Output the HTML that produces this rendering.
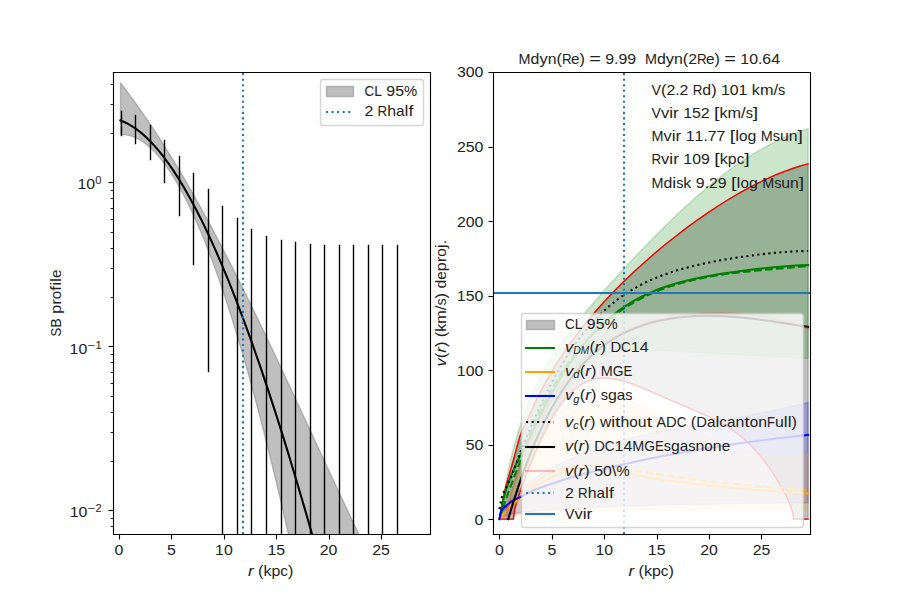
<!DOCTYPE html>
<html><head><meta charset="utf-8"><title>plot</title>
<style>html,body{margin:0;padding:0;background:#fff;width:900px;height:600px;overflow:hidden}svg{display:block}</style>
</head><body>
<svg width="900" height="600" viewBox="0 0 648 432" version="1.1">
<defs>
<style type="text/css">*{stroke-linejoin: round; stroke-linecap: butt}</style>
</defs>
<g id="figure_1">
<g id="patch_1">
<path d="M 0 432 L 648 432 L 648 0 L 0 0 z" style="fill: #ffffff"/>
</g>
<g id="axes_1">
<g id="patch_2">
<path d="M 81.36 384.48 L 309.6 384.48 L 309.6 51.84 L 81.36 51.84 z" style="fill: #ffffff"/>
</g>
<g id="FillBetweenPolyCollection_1">
<path d="M 86.76 59.54 
L 86.76 96.95 
L 87.03 96.94 
L 87.3 96.93 
L 87.58 96.93 
L 87.85 96.93 
L 88.12 96.93 
L 88.39 96.93 
L 88.67 96.94 
L 88.94 96.96 
L 89.21 96.97 
L 89.48 96.99 
L 89.76 97.01 
L 90.03 97.04 
L 90.3 97.07 
L 90.57 97.1 
L 90.85 97.14 
L 91.12 97.18 
L 91.39 97.22 
L 91.66 97.27 
L 91.94 97.32 
L 92.21 97.37 
L 92.48 97.43 
L 92.75 97.49 
L 93.03 97.56 
L 93.3 97.62 
L 93.57 97.69 
L 93.84 97.77 
L 94.12 97.85 
L 94.39 97.93 
L 94.66 98.01 
L 94.93 98.1 
L 95.21 98.19 
L 95.48 98.28 
L 95.75 98.38 
L 96.03 98.48 
L 96.3 98.59 
L 96.57 98.69 
L 96.84 98.81 
L 97.12 98.92 
L 97.39 99.04 
L 97.66 99.16 
L 97.93 99.28 
L 98.21 99.41 
L 98.48 99.54 
L 98.75 99.68 
L 99.02 99.81 
L 99.3 99.96 
L 99.57 100.1 
L 99.84 100.25 
L 100.11 100.4 
L 100.39 100.55 
L 100.66 100.71 
L 100.93 100.87 
L 101.2 101.04 
L 101.48 101.2 
L 101.75 101.37 
L 102.02 101.55 
L 102.29 101.72 
L 102.57 101.91 
L 102.84 102.09 
L 103.11 102.28 
L 103.38 102.47 
L 103.66 102.66 
L 103.93 102.86 
L 104.2 103.06 
L 104.47 103.26 
L 104.75 103.47 
L 105.02 103.68 
L 105.29 103.89 
L 105.56 104.11 
L 105.84 104.33 
L 106.11 104.55 
L 106.38 104.78 
L 106.65 105.01 
L 106.93 105.24 
L 107.2 105.48 
L 107.47 105.71 
L 107.74 105.96 
L 108.02 106.2 
L 108.29 106.45 
L 108.56 106.7 
L 108.83 106.96 
L 109.11 107.22 
L 109.38 107.48 
L 109.65 107.74 
L 109.92 108.01 
L 110.2 108.28 
L 110.47 108.56 
L 110.74 108.83 
L 111.01 109.11 
L 111.29 109.4 
L 111.56 109.69 
L 111.83 109.98 
L 112.11 110.27 
L 112.38 110.57 
L 112.65 110.87 
L 112.92 111.17 
L 113.2 111.47 
L 113.47 111.78 
L 113.74 112.1 
L 114.01 112.41 
L 114.29 112.73 
L 114.56 113.05 
L 114.83 113.38 
L 115.1 113.7 
L 115.38 114.04 
L 115.65 114.37 
L 115.92 114.71 
L 116.19 115.05 
L 116.47 115.39 
L 116.74 115.74 
L 117.01 116.09 
L 117.28 116.44 
L 117.56 116.8 
L 117.83 117.16 
L 118.1 117.52 
L 118.37 117.88 
L 118.65 118.25 
L 118.92 118.62 
L 119.19 119 
L 119.46 119.38 
L 119.74 119.76 
L 120.01 120.14 
L 120.28 120.53 
L 120.55 120.92 
L 120.83 121.31 
L 121.1 121.71 
L 121.37 122.11 
L 121.64 122.51 
L 121.92 122.91 
L 122.19 123.32 
L 122.46 123.73 
L 122.73 124.15 
L 123.01 124.56 
L 123.28 124.98 
L 123.55 125.41 
L 123.82 125.83 
L 124.1 126.26 
L 124.37 126.7 
L 124.64 127.13 
L 124.91 127.57 
L 125.19 128.01 
L 125.46 128.46 
L 125.73 128.9 
L 126 129.35 
L 126.28 129.81 
L 126.55 130.26 
L 126.82 130.72 
L 127.09 131.19 
L 127.37 131.65 
L 127.64 132.12 
L 127.91 132.59 
L 128.18 133.07 
L 128.46 133.54 
L 128.73 134.02 
L 129 134.51 
L 129.28 134.99 
L 129.55 135.48 
L 129.82 135.98 
L 130.09 136.47 
L 130.37 136.97 
L 130.64 137.47 
L 130.91 137.97 
L 131.18 138.48 
L 131.46 138.99 
L 131.73 139.5 
L 132 140.02 
L 132.27 140.54 
L 132.55 141.06 
L 132.82 141.58 
L 133.09 142.11 
L 133.36 142.64 
L 133.64 143.17 
L 133.91 143.71 
L 134.18 144.25 
L 134.45 144.79 
L 134.73 145.34 
L 135 145.88 
L 135.27 146.43 
L 135.54 146.99 
L 135.82 147.54 
L 136.09 148.1 
L 136.36 148.67 
L 136.63 149.23 
L 136.91 149.8 
L 137.18 150.37 
L 137.45 150.94 
L 137.72 151.52 
L 138 152.1 
L 138.27 152.68 
L 138.54 153.27 
L 138.81 153.85 
L 139.09 154.44 
L 139.36 155.04 
L 139.63 155.63 
L 139.9 156.23 
L 140.18 156.84 
L 140.45 157.44 
L 140.72 158.05 
L 140.99 158.66 
L 141.27 159.27 
L 141.54 159.89 
L 141.81 160.51 
L 142.08 161.13 
L 142.36 161.75 
L 142.63 162.38 
L 142.9 163.01 
L 143.17 163.64 
L 143.45 164.28 
L 143.72 164.92 
L 143.99 165.56 
L 144.26 166.2 
L 144.54 166.85 
L 144.81 167.5 
L 145.08 168.15 
L 145.35 168.81 
L 145.63 169.47 
L 145.9 170.13 
L 146.17 170.79 
L 146.45 171.46 
L 146.72 172.13 
L 146.99 172.8 
L 147.26 173.47 
L 147.54 174.15 
L 147.81 174.83 
L 148.08 175.51 
L 148.35 176.2 
L 148.63 176.89 
L 148.9 177.58 
L 149.17 178.27 
L 149.44 178.97 
L 149.72 179.67 
L 149.99 180.37 
L 150.26 181.07 
L 150.53 181.78 
L 150.81 182.49 
L 151.08 183.2 
L 151.35 183.92 
L 151.62 184.64 
L 151.9 185.36 
L 152.17 186.08 
L 152.44 186.81 
L 152.71 187.53 
L 152.99 188.27 
L 153.26 189 
L 153.53 189.74 
L 153.8 190.48 
L 154.08 191.22 
L 154.35 191.96 
L 154.62 192.71 
L 154.89 193.46 
L 155.17 194.21 
L 155.44 194.97 
L 155.71 195.73 
L 155.98 196.49 
L 156.26 197.25 
L 156.53 198.02 
L 156.8 198.78 
L 157.07 199.56 
L 157.35 200.33 
L 157.62 201.11 
L 157.89 201.89 
L 158.16 202.67 
L 158.44 203.45 
L 158.71 204.24 
L 158.98 205.03 
L 159.25 205.82 
L 159.53 206.61 
L 159.8 207.41 
L 160.07 208.21 
L 160.34 209.01 
L 160.62 209.82 
L 160.89 210.63 
L 161.16 211.44 
L 161.43 212.25 
L 161.71 213.07 
L 161.98 213.88 
L 162.25 214.7 
L 162.53 215.53 
L 162.8 216.35 
L 163.07 217.18 
L 163.34 218.01 
L 163.62 218.84 
L 163.89 219.68 
L 164.16 220.52 
L 164.43 221.36 
L 164.71 222.2 
L 164.98 223.05 
L 165.25 223.9 
L 165.52 224.75 
L 165.8 225.6 
L 166.07 226.46 
L 166.34 227.32 
L 166.61 228.18 
L 166.89 229.04 
L 167.16 229.91 
L 167.43 230.78 
L 167.7 231.65 
L 167.98 232.52 
L 168.25 233.4 
L 168.52 234.28 
L 168.79 235.16 
L 169.07 236.04 
L 169.34 236.93 
L 169.61 237.82 
L 169.88 238.71 
L 170.16 239.6 
L 170.43 240.5 
L 170.7 241.4 
L 170.97 242.3 
L 171.25 243.2 
L 171.52 244.11 
L 171.79 245.01 
L 172.06 245.92 
L 172.34 246.84 
L 172.61 247.75 
L 172.88 248.67 
L 173.15 249.59 
L 173.43 250.51 
L 173.7 251.44 
L 173.97 252.37 
L 174.24 253.3 
L 174.52 254.23 
L 174.79 255.17 
L 175.06 256.1 
L 175.33 257.04 
L 175.61 257.99 
L 175.88 258.93 
L 176.15 259.88 
L 176.42 260.83 
L 176.7 261.78 
L 176.97 262.73 
L 177.24 263.69 
L 177.51 264.65 
L 177.79 265.61 
L 178.06 266.57 
L 178.33 267.54 
L 178.6 268.51 
L 178.88 269.48 
L 179.15 270.45 
L 179.42 271.43 
L 179.7 272.41 
L 179.97 273.39 
L 180.24 274.37 
L 180.51 275.36 
L 180.79 276.34 
L 181.06 277.33 
L 181.33 278.32 
L 181.6 279.32 
L 181.88 280.32 
L 182.15 281.31 
L 182.42 282.32 
L 182.69 283.32 
L 182.97 284.33 
L 183.24 285.33 
L 183.51 286.35 
L 183.78 287.36 
L 184.06 288.37 
L 184.33 289.39 
L 184.6 290.41 
L 184.87 291.43 
L 185.15 292.46 
L 185.42 293.48 
L 185.69 294.51 
L 185.96 295.55 
L 186.24 296.58 
L 186.51 297.61 
L 186.78 298.65 
L 187.05 299.69 
L 187.33 300.74 
L 187.6 301.78 
L 187.87 302.83 
L 188.14 303.88 
L 188.42 304.93 
L 188.69 305.98 
L 188.96 307.04 
L 189.23 308.1 
L 189.51 309.16 
L 189.78 310.22 
L 190.05 311.29 
L 190.32 312.35 
L 190.6 313.42 
L 190.87 314.5 
L 191.14 315.57 
L 191.41 316.65 
L 191.69 317.73 
L 191.96 318.81 
L 192.23 319.89 
L 192.5 320.97 
L 192.78 322.06 
L 193.05 323.15 
L 193.32 324.24 
L 193.59 325.34 
L 193.87 326.43 
L 194.14 327.53 
L 194.41 328.63 
L 194.68 329.74 
L 194.96 330.84 
L 195.23 331.95 
L 195.5 333.06 
L 195.77 334.17 
L 196.05 335.28 
L 196.32 336.4 
L 196.59 337.52 
L 196.87 338.64 
L 197.14 339.76 
L 197.41 340.88 
L 197.68 342.01 
L 197.96 343.14 
L 198.23 344.27 
L 198.5 345.4 
L 198.77 346.54 
L 199.05 347.67 
L 199.32 348.81 
L 199.59 349.95 
L 199.86 351.1 
L 200.14 352.24 
L 200.41 353.39 
L 200.68 354.54 
L 200.95 355.69 
L 201.23 356.85 
L 201.5 358 
L 201.77 359.16 
L 202.04 360.32 
L 202.32 361.48 
L 202.59 362.65 
L 202.86 363.81 
L 203.13 364.98 
L 203.41 366.15 
L 203.68 367.33 
L 203.95 368.5 
L 204.22 369.68 
L 204.5 370.86 
L 204.77 372.04 
L 205.04 373.22 
L 205.31 374.41 
L 205.59 375.59 
L 205.86 376.78 
L 206.13 377.97 
L 206.4 379.17 
L 206.68 380.36 
L 206.95 381.56 
L 207.22 382.76 
L 207.49 383.96 
L 207.77 385.17 
L 208.04 386.37 
L 208.31 387.58 
L 208.58 388.79 
L 208.86 390 
L 209.13 391.21 
L 209.4 392.43 
L 209.67 393.65 
L 209.95 394.87 
L 210.22 396.09 
L 210.49 397.31 
L 210.76 398.54 
L 211.04 399.76 
L 211.31 400.99 
L 211.58 402.22 
L 211.85 403.46 
L 212.13 404.69 
L 212.4 405.93 
L 212.67 407.17 
L 212.94 408.41 
L 213.22 409.65 
L 213.49 410.9 
L 213.76 412.15 
L 214.04 413.4 
L 214.31 414.65 
L 214.58 415.9 
L 214.85 417.16 
L 215.13 418.41 
L 215.4 419.67 
L 215.67 420.93 
L 215.94 422.19 
L 216.22 423.46 
L 216.49 424.73 
L 216.76 425.99 
L 217.03 427.26 
L 217.31 428.54 
L 217.58 429.81 
L 217.85 431.09 
L 218.12 432.37 
L 218.4 433.64 
L 218.67 434.93 
L 218.94 436.21 
L 219.21 437.5 
L 219.49 438.78 
L 219.76 440.07 
L 220.03 441.36 
L 220.3 442.66 
L 220.58 443.95 
L 220.85 445.25 
L 221.12 446.55 
L 221.39 447.85 
L 221.67 449.15 
L 221.94 450.45 
L 222.21 451.76 
L 222.48 453.07 
L 222.76 454.38 
L 223.03 455.69 
L 223.3 457 
L 223.57 458.32 
L 223.85 459.64 
L 224.12 460.95 
L 224.39 462.27 
L 224.66 463.6 
L 224.94 464.92 
L 225.21 466.25 
L 225.48 467.58 
L 225.75 468.91 
L 226.03 470.24 
L 226.3 471.57 
L 226.57 472.91 
L 226.84 474.24 
L 227.12 475.58 
L 227.39 476.92 
L 227.66 478.27 
L 227.93 479.61 
L 228.21 480.96 
L 228.48 482.3 
L 228.75 483.65 
L 229.02 485 
L 229.3 486.36 
L 229.57 487.71 
L 229.84 489.07 
L 230.12 490.43 
L 230.39 491.79 
L 230.66 493.15 
L 230.93 494.51 
L 231.21 495.88 
L 231.48 497.24 
L 231.75 498.61 
L 232.02 499.98 
L 232.3 501.36 
L 232.57 502.73 
L 232.84 504.11 
L 233.11 505.48 
L 233.39 506.86 
L 233.66 508.24 
L 233.93 509.63 
L 234.2 511.01 
L 234.48 512.4 
L 234.75 513.78 
L 235.02 515.17 
L 235.29 516.56 
L 235.57 517.96 
L 235.84 519.35 
L 236.11 520.75 
L 236.38 522.14 
L 236.66 523.54 
L 236.93 524.95 
L 237.2 526.35 
L 237.47 527.75 
L 237.75 529.16 
L 238.02 530.57 
L 238.29 531.98 
L 238.56 533.39 
L 238.84 534.8 
L 239.11 536.21 
L 239.38 537.63 
L 239.65 539.05 
L 239.93 540.47 
L 240.2 541.89 
L 240.47 543.31 
L 240.74 544.74 
L 241.02 546.16 
L 241.29 547.59 
L 241.56 549.02 
L 241.83 550.45 
L 242.11 551.88 
L 242.38 553.31 
L 242.65 554.75 
L 242.92 556.19 
L 243.2 557.63 
L 243.47 559.07 
L 243.74 560.51 
L 244.01 561.95 
L 244.29 563.4 
L 244.56 564.84 
L 244.83 566.29 
L 245.1 567.74 
L 245.38 569.19 
L 245.65 570.65 
L 245.92 572.1 
L 246.19 573.56 
L 246.47 575.01 
L 246.74 576.47 
L 247.01 577.94 
L 247.29 579.4 
L 247.56 580.86 
L 247.83 582.33 
L 248.1 583.79 
L 248.38 585.26 
L 248.65 586.73 
L 248.92 588.2 
L 249.19 589.68 
L 249.47 591.15 
L 249.74 592.63 
L 250.01 594.11 
L 250.28 595.58 
L 250.56 597.07 
L 250.83 598.55 
L 251.1 600.03 
L 251.37 601.52 
L 251.65 603 
L 251.92 604.49 
L 252.19 605.98 
L 252.46 607.47 
L 252.74 608.97 
L 253.01 610.46 
L 253.28 611.96 
L 253.55 613.45 
L 253.83 614.95 
L 254.1 616.45 
L 254.37 617.95 
L 254.64 619.46 
L 254.92 620.96 
L 255.19 622.47 
L 255.46 623.97 
L 255.73 625.48 
L 256.01 626.99 
L 256.28 628.5 
L 256.55 630.02 
L 256.82 631.53 
L 257.1 633.05 
L 257.37 634.57 
L 257.64 636.08 
L 257.91 637.6 
L 258.19 639.13 
L 258.46 640.65 
L 258.73 642.17 
L 259 643.7 
L 259.28 645.23 
L 259.55 646.76 
L 259.82 648.29 
L 260.09 649.82 
L 260.37 651.35 
L 260.64 652.89 
L 260.91 654.42 
L 261.18 655.96 
L 261.46 657.5 
L 261.73 659.04 
L 262 660.58 
L 262.27 662.12 
L 262.55 663.66 
L 262.82 665.21 
L 263.09 666.76 
L 263.36 668.3 
L 263.64 669.85 
L 263.91 671.41 
L 264.18 672.96 
L 264.46 674.51 
L 264.73 676.07 
L 265 677.62 
L 265.27 679.18 
L 265.55 680.74 
L 265.82 682.3 
L 266.09 683.86 
L 266.36 685.42 
L 266.64 686.99 
L 266.91 688.55 
L 267.18 690.12 
L 267.45 691.69 
L 267.73 693.26 
L 268 694.83 
L 268.27 696.4 
L 268.54 697.97 
L 268.82 699.55 
L 269.09 701.12 
L 269.36 702.7 
L 269.63 704.28 
L 269.91 705.86 
L 270.18 707.44 
L 270.45 709.02 
L 270.72 710.61 
L 271 712.19 
L 271.27 713.78 
L 271.54 715.36 
L 271.81 716.95 
L 272.09 718.54 
L 272.36 720.13 
L 272.63 721.73 
L 272.9 723.32 
L 273.18 724.91 
L 273.45 726.51 
L 273.72 728.11 
L 273.99 729.71 
L 274.27 731.31 
L 274.54 732.91 
L 274.81 734.51 
L 275.08 736.11 
L 275.36 737.72 
L 275.63 739.32 
L 275.9 740.93 
L 276.17 742.54 
L 276.45 744.15 
L 276.72 745.76 
L 276.99 747.37 
L 277.26 748.98 
L 277.54 750.6 
L 277.81 752.21 
L 278.08 753.83 
L 278.35 755.45 
L 278.63 757.07 
L 278.9 758.69 
L 279.17 760.31 
L 279.44 761.93 
L 279.72 763.55 
L 279.99 765.18 
L 280.26 766.81 
L 280.54 768.43 
L 280.81 770.06 
L 281.08 771.69 
L 281.35 773.32 
L 281.63 774.95 
L 281.9 776.59 
L 282.17 778.22 
L 282.44 779.85 
L 282.72 781.49 
L 282.99 783.13 
L 283.26 784.77 
L 283.53 786.41 
L 283.81 788.05 
L 284.08 789.69 
L 284.35 791.33 
L 284.62 792.98 
L 284.9 794.62 
L 285.17 796.27 
L 285.44 797.91 
L 285.71 799.56 
L 285.99 801.21 
L 286.26 802.86 
L 286.53 804.51 
L 286.8 806.17 
L 287.08 807.82 
L 287.35 809.48 
L 287.62 811.13 
L 287.89 812.79 
L 288.17 814.45 
L 288.44 816.11 
L 288.71 817.77 
L 288.98 819.43 
L 289.26 821.09 
L 289.53 822.75 
L 289.8 824.42 
L 290.07 826.08 
L 290.35 827.75 
L 290.62 829.42 
L 290.89 831.09 
L 291.16 832.76 
L 291.44 834.43 
L 291.71 836.1 
L 291.98 837.77 
L 292.25 839.44 
L 292.53 841.12 
L 292.8 842.79 
L 293.07 844.47 
L 293.34 846.15 
L 293.62 847.83 
L 293.89 849.51 
L 294.16 851.19 
L 294.43 852.87 
L 294.71 854.55 
L 294.98 856.24 
L 295.25 857.92 
L 295.52 859.61 
L 295.8 861.29 
L 296.07 862.98 
L 296.34 864.67 
L 296.61 866.36 
L 296.89 868.05 
L 297.16 869.74 
L 297.43 871.43 
L 297.71 873.12 
L 297.98 874.82 
L 298.25 876.51 
L 298.52 878.21 
L 298.8 879.91 
L 299.07 881.61 
L 299.34 883.3 
L 299.61 885 
L 299.89 886.7 
L 300.16 888.41 
L 300.43 890.11 
L 300.7 891.81 
L 300.98 893.52 
L 301.25 895.22 
L 301.52 896.93 
L 301.79 898.63 
L 302.07 900.34 
L 302.34 902.05 
L 302.61 903.76 
L 302.88 905.47 
L 303.16 907.18 
L 303.43 908.9 
L 303.7 910.61 
L 303.97 912.32 
L 304.25 914.04 
L 304.52 915.75 
L 304.52 474.8 
L 304.52 474.8 
L 304.25 474.32 
L 303.97 473.83 
L 303.7 473.34 
L 303.43 472.86 
L 303.16 472.37 
L 302.88 471.88 
L 302.61 471.39 
L 302.34 470.9 
L 302.07 470.4 
L 301.79 469.91 
L 301.52 469.42 
L 301.25 468.93 
L 300.98 468.43 
L 300.7 467.94 
L 300.43 467.44 
L 300.16 466.94 
L 299.89 466.45 
L 299.61 465.95 
L 299.34 465.45 
L 299.07 464.95 
L 298.8 464.45 
L 298.52 463.95 
L 298.25 463.45 
L 297.98 462.95 
L 297.71 462.45 
L 297.43 461.95 
L 297.16 461.44 
L 296.89 460.94 
L 296.61 460.44 
L 296.34 459.93 
L 296.07 459.42 
L 295.8 458.92 
L 295.52 458.41 
L 295.25 457.9 
L 294.98 457.4 
L 294.71 456.89 
L 294.43 456.38 
L 294.16 455.87 
L 293.89 455.36 
L 293.62 454.85 
L 293.34 454.33 
L 293.07 453.82 
L 292.8 453.31 
L 292.53 452.8 
L 292.25 452.28 
L 291.98 451.77 
L 291.71 451.25 
L 291.44 450.74 
L 291.16 450.22 
L 290.89 449.7 
L 290.62 449.18 
L 290.35 448.67 
L 290.07 448.15 
L 289.8 447.63 
L 289.53 447.11 
L 289.26 446.59 
L 288.98 446.07 
L 288.71 445.55 
L 288.44 445.02 
L 288.17 444.5 
L 287.89 443.98 
L 287.62 443.45 
L 287.35 442.93 
L 287.08 442.41 
L 286.8 441.88 
L 286.53 441.35 
L 286.26 440.83 
L 285.99 440.3 
L 285.71 439.77 
L 285.44 439.25 
L 285.17 438.72 
L 284.9 438.19 
L 284.62 437.66 
L 284.35 437.13 
L 284.08 436.6 
L 283.81 436.07 
L 283.53 435.54 
L 283.26 435 
L 282.99 434.47 
L 282.72 433.94 
L 282.44 433.41 
L 282.17 432.87 
L 281.9 432.34 
L 281.63 431.8 
L 281.35 431.27 
L 281.08 430.73 
L 280.81 430.19 
L 280.54 429.66 
L 280.26 429.12 
L 279.99 428.58 
L 279.72 428.04 
L 279.44 427.5 
L 279.17 426.96 
L 278.9 426.42 
L 278.63 425.88 
L 278.35 425.34 
L 278.08 424.8 
L 277.81 424.26 
L 277.54 423.72 
L 277.26 423.18 
L 276.99 422.63 
L 276.72 422.09 
L 276.45 421.55 
L 276.17 421 
L 275.9 420.46 
L 275.63 419.91 
L 275.36 419.37 
L 275.08 418.82 
L 274.81 418.27 
L 274.54 417.73 
L 274.27 417.18 
L 273.99 416.63 
L 273.72 416.08 
L 273.45 415.53 
L 273.18 414.98 
L 272.9 414.43 
L 272.63 413.88 
L 272.36 413.33 
L 272.09 412.78 
L 271.81 412.23 
L 271.54 411.68 
L 271.27 411.13 
L 271 410.58 
L 270.72 410.02 
L 270.45 409.47 
L 270.18 408.92 
L 269.91 408.36 
L 269.63 407.81 
L 269.36 407.25 
L 269.09 406.7 
L 268.82 406.14 
L 268.54 405.59 
L 268.27 405.03 
L 268 404.47 
L 267.73 403.92 
L 267.45 403.36 
L 267.18 402.8 
L 266.91 402.24 
L 266.64 401.68 
L 266.36 401.12 
L 266.09 400.57 
L 265.82 400.01 
L 265.55 399.45 
L 265.27 398.89 
L 265 398.32 
L 264.73 397.76 
L 264.46 397.2 
L 264.18 396.64 
L 263.91 396.08 
L 263.64 395.52 
L 263.36 394.95 
L 263.09 394.39 
L 262.82 393.83 
L 262.55 393.26 
L 262.27 392.7 
L 262 392.13 
L 261.73 391.57 
L 261.46 391 
L 261.18 390.44 
L 260.91 389.87 
L 260.64 389.31 
L 260.37 388.74 
L 260.09 388.17 
L 259.82 387.61 
L 259.55 387.04 
L 259.28 386.47 
L 259 385.9 
L 258.73 385.34 
L 258.46 384.77 
L 258.19 384.2 
L 257.91 383.63 
L 257.64 383.06 
L 257.37 382.49 
L 257.1 381.92 
L 256.82 381.35 
L 256.55 380.78 
L 256.28 380.21 
L 256.01 379.64 
L 255.73 379.07 
L 255.46 378.5 
L 255.19 377.92 
L 254.92 377.35 
L 254.64 376.78 
L 254.37 376.21 
L 254.1 375.63 
L 253.83 375.06 
L 253.55 374.49 
L 253.28 373.91 
L 253.01 373.34 
L 252.74 372.77 
L 252.46 372.19 
L 252.19 371.62 
L 251.92 371.04 
L 251.65 370.47 
L 251.37 369.89 
L 251.1 369.32 
L 250.83 368.74 
L 250.56 368.16 
L 250.28 367.59 
L 250.01 367.01 
L 249.74 366.43 
L 249.47 365.86 
L 249.19 365.28 
L 248.92 364.7 
L 248.65 364.13 
L 248.38 363.55 
L 248.1 362.97 
L 247.83 362.39 
L 247.56 361.81 
L 247.29 361.23 
L 247.01 360.66 
L 246.74 360.08 
L 246.47 359.5 
L 246.19 358.92 
L 245.92 358.34 
L 245.65 357.76 
L 245.38 357.18 
L 245.1 356.6 
L 244.83 356.02 
L 244.56 355.44 
L 244.29 354.86 
L 244.01 354.28 
L 243.74 353.7 
L 243.47 353.11 
L 243.2 352.53 
L 242.92 351.95 
L 242.65 351.37 
L 242.38 350.79 
L 242.11 350.21 
L 241.83 349.62 
L 241.56 349.04 
L 241.29 348.46 
L 241.02 347.88 
L 240.74 347.29 
L 240.47 346.71 
L 240.2 346.13 
L 239.93 345.54 
L 239.65 344.96 
L 239.38 344.38 
L 239.11 343.79 
L 238.84 343.21 
L 238.56 342.63 
L 238.29 342.04 
L 238.02 341.46 
L 237.75 340.87 
L 237.47 340.29 
L 237.2 339.71 
L 236.93 339.12 
L 236.66 338.54 
L 236.38 337.95 
L 236.11 337.37 
L 235.84 336.78 
L 235.57 336.2 
L 235.29 335.61 
L 235.02 335.03 
L 234.75 334.44 
L 234.48 333.86 
L 234.2 333.27 
L 233.93 332.68 
L 233.66 332.1 
L 233.39 331.51 
L 233.11 330.93 
L 232.84 330.34 
L 232.57 329.75 
L 232.3 329.17 
L 232.02 328.58 
L 231.75 328 
L 231.48 327.41 
L 231.21 326.82 
L 230.93 326.24 
L 230.66 325.65 
L 230.39 325.06 
L 230.12 324.48 
L 229.84 323.89 
L 229.57 323.3 
L 229.3 322.72 
L 229.02 322.13 
L 228.75 321.54 
L 228.48 320.96 
L 228.21 320.37 
L 227.93 319.78 
L 227.66 319.2 
L 227.39 318.61 
L 227.12 318.02 
L 226.84 317.43 
L 226.57 316.85 
L 226.3 316.26 
L 226.03 315.67 
L 225.75 315.09 
L 225.48 314.5 
L 225.21 313.91 
L 224.94 313.32 
L 224.66 312.74 
L 224.39 312.15 
L 224.12 311.56 
L 223.85 310.97 
L 223.57 310.39 
L 223.3 309.8 
L 223.03 309.21 
L 222.76 308.63 
L 222.48 308.04 
L 222.21 307.45 
L 221.94 306.86 
L 221.67 306.28 
L 221.39 305.69 
L 221.12 305.1 
L 220.85 304.52 
L 220.58 303.93 
L 220.3 303.34 
L 220.03 302.75 
L 219.76 302.17 
L 219.49 301.58 
L 219.21 300.99 
L 218.94 300.41 
L 218.67 299.82 
L 218.4 299.23 
L 218.12 298.65 
L 217.85 298.06 
L 217.58 297.47 
L 217.31 296.89 
L 217.03 296.3 
L 216.76 295.71 
L 216.49 295.13 
L 216.22 294.54 
L 215.94 293.95 
L 215.67 293.37 
L 215.4 292.78 
L 215.13 292.2 
L 214.85 291.61 
L 214.58 291.02 
L 214.31 290.44 
L 214.04 289.85 
L 213.76 289.27 
L 213.49 288.68 
L 213.22 288.1 
L 212.94 287.51 
L 212.67 286.92 
L 212.4 286.34 
L 212.13 285.75 
L 211.85 285.17 
L 211.58 284.58 
L 211.31 284 
L 211.04 283.41 
L 210.76 282.83 
L 210.49 282.25 
L 210.22 281.66 
L 209.95 281.08 
L 209.67 280.49 
L 209.4 279.91 
L 209.13 279.32 
L 208.86 278.74 
L 208.58 278.16 
L 208.31 277.57 
L 208.04 276.99 
L 207.77 276.41 
L 207.49 275.82 
L 207.22 275.24 
L 206.95 274.66 
L 206.68 274.08 
L 206.4 273.49 
L 206.13 272.91 
L 205.86 272.33 
L 205.59 271.75 
L 205.31 271.16 
L 205.04 270.58 
L 204.77 270 
L 204.5 269.42 
L 204.22 268.84 
L 203.95 268.26 
L 203.68 267.68 
L 203.41 267.09 
L 203.13 266.51 
L 202.86 265.93 
L 202.59 265.35 
L 202.32 264.77 
L 202.04 264.19 
L 201.77 263.61 
L 201.5 263.03 
L 201.23 262.45 
L 200.95 261.88 
L 200.68 261.3 
L 200.41 260.72 
L 200.14 260.14 
L 199.86 259.56 
L 199.59 258.98 
L 199.32 258.41 
L 199.05 257.83 
L 198.77 257.25 
L 198.5 256.67 
L 198.23 256.1 
L 197.96 255.52 
L 197.68 254.94 
L 197.41 254.37 
L 197.14 253.79 
L 196.87 253.21 
L 196.59 252.64 
L 196.32 252.06 
L 196.05 251.49 
L 195.77 250.91 
L 195.5 250.34 
L 195.23 249.76 
L 194.96 249.19 
L 194.68 248.61 
L 194.41 248.04 
L 194.14 247.47 
L 193.87 246.89 
L 193.59 246.32 
L 193.32 245.75 
L 193.05 245.17 
L 192.78 244.6 
L 192.5 244.03 
L 192.23 243.46 
L 191.96 242.89 
L 191.69 242.32 
L 191.41 241.74 
L 191.14 241.17 
L 190.87 240.6 
L 190.6 240.03 
L 190.32 239.46 
L 190.05 238.89 
L 189.78 238.33 
L 189.51 237.76 
L 189.23 237.19 
L 188.96 236.62 
L 188.69 236.05 
L 188.42 235.48 
L 188.14 234.92 
L 187.87 234.35 
L 187.6 233.78 
L 187.33 233.22 
L 187.05 232.65 
L 186.78 232.08 
L 186.51 231.52 
L 186.24 230.95 
L 185.96 230.39 
L 185.69 229.82 
L 185.42 229.26 
L 185.15 228.69 
L 184.87 228.13 
L 184.6 227.57 
L 184.33 227 
L 184.06 226.44 
L 183.78 225.88 
L 183.51 225.32 
L 183.24 224.76 
L 182.97 224.19 
L 182.69 223.63 
L 182.42 223.07 
L 182.15 222.51 
L 181.88 221.95 
L 181.6 221.39 
L 181.33 220.83 
L 181.06 220.27 
L 180.79 219.72 
L 180.51 219.16 
L 180.24 218.6 
L 179.97 218.04 
L 179.7 217.49 
L 179.42 216.93 
L 179.15 216.37 
L 178.88 215.82 
L 178.6 215.26 
L 178.33 214.71 
L 178.06 214.15 
L 177.79 213.6 
L 177.51 213.04 
L 177.24 212.49 
L 176.97 211.94 
L 176.7 211.38 
L 176.42 210.83 
L 176.15 210.28 
L 175.88 209.73 
L 175.61 209.18 
L 175.33 208.63 
L 175.06 208.08 
L 174.79 207.53 
L 174.52 206.98 
L 174.24 206.43 
L 173.97 205.88 
L 173.7 205.33 
L 173.43 204.78 
L 173.15 204.24 
L 172.88 203.69 
L 172.61 203.14 
L 172.34 202.6 
L 172.06 202.05 
L 171.79 201.51 
L 171.52 200.96 
L 171.25 200.42 
L 170.97 199.87 
L 170.7 199.33 
L 170.43 198.79 
L 170.16 198.24 
L 169.88 197.7 
L 169.61 197.16 
L 169.34 196.62 
L 169.07 196.08 
L 168.79 195.54 
L 168.52 195 
L 168.25 194.46 
L 167.98 193.92 
L 167.7 193.38 
L 167.43 192.85 
L 167.16 192.31 
L 166.89 191.77 
L 166.61 191.23 
L 166.34 190.7 
L 166.07 190.16 
L 165.8 189.63 
L 165.52 189.09 
L 165.25 188.56 
L 164.98 188.03 
L 164.71 187.49 
L 164.43 186.96 
L 164.16 186.43 
L 163.89 185.9 
L 163.62 185.37 
L 163.34 184.84 
L 163.07 184.31 
L 162.8 183.78 
L 162.53 183.25 
L 162.25 182.72 
L 161.98 182.19 
L 161.71 181.66 
L 161.43 181.14 
L 161.16 180.61 
L 160.89 180.08 
L 160.62 179.56 
L 160.34 179.03 
L 160.07 178.51 
L 159.8 177.98 
L 159.53 177.46 
L 159.25 176.94 
L 158.98 176.42 
L 158.71 175.89 
L 158.44 175.37 
L 158.16 174.85 
L 157.89 174.33 
L 157.62 173.81 
L 157.35 173.29 
L 157.07 172.77 
L 156.8 172.25 
L 156.53 171.74 
L 156.26 171.22 
L 155.98 170.7 
L 155.71 170.19 
L 155.44 169.67 
L 155.17 169.16 
L 154.89 168.64 
L 154.62 168.13 
L 154.35 167.61 
L 154.08 167.1 
L 153.8 166.59 
L 153.53 166.08 
L 153.26 165.56 
L 152.99 165.05 
L 152.71 164.54 
L 152.44 164.03 
L 152.17 163.52 
L 151.9 163.02 
L 151.62 162.51 
L 151.35 162 
L 151.08 161.49 
L 150.81 160.99 
L 150.53 160.48 
L 150.26 159.98 
L 149.99 159.47 
L 149.72 158.97 
L 149.44 158.46 
L 149.17 157.96 
L 148.9 157.46 
L 148.63 156.96 
L 148.35 156.46 
L 148.08 155.95 
L 147.81 155.45 
L 147.54 154.95 
L 147.26 154.46 
L 146.99 153.96 
L 146.72 153.46 
L 146.45 152.96 
L 146.17 152.47 
L 145.9 151.97 
L 145.63 151.47 
L 145.35 150.98 
L 145.08 150.48 
L 144.81 149.99 
L 144.54 149.5 
L 144.26 149 
L 143.99 148.51 
L 143.72 148.02 
L 143.45 147.53 
L 143.17 147.04 
L 142.9 146.55 
L 142.63 146.06 
L 142.36 145.57 
L 142.08 145.09 
L 141.81 144.6 
L 141.54 144.11 
L 141.27 143.63 
L 140.99 143.14 
L 140.72 142.66 
L 140.45 142.17 
L 140.18 141.69 
L 139.9 141.2 
L 139.63 140.72 
L 139.36 140.24 
L 139.09 139.76 
L 138.81 139.28 
L 138.54 138.8 
L 138.27 138.32 
L 138 137.84 
L 137.72 137.36 
L 137.45 136.89 
L 137.18 136.41 
L 136.91 135.93 
L 136.63 135.46 
L 136.36 134.98 
L 136.09 134.51 
L 135.82 134.03 
L 135.54 133.56 
L 135.27 133.09 
L 135 132.62 
L 134.73 132.15 
L 134.45 131.68 
L 134.18 131.21 
L 133.91 130.74 
L 133.64 130.27 
L 133.36 129.8 
L 133.09 129.33 
L 132.82 128.87 
L 132.55 128.4 
L 132.27 127.94 
L 132 127.47 
L 131.73 127.01 
L 131.46 126.54 
L 131.18 126.08 
L 130.91 125.62 
L 130.64 125.16 
L 130.37 124.7 
L 130.09 124.24 
L 129.82 123.78 
L 129.55 123.32 
L 129.28 122.86 
L 129 122.4 
L 128.73 121.95 
L 128.46 121.49 
L 128.18 121.04 
L 127.91 120.58 
L 127.64 120.13 
L 127.37 119.67 
L 127.09 119.22 
L 126.82 118.77 
L 126.55 118.32 
L 126.28 117.87 
L 126 117.42 
L 125.73 116.97 
L 125.46 116.52 
L 125.19 116.07 
L 124.91 115.62 
L 124.64 115.18 
L 124.37 114.73 
L 124.1 114.29 
L 123.82 113.84 
L 123.55 113.4 
L 123.28 112.96 
L 123.01 112.51 
L 122.73 112.07 
L 122.46 111.63 
L 122.19 111.19 
L 121.92 110.75 
L 121.64 110.31 
L 121.37 109.87 
L 121.1 109.44 
L 120.83 109 
L 120.55 108.56 
L 120.28 108.13 
L 120.01 107.69 
L 119.74 107.26 
L 119.46 106.83 
L 119.19 106.39 
L 118.92 105.96 
L 118.65 105.53 
L 118.37 105.1 
L 118.1 104.67 
L 117.83 104.24 
L 117.56 103.81 
L 117.28 103.39 
L 117.01 102.96 
L 116.74 102.53 
L 116.47 102.11 
L 116.19 101.68 
L 115.92 101.26 
L 115.65 100.83 
L 115.38 100.41 
L 115.1 99.99 
L 114.83 99.57 
L 114.56 99.15 
L 114.29 98.73 
L 114.01 98.31 
L 113.74 97.89 
L 113.47 97.47 
L 113.2 97.05 
L 112.92 96.63 
L 112.65 96.22 
L 112.38 95.8 
L 112.11 95.39 
L 111.83 94.97 
L 111.56 94.56 
L 111.29 94.15 
L 111.01 93.73 
L 110.74 93.32 
L 110.47 92.91 
L 110.2 92.5 
L 109.92 92.09 
L 109.65 91.68 
L 109.38 91.27 
L 109.11 90.87 
L 108.83 90.46 
L 108.56 90.05 
L 108.29 89.65 
L 108.02 89.24 
L 107.74 88.84 
L 107.47 88.43 
L 107.2 88.03 
L 106.93 87.63 
L 106.65 87.23 
L 106.38 86.82 
L 106.11 86.42 
L 105.84 86.02 
L 105.56 85.62 
L 105.29 85.22 
L 105.02 84.83 
L 104.75 84.43 
L 104.47 84.03 
L 104.2 83.64 
L 103.93 83.24 
L 103.66 82.85 
L 103.38 82.45 
L 103.11 82.06 
L 102.84 81.66 
L 102.57 81.27 
L 102.29 80.88 
L 102.02 80.49 
L 101.75 80.1 
L 101.48 79.71 
L 101.2 79.32 
L 100.93 78.93 
L 100.66 78.54 
L 100.39 78.15 
L 100.11 77.77 
L 99.84 77.38 
L 99.57 77 
L 99.3 76.61 
L 99.02 76.23 
L 98.75 75.84 
L 98.48 75.46 
L 98.21 75.08 
L 97.93 74.69 
L 97.66 74.31 
L 97.39 73.93 
L 97.12 73.55 
L 96.84 73.17 
L 96.57 72.79 
L 96.3 72.42 
L 96.03 72.04 
L 95.75 71.66 
L 95.48 71.28 
L 95.21 70.91 
L 94.93 70.53 
L 94.66 70.16 
L 94.39 69.78 
L 94.12 69.41 
L 93.84 69.04 
L 93.57 68.66 
L 93.3 68.29 
L 93.03 67.92 
L 92.75 67.55 
L 92.48 67.18 
L 92.21 66.81 
L 91.94 66.44 
L 91.66 66.07 
L 91.39 65.71 
L 91.12 65.34 
L 90.85 64.97 
L 90.57 64.61 
L 90.3 64.24 
L 90.03 63.88 
L 89.76 63.51 
L 89.48 63.15 
L 89.21 62.78 
L 88.94 62.42 
L 88.67 62.06 
L 88.39 61.7 
L 88.12 61.34 
L 87.85 60.98 
L 87.58 60.62 
L 87.3 60.26 
L 87.03 59.9 
L 86.76 59.54 
z
" clip-path="url(#p0bbcbd8be4)" style="fill: #808080; fill-opacity: 0.5; stroke: #808080; stroke-opacity: 0.5"/>
</g>
<g id="matplotlib.axis_1">
<g id="xtick_1">
<g id="line2d_1">
<defs>
<path id="m7c25c535dc" d="M 0.36 0.36 L 0.36 3.96" style="stroke: #000000; stroke-width: 0.8"/>
</defs>
<g>
<use href="#m7c25c535dc" x="85.68" y="384.48" style="stroke: #000000; stroke-width: 0.8"/>
</g>
</g>
<g id="text_1">
<text style="font-size: 10.30px; font-family: 'Liberation Sans', sans-serif; text-anchor: start; fill: #222222" y="399.4" transform="rotate(-0 85.68 399.4)"><tspan x="82.53" textLength="6.36" lengthAdjust="spacingAndGlyphs">0</tspan></text>
</g>
</g>
<g id="xtick_2">
<g id="line2d_2">
<g>
<use href="#m7c25c535dc" x="123.12" y="384.48" style="stroke: #000000; stroke-width: 0.8"/>
</g>
</g>
<g id="text_2">
<text style="font-size: 10.30px; font-family: 'Liberation Sans', sans-serif; text-anchor: start; fill: #222222" y="399.4" transform="rotate(-0 123.41 399.4)"><tspan x="120.26" textLength="6.36" lengthAdjust="spacingAndGlyphs">5</tspan></text>
</g>
</g>
<g id="xtick_3">
<g id="line2d_3">
<g>
<use href="#m7c25c535dc" x="161.28" y="384.48" style="stroke: #000000; stroke-width: 0.8"/>
</g>
</g>
<g id="text_3">
<text style="font-size: 10.30px; font-family: 'Liberation Sans', sans-serif; text-anchor: start; fill: #222222" y="399.4" transform="rotate(-0 161.14 399.4)"><tspan x="154.8" textLength="6.36" lengthAdjust="spacingAndGlyphs">1</tspan><tspan x="161.19" textLength="6.36" lengthAdjust="spacingAndGlyphs">0</tspan></text>
</g>
</g>
<g id="xtick_4">
<g id="line2d_4">
<g>
<use href="#m7c25c535dc" x="198.72" y="384.48" style="stroke: #000000; stroke-width: 0.8"/>
</g>
</g>
<g id="text_4">
<text style="font-size: 10.30px; font-family: 'Liberation Sans', sans-serif; text-anchor: start; fill: #222222" y="399.4" transform="rotate(-0 198.87 399.4)"><tspan x="192.53" textLength="6.36" lengthAdjust="spacingAndGlyphs">1</tspan><tspan x="198.92" textLength="6.36" lengthAdjust="spacingAndGlyphs">5</tspan></text>
</g>
</g>
<g id="xtick_5">
<g id="line2d_5">
<g>
<use href="#m7c25c535dc" x="236.88" y="384.48" style="stroke: #000000; stroke-width: 0.8"/>
</g>
</g>
<g id="text_5">
<text style="font-size: 10.30px; font-family: 'Liberation Sans', sans-serif; text-anchor: start; fill: #222222" y="399.4" transform="rotate(-0 236.6 399.4)"><tspan x="230.3" textLength="6.36" lengthAdjust="spacingAndGlyphs">2</tspan><tspan x="236.6" textLength="6.36" lengthAdjust="spacingAndGlyphs">0</tspan></text>
</g>
</g>
<g id="xtick_6">
<g id="line2d_6">
<g>
<use href="#m7c25c535dc" x="274.32" y="384.48" style="stroke: #000000; stroke-width: 0.8"/>
</g>
</g>
<g id="text_6">
<text style="font-size: 10.30px; font-family: 'Liberation Sans', sans-serif; text-anchor: start; fill: #222222" y="399.4" transform="rotate(-0 274.33 399.4)"><tspan x="268.03" textLength="6.36" lengthAdjust="spacingAndGlyphs">2</tspan><tspan x="274.33" textLength="6.36" lengthAdjust="spacingAndGlyphs">5</tspan></text>
</g>
</g>
<g id="text_7">
<g transform="translate(178.51 414.92)">
<text>
<tspan x="0" y="-0.41" style="font-style: italic; font-size: 10.30px; font-family: 'Liberation Sans', sans-serif; fill: #222222" textLength="4.11" lengthAdjust="spacingAndGlyphs">r</tspan>
<tspan x="4.11" y="-0.41" style="font-size: 10.30px; font-family: 'Liberation Sans', sans-serif; fill: #222222"> </tspan>
<tspan x="7.29" y="-0.41" style="font-size: 10.30px; font-family: 'Liberation Sans', sans-serif; fill: #222222" textLength="3.90" lengthAdjust="spacingAndGlyphs">(</tspan>
<tspan x="11.19" y="-0.41" style="font-size: 10.30px; font-family: 'Liberation Sans', sans-serif; fill: #222222" textLength="5.79" lengthAdjust="spacingAndGlyphs">k</tspan>
<tspan x="16.98" y="-0.41" style="font-size: 10.30px; font-family: 'Liberation Sans', sans-serif; fill: #222222" textLength="6.35" lengthAdjust="spacingAndGlyphs">p</tspan>
<tspan x="23.33" y="-0.41" style="font-size: 10.30px; font-family: 'Liberation Sans', sans-serif; fill: #222222" textLength="5.50" lengthAdjust="spacingAndGlyphs">c</tspan>
<tspan x="28.83" y="-0.41" style="font-size: 10.30px; font-family: 'Liberation Sans', sans-serif; fill: #222222" textLength="3.90" lengthAdjust="spacingAndGlyphs">)</tspan>
</text>
</g>
</g>
</g>
<g id="matplotlib.axis_2">
<g id="ytick_1">
<g id="line2d_7">
<defs>
<path id="mb258c49b38" d="M 0.36 0.36 L -3.24 0.36" style="stroke: #000000; stroke-width: 0.8"/>
</defs>
<g>
<use href="#mb258c49b38" x="81.36" y="367.2" style="stroke: #000000; stroke-width: 0.8"/>
</g>
</g>
<g id="text_8">
<g transform="translate(50.13 373.1)">
<text>
<tspan x="0" y="-0.98" style="font-size: 10.30px; font-family: 'Liberation Sans', sans-serif; fill: #222222" textLength="6.36" lengthAdjust="spacingAndGlyphs">1</tspan>
<tspan x="6.36" y="-0.98" style="font-size: 10.30px; font-family: 'Liberation Sans', sans-serif; fill: #222222" textLength="6.36" lengthAdjust="spacingAndGlyphs">0</tspan>
<tspan x="12.82" y="-4.8" style="font-size: 7.21px; font-family: 'Liberation Sans', sans-serif; fill: #222222" textLength="5.87" lengthAdjust="spacingAndGlyphs">−</tspan>
<tspan x="18.69" y="-4.8" style="font-size: 7.21px; font-family: 'Liberation Sans', sans-serif; fill: #222222" textLength="4.45" lengthAdjust="spacingAndGlyphs">2</tspan>
</text>
</g>
</g>
</g>
<g id="ytick_2">
<g id="line2d_8">
<g>
<use href="#mb258c49b38" x="81.36" y="249.12" style="stroke: #000000; stroke-width: 0.8"/>
</g>
</g>
<g id="text_9">
<g transform="translate(50.11 255.02)">
<text>
<tspan x="0" y="-0.06" style="font-size: 10.30px; font-family: 'Liberation Sans', sans-serif; fill: #222222" textLength="6.36" lengthAdjust="spacingAndGlyphs">1</tspan>
<tspan x="6.36" y="-0.06" style="font-size: 10.30px; font-family: 'Liberation Sans', sans-serif; fill: #222222" textLength="6.36" lengthAdjust="spacingAndGlyphs">0</tspan>
<tspan x="12.82" y="-3.89" style="font-size: 7.21px; font-family: 'Liberation Sans', sans-serif; fill: #222222" textLength="5.87" lengthAdjust="spacingAndGlyphs">−</tspan>
<tspan x="18.69" y="-3.89" style="font-size: 7.21px; font-family: 'Liberation Sans', sans-serif; fill: #222222" textLength="4.45" lengthAdjust="spacingAndGlyphs">1</tspan>
</text>
</g>
</g>
</g>
<g id="ytick_3">
<g id="line2d_9">
<g>
<use href="#mb258c49b38" x="81.36" y="131.04" style="stroke: #000000; stroke-width: 0.8"/>
</g>
</g>
<g id="text_10">
<g transform="translate(55.79 136.94)">
<text>
<tspan x="0" y="-0.98" style="font-size: 10.30px; font-family: 'Liberation Sans', sans-serif; fill: #222222" textLength="6.36" lengthAdjust="spacingAndGlyphs">1</tspan>
<tspan x="6.36" y="-0.98" style="font-size: 10.30px; font-family: 'Liberation Sans', sans-serif; fill: #222222" textLength="6.36" lengthAdjust="spacingAndGlyphs">0</tspan>
<tspan x="12.82" y="-4.8" style="font-size: 7.21px; font-family: 'Liberation Sans', sans-serif; fill: #222222" textLength="4.45" lengthAdjust="spacingAndGlyphs">0</tspan>
</text>
</g>
</g>
</g>
<g id="ytick_4">
<g id="line2d_10">
<defs>
<path id="m353c5a86b0" d="M 0.36 0.36 L -1.8 0.36" style="stroke: #000000; stroke-width: 0.6"/>
</defs>
<g>
<use href="#m353c5a86b0" x="81.36" y="378.72" style="stroke: #000000; stroke-width: 0.6"/>
</g>
</g>
</g>
<g id="ytick_5">
<g id="line2d_11">
<g>
<use href="#m353c5a86b0" x="81.36" y="372.96" style="stroke: #000000; stroke-width: 0.6"/>
</g>
</g>
</g>
<g id="ytick_6">
<g id="line2d_12">
<g>
<use href="#m353c5a86b0" x="81.36" y="331.92" style="stroke: #000000; stroke-width: 0.6"/>
</g>
</g>
</g>
<g id="ytick_7">
<g id="line2d_13">
<g>
<use href="#m353c5a86b0" x="81.36" y="311.04" style="stroke: #000000; stroke-width: 0.6"/>
</g>
</g>
</g>
<g id="ytick_8">
<g id="line2d_14">
<g>
<use href="#m353c5a86b0" x="81.36" y="296.64" style="stroke: #000000; stroke-width: 0.6"/>
</g>
</g>
</g>
<g id="ytick_9">
<g id="line2d_15">
<g>
<use href="#m353c5a86b0" x="81.36" y="285.12" style="stroke: #000000; stroke-width: 0.6"/>
</g>
</g>
</g>
<g id="ytick_10">
<g id="line2d_16">
<g>
<use href="#m353c5a86b0" x="81.36" y="275.76" style="stroke: #000000; stroke-width: 0.6"/>
</g>
</g>
</g>
<g id="ytick_11">
<g id="line2d_17">
<g>
<use href="#m353c5a86b0" x="81.36" y="267.84" style="stroke: #000000; stroke-width: 0.6"/>
</g>
</g>
</g>
<g id="ytick_12">
<g id="line2d_18">
<g>
<use href="#m353c5a86b0" x="81.36" y="260.64" style="stroke: #000000; stroke-width: 0.6"/>
</g>
</g>
</g>
<g id="ytick_13">
<g id="line2d_19">
<g>
<use href="#m353c5a86b0" x="81.36" y="254.88" style="stroke: #000000; stroke-width: 0.6"/>
</g>
</g>
</g>
<g id="ytick_14">
<g id="line2d_20">
<g>
<use href="#m353c5a86b0" x="81.36" y="213.84" style="stroke: #000000; stroke-width: 0.6"/>
</g>
</g>
</g>
<g id="ytick_15">
<g id="line2d_21">
<g>
<use href="#m353c5a86b0" x="81.36" y="192.96" style="stroke: #000000; stroke-width: 0.6"/>
</g>
</g>
</g>
<g id="ytick_16">
<g id="line2d_22">
<g>
<use href="#m353c5a86b0" x="81.36" y="178.56" style="stroke: #000000; stroke-width: 0.6"/>
</g>
</g>
</g>
<g id="ytick_17">
<g id="line2d_23">
<g>
<use href="#m353c5a86b0" x="81.36" y="167.04" style="stroke: #000000; stroke-width: 0.6"/>
</g>
</g>
</g>
<g id="ytick_18">
<g id="line2d_24">
<g>
<use href="#m353c5a86b0" x="81.36" y="157.68" style="stroke: #000000; stroke-width: 0.6"/>
</g>
</g>
</g>
<g id="ytick_19">
<g id="line2d_25">
<g>
<use href="#m353c5a86b0" x="81.36" y="149.76" style="stroke: #000000; stroke-width: 0.6"/>
</g>
</g>
</g>
<g id="ytick_20">
<g id="line2d_26">
<g>
<use href="#m353c5a86b0" x="81.36" y="142.56" style="stroke: #000000; stroke-width: 0.6"/>
</g>
</g>
</g>
<g id="ytick_21">
<g id="line2d_27">
<g>
<use href="#m353c5a86b0" x="81.36" y="136.8" style="stroke: #000000; stroke-width: 0.6"/>
</g>
</g>
</g>
<g id="ytick_22">
<g id="line2d_28">
<g>
<use href="#m353c5a86b0" x="81.36" y="95.76" style="stroke: #000000; stroke-width: 0.6"/>
</g>
</g>
</g>
<g id="ytick_23">
<g id="line2d_29">
<g>
<use href="#m353c5a86b0" x="81.36" y="74.88" style="stroke: #000000; stroke-width: 0.6"/>
</g>
</g>
</g>
<g id="ytick_24">
<g id="line2d_30">
<g>
<use href="#m353c5a86b0" x="81.36" y="60.48" style="stroke: #000000; stroke-width: 0.6"/>
</g>
</g>
</g>
<g id="text_11">
<text style="font-size: 10.30px; font-family: 'Liberation Sans', sans-serif; text-anchor: start; fill: #222222" y="218.16" transform="rotate(-90 43.95 218.16)"><tspan x="19.87" textLength="6.35" lengthAdjust="spacingAndGlyphs">S</tspan><tspan x="26.17" textLength="6.86" lengthAdjust="spacingAndGlyphs">B</tspan><tspan x="36.25" textLength="6.35" lengthAdjust="spacingAndGlyphs">p</tspan><tspan x="42.64" textLength="4.11" lengthAdjust="spacingAndGlyphs">r</tspan><tspan x="46.6" textLength="6.12" lengthAdjust="spacingAndGlyphs">o</tspan><tspan x="52.72" textLength="3.52" lengthAdjust="spacingAndGlyphs">f</tspan><tspan x="56.32" textLength="2.78" lengthAdjust="spacingAndGlyphs">i</tspan><tspan x="59.11" textLength="2.78" lengthAdjust="spacingAndGlyphs">l</tspan><tspan x="61.9" textLength="6.15" lengthAdjust="spacingAndGlyphs">e</tspan></text>
</g>
</g>
<g id="line2d_31">
<path d="M 86.76 86.72 
L 89.48 87.83 
L 92.21 89.18 
L 94.93 90.77 
L 97.93 92.78 
L 100.93 95.07 
L 103.93 97.63 
L 107.2 100.74 
L 110.47 104.16 
L 113.74 107.89 
L 117.28 112.28 
L 120.83 117.02 
L 124.64 122.51 
L 128.46 128.41 
L 132.55 135.15 
L 136.63 142.33 
L 140.99 150.45 
L 145.35 159.05 
L 149.99 168.69 
L 154.62 178.84 
L 159.53 190.12 
L 164.71 202.62 
L 169.88 215.69 
L 175.33 230.05 
L 181.06 245.78 
L 187.05 262.93 
L 193.32 281.57 
L 199.86 301.76 
L 206.68 323.55 
L 213.76 346.99 
L 221.12 372.11 
L 228.75 398.95 
L 236.93 428.53 
L 238.15 433 
L 238.15 433 
" clip-path="url(#p0bbcbd8be4)" style="fill: none; stroke: #000000; stroke-width: 1.5; stroke-linecap: square"/>
</g>
<g id="line2d_32">
<path d="M 87.48 97.56 L 87.48 80.28" clip-path="url(#p0bbcbd8be4)" style="fill: none; stroke: #000000; stroke-linecap: square"/>
</g>
<g id="line2d_33">
<path d="M 97.56 103.32 L 97.56 83.16" clip-path="url(#p0bbcbd8be4)" style="fill: none; stroke: #000000; stroke-linecap: square"/>
</g>
<g id="line2d_34">
<path d="M 108.36 114.84 L 108.36 90.36" clip-path="url(#p0bbcbd8be4)" style="fill: none; stroke: #000000; stroke-linecap: square"/>
</g>
<g id="line2d_35">
<path d="M 118.44 131.4 L 118.44 101.16" clip-path="url(#p0bbcbd8be4)" style="fill: none; stroke: #000000; stroke-linecap: square"/>
</g>
<g id="line2d_36">
<path d="M 129.24 155.16 L 129.24 112.68" clip-path="url(#p0bbcbd8be4)" style="fill: none; stroke: #000000; stroke-linecap: square"/>
</g>
<g id="line2d_37">
<path d="M 139.32 190.44 L 139.32 124.92" clip-path="url(#p0bbcbd8be4)" style="fill: none; stroke: #000000; stroke-linecap: square"/>
</g>
<g id="line2d_38">
<path d="M 150.12 267.48 L 150.12 136.44" clip-path="url(#p0bbcbd8be4)" style="fill: none; stroke: #000000; stroke-linecap: square"/>
</g>
<g id="line2d_39">
<path d="M 160.2 432.36 L 160.2 148.68" clip-path="url(#p0bbcbd8be4)" style="fill: none; stroke: #000000; stroke-linecap: square"/>
</g>
<g id="line2d_40">
<path d="M 171 432.36 L 171 157.32" clip-path="url(#p0bbcbd8be4)" style="fill: none; stroke: #000000; stroke-linecap: square"/>
</g>
<g id="line2d_41">
<path d="M 181.08 432.36 L 181.08 165.24" clip-path="url(#p0bbcbd8be4)" style="fill: none; stroke: #000000; stroke-linecap: square"/>
</g>
<g id="line2d_42">
<path d="M 191.88 432.36 L 191.88 170.28" clip-path="url(#p0bbcbd8be4)" style="fill: none; stroke: #000000; stroke-linecap: square"/>
</g>
<g id="line2d_43">
<path d="M 202.68 432.36 L 202.68 173.16" clip-path="url(#p0bbcbd8be4)" style="fill: none; stroke: #000000; stroke-linecap: square"/>
</g>
<g id="line2d_44">
<path d="M 212.76 432.36 L 212.76 174.6" clip-path="url(#p0bbcbd8be4)" style="fill: none; stroke: #000000; stroke-linecap: square"/>
</g>
<g id="line2d_45">
<path d="M 223.56 432.36 L 223.56 176.04" clip-path="url(#p0bbcbd8be4)" style="fill: none; stroke: #000000; stroke-linecap: square"/>
</g>
<g id="line2d_46">
<path d="M 233.64 432.36 L 233.64 176.76" clip-path="url(#p0bbcbd8be4)" style="fill: none; stroke: #000000; stroke-linecap: square"/>
</g>
<g id="line2d_47">
<path d="M 244.44 432.36 L 244.44 176.76" clip-path="url(#p0bbcbd8be4)" style="fill: none; stroke: #000000; stroke-linecap: square"/>
</g>
<g id="line2d_48">
<path d="M 254.52 432.36 L 254.52 176.76" clip-path="url(#p0bbcbd8be4)" style="fill: none; stroke: #000000; stroke-linecap: square"/>
</g>
<g id="line2d_49">
<path d="M 265.32 432.36 L 265.32 176.76" clip-path="url(#p0bbcbd8be4)" style="fill: none; stroke: #000000; stroke-linecap: square"/>
</g>
<g id="line2d_50">
<path d="M 275.4 432.36 L 275.4 176.76" clip-path="url(#p0bbcbd8be4)" style="fill: none; stroke: #000000; stroke-linecap: square"/>
</g>
<g id="line2d_51">
<path d="M 286.2 432.36 L 286.2 176.76" clip-path="url(#p0bbcbd8be4)" style="fill: none; stroke: #000000; stroke-linecap: square"/>
</g>
<g id="line2d_52">
<path d="M 174.96 384.48 L 174.96 51.84" clip-path="url(#p0bbcbd8be4)" style="fill: none; stroke-dasharray: 1.5,2.48; stroke-dashoffset: 0; stroke: #1f77b4; stroke-width: 1.5"/>
</g>
<g id="patch_3">
<path d="M 81.72 384.84 L 81.72 52.2" style="fill: none; stroke: #000000; stroke-width: 0.8; stroke-linejoin: miter; stroke-linecap: square"/>
</g>
<g id="patch_4">
<path d="M 309.96 384.84 L 309.96 52.2" style="fill: none; stroke: #000000; stroke-width: 0.8; stroke-linejoin: miter; stroke-linecap: square"/>
</g>
<g id="patch_5">
<path d="M 81.72 384.84 L 309.96 384.84" style="fill: none; stroke: #000000; stroke-width: 0.8; stroke-linejoin: miter; stroke-linecap: square"/>
</g>
<g id="patch_6">
<path d="M 81.72 52.2 L 309.96 52.2" style="fill: none; stroke: #000000; stroke-width: 0.8; stroke-linejoin: miter; stroke-linecap: square"/>
</g>
<g id="legend_1">
<g id="patch_7">
<path d="M 232.92 90.36 L 302.76 90.36 Q 304.92 90.36 304.92 88.2 L 304.92 59.4 Q 304.92 57.24 302.76 57.24 L 232.92 57.24 Q 230.76 57.24 230.76 59.4 L 230.76 88.2 Q 230.76 90.36 232.92 90.36 z" style="fill: #ffffff; opacity: 0.8; stroke: #cccccc; stroke-linejoin: miter"/>
</g>
<g id="patch_8">
<path d="M 235.08 69.48 L 254.52 69.48 L 254.52 62.28 L 235.08 62.28 z" style="fill: #808080; fill-opacity: 0.5; stroke: #808080; stroke-opacity: 0.5; stroke-linejoin: miter"/>
</g>
<g id="text_12">
<text style="font-size: 10.30px; font-family: 'Liberation Sans', sans-serif; text-anchor: start; fill: #222222" y="68.76" transform="rotate(-0 262.38 68.76)"><tspan x="262.38" textLength="6.98" lengthAdjust="spacingAndGlyphs">C</tspan><tspan x="269.4" textLength="5.57" lengthAdjust="spacingAndGlyphs">L</tspan><tspan x="278.13" textLength="6.36" lengthAdjust="spacingAndGlyphs">9</tspan><tspan x="284.52" textLength="6.36" lengthAdjust="spacingAndGlyphs">5</tspan><tspan x="290.82" textLength="9.5" lengthAdjust="spacingAndGlyphs">%</tspan></text>
</g>
<g id="line2d_53">
<path d="M 234.72 80.64 L 244.08 80.64 L 254.16 80.64" style="fill: none; stroke-dasharray: 1.5,2.48; stroke-dashoffset: 0; stroke: #1f77b4; stroke-width: 1.5"/>
</g>
<g id="text_13">
<text style="font-size: 10.30px; font-family: 'Liberation Sans', sans-serif; text-anchor: start; fill: #222222" y="83.84" transform="rotate(-0 262.38 83.84)"><tspan x="262.38" textLength="6.36" lengthAdjust="spacingAndGlyphs">2</tspan><tspan x="271.83" textLength="6.95" lengthAdjust="spacingAndGlyphs">R</tspan><tspan x="278.76" textLength="6.34" lengthAdjust="spacingAndGlyphs">h</tspan><tspan x="285.06" textLength="6.13" lengthAdjust="spacingAndGlyphs">a</tspan><tspan x="291.27" textLength="2.78" lengthAdjust="spacingAndGlyphs">l</tspan><tspan x="294.06" textLength="3.52" lengthAdjust="spacingAndGlyphs">f</tspan></text>
</g>
</g>
</g>
<g id="axes_2">
<g id="patch_9">
<path d="M 354.96 384.48 L 583.2 384.48 L 583.2 51.84 L 354.96 51.84 z" style="fill: #ffffff"/>
</g>
<g id="FillBetweenPolyCollection_2">
<defs>
<path id="m7407e3d3c0" d="M 359.61 -58.25 
L 359.61 -58.25 
L 359.88 -58.25 
L 360.16 -58.25 
L 360.44 -58.25 
L 360.72 -58.25 
L 361 -58.25 
L 361.27 -58.25 
L 361.55 -58.25 
L 361.83 -58.25 
L 362.11 -58.25 
L 362.39 -58.25 
L 362.67 -58.25 
L 362.94 -58.25 
L 363.22 -58.25 
L 363.5 -58.25 
L 363.78 -58.25 
L 364.06 -58.25 
L 364.33 -58.25 
L 364.61 -58.25 
L 364.89 -58.25 
L 365.17 -58.25 
L 365.45 -58.25 
L 365.73 -58.25 
L 366 -58.25 
L 366.28 -58.25 
L 366.56 -58.25 
L 366.84 -58.25 
L 367.12 -58.25 
L 367.39 -58.25 
L 367.67 -58.25 
L 367.95 -58.25 
L 368.23 -58.25 
L 368.51 -58.25 
L 368.78 -58.25 
L 369.06 -58.25 
L 369.34 -58.25 
L 369.62 -58.25 
L 369.9 -60.58 
L 370.18 -62.8 
L 370.45 -64.33 
L 370.73 -65.61 
L 371.01 -66.77 
L 371.29 -67.84 
L 371.57 -68.84 
L 371.84 -69.81 
L 372.12 -70.74 
L 372.4 -71.65 
L 372.68 -72.54 
L 372.96 -73.4 
L 373.23 -74.26 
L 373.51 -75.1 
L 373.79 -75.93 
L 374.07 -76.75 
L 374.35 -77.56 
L 374.63 -78.37 
L 374.9 -79.17 
L 375.18 -79.96 
L 375.46 -80.75 
L 375.74 -81.53 
L 376.02 -82.3 
L 376.29 -83.08 
L 376.57 -83.84 
L 376.85 -84.61 
L 377.13 -85.37 
L 377.41 -86.12 
L 377.69 -86.88 
L 377.96 -87.62 
L 378.24 -88.37 
L 378.52 -89.11 
L 378.8 -89.85 
L 379.08 -90.58 
L 379.35 -91.32 
L 379.63 -92.04 
L 379.91 -92.77 
L 380.19 -93.49 
L 380.47 -94.21 
L 380.74 -94.93 
L 381.02 -95.64 
L 381.3 -96.35 
L 381.58 -97.05 
L 381.86 -97.75 
L 382.14 -98.45 
L 382.41 -99.15 
L 382.69 -99.84 
L 382.97 -100.53 
L 383.25 -101.21 
L 383.53 -101.89 
L 383.8 -102.57 
L 384.08 -103.25 
L 384.36 -103.92 
L 384.64 -104.58 
L 384.92 -105.25 
L 385.2 -105.91 
L 385.47 -106.56 
L 385.75 -107.22 
L 386.03 -107.87 
L 386.31 -108.51 
L 386.59 -109.15 
L 386.86 -109.79 
L 387.14 -110.42 
L 387.42 -111.05 
L 387.7 -111.68 
L 387.98 -112.3 
L 388.25 -112.92 
L 388.53 -113.54 
L 388.81 -114.15 
L 389.09 -114.75 
L 389.37 -115.36 
L 389.65 -115.95 
L 389.92 -116.55 
L 390.2 -117.14 
L 390.48 -117.73 
L 390.76 -118.31 
L 391.04 -118.89 
L 391.31 -119.46 
L 391.59 -120.03 
L 391.87 -120.6 
L 392.15 -121.16 
L 392.43 -121.72 
L 392.7 -122.27 
L 392.98 -122.82 
L 393.26 -123.36 
L 393.54 -123.9 
L 393.82 -124.44 
L 394.1 -124.97 
L 394.37 -125.5 
L 394.65 -126.03 
L 394.93 -126.54 
L 395.21 -127.06 
L 395.49 -127.57 
L 395.76 -128.08 
L 396.04 -128.58 
L 396.32 -129.08 
L 396.6 -129.57 
L 396.88 -130.06 
L 397.16 -130.55 
L 397.43 -131.03 
L 397.71 -131.5 
L 397.99 -131.97 
L 398.27 -132.44 
L 398.55 -132.91 
L 398.82 -133.36 
L 399.1 -133.82 
L 399.38 -134.27 
L 399.66 -134.71 
L 399.94 -135.16 
L 400.21 -135.59 
L 400.49 -136.03 
L 400.77 -136.45 
L 401.05 -136.88 
L 401.33 -137.3 
L 401.61 -137.71 
L 401.88 -138.13 
L 402.16 -138.53 
L 402.44 -138.93 
L 402.72 -139.33 
L 403 -139.73 
L 403.27 -140.12 
L 403.55 -140.5 
L 403.83 -140.88 
L 404.11 -141.26 
L 404.39 -141.63 
L 404.66 -142 
L 404.94 -142.36 
L 405.22 -142.72 
L 405.5 -143.08 
L 405.78 -143.43 
L 406.06 -143.78 
L 406.33 -144.12 
L 406.61 -144.46 
L 406.89 -144.79 
L 407.17 -145.12 
L 407.45 -145.45 
L 407.72 -145.77 
L 408 -146.09 
L 408.28 -146.4 
L 408.56 -146.71 
L 408.84 -147.02 
L 409.12 -147.32 
L 409.39 -147.61 
L 409.67 -147.91 
L 409.95 -148.2 
L 410.23 -148.48 
L 410.51 -148.76 
L 410.78 -149.04 
L 411.06 -149.31 
L 411.34 -149.58 
L 411.62 -149.85 
L 411.9 -150.11 
L 412.17 -150.36 
L 412.45 -150.62 
L 412.73 -150.87 
L 413.01 -151.11 
L 413.29 -151.35 
L 413.57 -151.59 
L 413.84 -151.82 
L 414.12 -152.05 
L 414.4 -152.28 
L 414.68 -152.5 
L 414.96 -152.72 
L 415.23 -152.94 
L 415.51 -153.15 
L 415.79 -153.36 
L 416.07 -153.56 
L 416.35 -153.76 
L 416.63 -153.96 
L 416.9 -154.15 
L 417.18 -154.34 
L 417.46 -154.52 
L 417.74 -154.71 
L 418.02 -154.88 
L 418.29 -155.06 
L 418.57 -155.23 
L 418.85 -155.4 
L 419.13 -155.56 
L 419.41 -155.72 
L 419.68 -155.88 
L 419.96 -156.04 
L 420.24 -156.19 
L 420.52 -156.33 
L 420.8 -156.48 
L 421.08 -156.62 
L 421.35 -156.76 
L 421.63 -156.89 
L 421.91 -157.02 
L 422.19 -157.15 
L 422.47 -157.27 
L 422.74 -157.39 
L 423.02 -157.51 
L 423.3 -157.63 
L 423.58 -157.74 
L 423.86 -157.85 
L 424.13 -157.95 
L 424.41 -158.05 
L 424.69 -158.15 
L 424.97 -158.25 
L 425.25 -158.34 
L 425.53 -158.43 
L 425.8 -158.52 
L 426.08 -158.61 
L 426.36 -158.69 
L 426.64 -158.77 
L 426.92 -158.84 
L 427.19 -158.91 
L 427.47 -158.98 
L 427.75 -159.05 
L 428.03 -159.12 
L 428.31 -159.18 
L 428.59 -159.24 
L 428.86 -159.29 
L 429.14 -159.35 
L 429.42 -159.4 
L 429.7 -159.44 
L 429.98 -159.49 
L 430.25 -159.53 
L 430.53 -159.57 
L 430.81 -159.61 
L 431.09 -159.65 
L 431.37 -159.68 
L 431.64 -159.71 
L 431.92 -159.74 
L 432.2 -159.76 
L 432.48 -159.79 
L 432.76 -159.81 
L 433.04 -159.82 
L 433.31 -159.84 
L 433.59 -159.85 
L 433.87 -159.87 
L 434.15 -159.87 
L 434.43 -159.88 
L 434.7 -159.89 
L 434.98 -159.89 
L 435.26 -159.89 
L 435.54 -159.89 
L 435.82 -159.88 
L 436.1 -159.88 
L 436.37 -159.87 
L 436.65 -159.86 
L 436.93 -159.84 
L 437.21 -159.83 
L 437.49 -159.81 
L 437.76 -159.79 
L 438.04 -159.77 
L 438.32 -159.75 
L 438.6 -159.73 
L 438.88 -159.7 
L 439.15 -159.67 
L 439.43 -159.64 
L 439.71 -159.61 
L 439.99 -159.57 
L 440.27 -159.54 
L 440.55 -159.5 
L 440.82 -159.46 
L 441.1 -159.42 
L 441.38 -159.38 
L 441.66 -159.33 
L 441.94 -159.29 
L 442.21 -159.24 
L 442.49 -159.19 
L 442.77 -159.14 
L 443.05 -159.09 
L 443.33 -159.04 
L 443.6 -158.98 
L 443.88 -158.92 
L 444.16 -158.86 
L 444.44 -158.8 
L 444.72 -158.74 
L 445 -158.68 
L 445.27 -158.62 
L 445.55 -158.55 
L 445.83 -158.48 
L 446.11 -158.41 
L 446.39 -158.34 
L 446.66 -158.27 
L 446.94 -158.2 
L 447.22 -158.13 
L 447.5 -158.05 
L 447.78 -157.98 
L 448.06 -157.9 
L 448.33 -157.82 
L 448.61 -157.74 
L 448.89 -157.66 
L 449.17 -157.58 
L 449.45 -157.5 
L 449.72 -157.41 
L 450 -157.33 
L 450.28 -157.24 
L 450.56 -157.15 
L 450.84 -157.06 
L 451.11 -156.97 
L 451.39 -156.88 
L 451.67 -156.79 
L 451.95 -156.7 
L 452.23 -156.61 
L 452.51 -156.51 
L 452.78 -156.42 
L 453.06 -156.32 
L 453.34 -156.22 
L 453.62 -156.13 
L 453.9 -156.03 
L 454.17 -155.93 
L 454.45 -155.83 
L 454.73 -155.73 
L 455.01 -155.63 
L 455.29 -155.52 
L 455.57 -155.42 
L 455.84 -155.32 
L 456.12 -155.21 
L 456.4 -155.11 
L 456.68 -155 
L 456.96 -154.89 
L 457.23 -154.79 
L 457.51 -154.68 
L 457.79 -154.57 
L 458.07 -154.46 
L 458.35 -154.35 
L 458.62 -154.24 
L 458.9 -154.13 
L 459.18 -154.02 
L 459.46 -153.91 
L 459.74 -153.79 
L 460.02 -153.68 
L 460.29 -153.57 
L 460.57 -153.45 
L 460.85 -153.34 
L 461.13 -153.22 
L 461.41 -153.11 
L 461.68 -152.99 
L 461.96 -152.88 
L 462.24 -152.76 
L 462.52 -152.64 
L 462.8 -152.53 
L 463.07 -152.41 
L 463.35 -152.29 
L 463.63 -152.17 
L 463.91 -152.06 
L 464.19 -151.94 
L 464.47 -151.82 
L 464.74 -151.7 
L 465.02 -151.58 
L 465.3 -151.46 
L 465.58 -151.34 
L 465.86 -151.22 
L 466.13 -151.1 
L 466.41 -150.98 
L 466.69 -150.86 
L 466.97 -150.74 
L 467.25 -150.61 
L 467.53 -150.49 
L 467.8 -150.37 
L 468.08 -150.25 
L 468.36 -150.13 
L 468.64 -150.01 
L 468.92 -149.88 
L 469.19 -149.76 
L 469.47 -149.64 
L 469.75 -149.52 
L 470.03 -149.39 
L 470.31 -149.27 
L 470.58 -149.15 
L 470.86 -149.03 
L 471.14 -148.9 
L 471.42 -148.78 
L 471.7 -148.66 
L 471.98 -148.53 
L 472.25 -148.41 
L 472.53 -148.29 
L 472.81 -148.16 
L 473.09 -148.04 
L 473.37 -147.92 
L 473.64 -147.8 
L 473.92 -147.67 
L 474.2 -147.55 
L 474.48 -147.43 
L 474.76 -147.3 
L 475.04 -147.18 
L 475.31 -147.06 
L 475.59 -146.93 
L 475.87 -146.81 
L 476.15 -146.69 
L 476.43 -146.57 
L 476.7 -146.44 
L 476.98 -146.32 
L 477.26 -146.2 
L 477.54 -146.08 
L 477.82 -145.95 
L 478.09 -145.83 
L 478.37 -145.71 
L 478.65 -145.59 
L 478.93 -145.47 
L 479.21 -145.34 
L 479.49 -145.22 
L 479.76 -145.1 
L 480.04 -144.98 
L 480.32 -144.86 
L 480.6 -144.74 
L 480.88 -144.61 
L 481.15 -144.49 
L 481.43 -144.37 
L 481.71 -144.25 
L 481.99 -144.13 
L 482.27 -144.01 
L 482.54 -143.89 
L 482.82 -143.77 
L 483.1 -143.65 
L 483.38 -143.53 
L 483.66 -143.41 
L 483.94 -143.29 
L 484.21 -143.17 
L 484.49 -143.05 
L 484.77 -142.93 
L 485.05 -142.81 
L 485.33 -142.69 
L 485.6 -142.57 
L 485.88 -142.45 
L 486.16 -142.33 
L 486.44 -142.22 
L 486.72 -142.1 
L 487 -141.98 
L 487.27 -141.86 
L 487.55 -141.74 
L 487.83 -141.62 
L 488.11 -141.51 
L 488.39 -141.39 
L 488.66 -141.27 
L 488.94 -141.15 
L 489.22 -141.03 
L 489.5 -140.92 
L 489.78 -140.8 
L 490.05 -140.68 
L 490.33 -140.56 
L 490.61 -140.45 
L 490.89 -140.33 
L 491.17 -140.21 
L 491.45 -140.1 
L 491.72 -139.98 
L 492 -139.86 
L 492.28 -139.75 
L 492.56 -139.63 
L 492.84 -139.51 
L 493.11 -139.4 
L 493.39 -139.28 
L 493.67 -139.16 
L 493.95 -139.05 
L 494.23 -138.93 
L 494.5 -138.81 
L 494.78 -138.7 
L 495.06 -138.58 
L 495.34 -138.46 
L 495.62 -138.35 
L 495.9 -138.23 
L 496.17 -138.11 
L 496.45 -138 
L 496.73 -137.88 
L 497.01 -137.76 
L 497.29 -137.65 
L 497.56 -137.53 
L 497.84 -137.41 
L 498.12 -137.3 
L 498.4 -137.18 
L 498.68 -137.06 
L 498.96 -136.94 
L 499.23 -136.83 
L 499.51 -136.71 
L 499.79 -136.59 
L 500.07 -136.47 
L 500.35 -136.36 
L 500.62 -136.24 
L 500.9 -136.12 
L 501.18 -136 
L 501.46 -135.88 
L 501.74 -135.76 
L 502.01 -135.65 
L 502.29 -135.53 
L 502.57 -135.41 
L 502.85 -135.29 
L 503.13 -135.17 
L 503.41 -135.05 
L 503.68 -134.93 
L 503.96 -134.81 
L 504.24 -134.69 
L 504.52 -134.57 
L 504.8 -134.44 
L 505.07 -134.32 
L 505.35 -134.2 
L 505.63 -134.08 
L 505.91 -133.95 
L 506.19 -133.83 
L 506.47 -133.71 
L 506.74 -133.58 
L 507.02 -133.46 
L 507.3 -133.34 
L 507.58 -133.21 
L 507.86 -133.08 
L 508.13 -132.96 
L 508.41 -132.83 
L 508.69 -132.71 
L 508.97 -132.58 
L 509.25 -132.45 
L 509.52 -132.32 
L 509.8 -132.19 
L 510.08 -132.06 
L 510.36 -131.93 
L 510.64 -131.8 
L 510.92 -131.67 
L 511.19 -131.54 
L 511.47 -131.41 
L 511.75 -131.28 
L 512.03 -131.14 
L 512.31 -131.01 
L 512.58 -130.87 
L 512.86 -130.74 
L 513.14 -130.6 
L 513.42 -130.47 
L 513.7 -130.33 
L 513.97 -130.19 
L 514.25 -130.05 
L 514.53 -129.91 
L 514.81 -129.77 
L 515.09 -129.63 
L 515.37 -129.49 
L 515.64 -129.34 
L 515.92 -129.2 
L 516.2 -129.06 
L 516.48 -128.91 
L 516.76 -128.76 
L 517.03 -128.62 
L 517.31 -128.47 
L 517.59 -128.32 
L 517.87 -128.17 
L 518.15 -128.02 
L 518.43 -127.87 
L 518.7 -127.71 
L 518.98 -127.56 
L 519.26 -127.41 
L 519.54 -127.25 
L 519.82 -127.09 
L 520.09 -126.94 
L 520.37 -126.78 
L 520.65 -126.62 
L 520.93 -126.46 
L 521.21 -126.29 
L 521.48 -126.13 
L 521.76 -125.96 
L 522.04 -125.8 
L 522.32 -125.63 
L 522.6 -125.46 
L 522.88 -125.29 
L 523.15 -125.12 
L 523.43 -124.95 
L 523.71 -124.78 
L 523.99 -124.61 
L 524.27 -124.43 
L 524.54 -124.25 
L 524.82 -124.07 
L 525.1 -123.89 
L 525.38 -123.71 
L 525.66 -123.53 
L 525.94 -123.35 
L 526.21 -123.16 
L 526.49 -122.98 
L 526.77 -122.79 
L 527.05 -122.6 
L 527.33 -122.41 
L 527.6 -122.21 
L 527.88 -122.02 
L 528.16 -121.83 
L 528.44 -121.63 
L 528.72 -121.43 
L 528.99 -121.23 
L 529.27 -121.03 
L 529.55 -120.82 
L 529.83 -120.62 
L 530.11 -120.41 
L 530.39 -120.2 
L 530.66 -119.99 
L 530.94 -119.78 
L 531.22 -119.57 
L 531.5 -119.35 
L 531.78 -119.14 
L 532.05 -118.92 
L 532.33 -118.7 
L 532.61 -118.48 
L 532.89 -118.25 
L 533.17 -118.03 
L 533.44 -117.8 
L 533.72 -117.57 
L 534 -117.34 
L 534.28 -117.11 
L 534.56 -116.87 
L 534.84 -116.64 
L 535.11 -116.4 
L 535.39 -116.16 
L 535.67 -115.91 
L 535.95 -115.67 
L 536.23 -115.42 
L 536.5 -115.17 
L 536.78 -114.92 
L 537.06 -114.67 
L 537.34 -114.42 
L 537.62 -114.16 
L 537.9 -113.9 
L 538.17 -113.64 
L 538.45 -113.38 
L 538.73 -113.11 
L 539.01 -112.85 
L 539.29 -112.58 
L 539.56 -112.31 
L 539.84 -112.03 
L 540.12 -111.76 
L 540.4 -111.48 
L 540.68 -111.2 
L 540.95 -110.92 
L 541.23 -110.63 
L 541.51 -110.34 
L 541.79 -110.06 
L 542.07 -109.76 
L 542.35 -109.47 
L 542.62 -109.18 
L 542.9 -108.88 
L 543.18 -108.58 
L 543.46 -108.27 
L 543.74 -107.97 
L 544.01 -107.66 
L 544.29 -107.35 
L 544.57 -107.04 
L 544.85 -106.73 
L 545.13 -106.41 
L 545.41 -106.09 
L 545.68 -105.77 
L 545.96 -105.44 
L 546.24 -105.12 
L 546.52 -104.79 
L 546.8 -104.46 
L 547.07 -104.12 
L 547.35 -103.79 
L 547.63 -103.45 
L 547.91 -103.11 
L 548.19 -102.76 
L 548.46 -102.42 
L 548.74 -102.07 
L 549.02 -101.72 
L 549.3 -101.36 
L 549.58 -101.01 
L 549.86 -100.65 
L 550.13 -100.29 
L 550.41 -99.92 
L 550.69 -99.56 
L 550.97 -99.19 
L 551.25 -98.82 
L 551.52 -98.44 
L 551.8 -98.06 
L 552.08 -97.68 
L 552.36 -97.3 
L 552.64 -96.92 
L 552.91 -96.53 
L 553.19 -96.14 
L 553.47 -95.75 
L 553.75 -95.35 
L 554.03 -94.95 
L 554.31 -94.55 
L 554.58 -94.15 
L 554.86 -93.74 
L 555.14 -93.33 
L 555.42 -92.92 
L 555.7 -92.51 
L 555.97 -92.09 
L 556.25 -91.67 
L 556.53 -91.25 
L 556.81 -90.82 
L 557.09 -90.39 
L 557.37 -89.96 
L 557.64 -89.53 
L 557.92 -89.09 
L 558.2 -88.65 
L 558.48 -88.21 
L 558.76 -87.76 
L 559.03 -87.31 
L 559.31 -86.86 
L 559.59 -86.41 
L 559.87 -85.95 
L 560.15 -85.49 
L 560.42 -85.02 
L 560.7 -84.55 
L 560.98 -84.08 
L 561.26 -83.61 
L 561.54 -83.13 
L 561.82 -82.65 
L 562.09 -82.17 
L 562.37 -81.68 
L 562.65 -81.19 
L 562.93 -80.69 
L 563.21 -80.19 
L 563.48 -79.69 
L 563.76 -79.18 
L 564.04 -78.67 
L 564.32 -78.15 
L 564.6 -77.63 
L 564.87 -77.1 
L 565.15 -76.57 
L 565.43 -76.03 
L 565.71 -75.48 
L 565.99 -74.93 
L 566.27 -74.37 
L 566.54 -73.81 
L 566.82 -73.23 
L 567.1 -72.65 
L 567.38 -72.06 
L 567.66 -71.45 
L 567.93 -70.83 
L 568.21 -70.2 
L 568.49 -69.55 
L 568.77 -68.88 
L 569.05 -68.19 
L 569.33 -67.46 
L 569.6 -66.71 
L 569.88 -65.9 
L 570.16 -65.03 
L 570.44 -64.07 
L 570.72 -62.96 
L 570.99 -61.56 
L 571.27 -58.67 
L 571.55 -58.25 
L 571.83 -58.25 
L 572.11 -58.25 
L 572.38 -58.25 
L 572.66 -58.25 
L 572.94 -58.25 
L 573.22 -58.25 
L 573.5 -58.25 
L 573.78 -58.25 
L 574.05 -58.25 
L 574.33 -58.25 
L 574.61 -58.25 
L 574.89 -58.25 
L 575.17 -58.25 
L 575.44 -58.25 
L 575.72 -58.25 
L 576 -58.25 
L 576.28 -58.25 
L 576.56 -58.25 
L 576.84 -58.25 
L 577.11 -58.25 
L 577.39 -58.25 
L 577.67 -58.25 
L 577.95 -58.25 
L 578.23 -58.25 
L 578.5 -58.25 
L 578.78 -58.25 
L 579.06 -58.25 
L 579.34 -58.25 
L 579.62 -58.25 
L 579.89 -58.25 
L 580.17 -58.25 
L 580.45 -58.25 
L 580.73 -58.25 
L 581.01 -58.25 
L 581.29 -58.25 
L 581.56 -58.25 
L 581.84 -58.25 
L 581.84 -314.04 
L 581.84 -314.04 
L 581.56 -313.97 
L 581.29 -313.89 
L 581.01 -313.82 
L 580.73 -313.75 
L 580.45 -313.67 
L 580.17 -313.6 
L 579.89 -313.52 
L 579.62 -313.44 
L 579.34 -313.37 
L 579.06 -313.29 
L 578.78 -313.21 
L 578.5 -313.13 
L 578.23 -313.05 
L 577.95 -312.97 
L 577.67 -312.89 
L 577.39 -312.81 
L 577.11 -312.73 
L 576.84 -312.64 
L 576.56 -312.56 
L 576.28 -312.48 
L 576 -312.39 
L 575.72 -312.31 
L 575.44 -312.22 
L 575.17 -312.14 
L 574.89 -312.05 
L 574.61 -311.97 
L 574.33 -311.88 
L 574.05 -311.79 
L 573.78 -311.7 
L 573.5 -311.61 
L 573.22 -311.52 
L 572.94 -311.43 
L 572.66 -311.34 
L 572.38 -311.25 
L 572.11 -311.16 
L 571.83 -311.07 
L 571.55 -310.97 
L 571.27 -310.88 
L 570.99 -310.79 
L 570.72 -310.69 
L 570.44 -310.6 
L 570.16 -310.5 
L 569.88 -310.41 
L 569.6 -310.31 
L 569.33 -310.21 
L 569.05 -310.12 
L 568.77 -310.02 
L 568.49 -309.92 
L 568.21 -309.82 
L 567.93 -309.72 
L 567.66 -309.62 
L 567.38 -309.52 
L 567.1 -309.42 
L 566.82 -309.32 
L 566.54 -309.21 
L 566.27 -309.11 
L 565.99 -309.01 
L 565.71 -308.9 
L 565.43 -308.8 
L 565.15 -308.69 
L 564.87 -308.59 
L 564.6 -308.48 
L 564.32 -308.38 
L 564.04 -308.27 
L 563.76 -308.16 
L 563.48 -308.05 
L 563.21 -307.94 
L 562.93 -307.84 
L 562.65 -307.73 
L 562.37 -307.62 
L 562.09 -307.51 
L 561.82 -307.4 
L 561.54 -307.28 
L 561.26 -307.17 
L 560.98 -307.06 
L 560.7 -306.95 
L 560.42 -306.83 
L 560.15 -306.72 
L 559.87 -306.6 
L 559.59 -306.49 
L 559.31 -306.37 
L 559.03 -306.26 
L 558.76 -306.14 
L 558.48 -306.02 
L 558.2 -305.91 
L 557.92 -305.79 
L 557.64 -305.67 
L 557.37 -305.55 
L 557.09 -305.43 
L 556.81 -305.31 
L 556.53 -305.19 
L 556.25 -305.07 
L 555.97 -304.95 
L 555.7 -304.83 
L 555.42 -304.71 
L 555.14 -304.58 
L 554.86 -304.46 
L 554.58 -304.34 
L 554.31 -304.21 
L 554.03 -304.09 
L 553.75 -303.96 
L 553.47 -303.84 
L 553.19 -303.71 
L 552.91 -303.59 
L 552.64 -303.46 
L 552.36 -303.33 
L 552.08 -303.2 
L 551.8 -303.08 
L 551.52 -302.95 
L 551.25 -302.82 
L 550.97 -302.69 
L 550.69 -302.56 
L 550.41 -302.43 
L 550.13 -302.3 
L 549.86 -302.17 
L 549.58 -302.03 
L 549.3 -301.9 
L 549.02 -301.77 
L 548.74 -301.64 
L 548.46 -301.5 
L 548.19 -301.37 
L 547.91 -301.23 
L 547.63 -301.1 
L 547.35 -300.96 
L 547.07 -300.83 
L 546.8 -300.69 
L 546.52 -300.55 
L 546.24 -300.42 
L 545.96 -300.28 
L 545.68 -300.14 
L 545.41 -300 
L 545.13 -299.86 
L 544.85 -299.72 
L 544.57 -299.58 
L 544.29 -299.44 
L 544.01 -299.3 
L 543.74 -299.16 
L 543.46 -299.02 
L 543.18 -298.88 
L 542.9 -298.73 
L 542.62 -298.59 
L 542.35 -298.45 
L 542.07 -298.3 
L 541.79 -298.16 
L 541.51 -298.01 
L 541.23 -297.87 
L 540.95 -297.72 
L 540.68 -297.58 
L 540.4 -297.43 
L 540.12 -297.28 
L 539.84 -297.14 
L 539.56 -296.99 
L 539.29 -296.84 
L 539.01 -296.69 
L 538.73 -296.54 
L 538.45 -296.4 
L 538.17 -296.25 
L 537.9 -296.1 
L 537.62 -295.94 
L 537.34 -295.79 
L 537.06 -295.64 
L 536.78 -295.49 
L 536.5 -295.34 
L 536.23 -295.19 
L 535.95 -295.03 
L 535.67 -294.88 
L 535.39 -294.73 
L 535.11 -294.57 
L 534.84 -294.42 
L 534.56 -294.26 
L 534.28 -294.11 
L 534 -293.95 
L 533.72 -293.79 
L 533.44 -293.64 
L 533.17 -293.48 
L 532.89 -293.32 
L 532.61 -293.17 
L 532.33 -293.01 
L 532.05 -292.85 
L 531.78 -292.69 
L 531.5 -292.53 
L 531.22 -292.37 
L 530.94 -292.21 
L 530.66 -292.05 
L 530.39 -291.89 
L 530.11 -291.73 
L 529.83 -291.56 
L 529.55 -291.4 
L 529.27 -291.24 
L 528.99 -291.08 
L 528.72 -290.91 
L 528.44 -290.75 
L 528.16 -290.59 
L 527.88 -290.42 
L 527.6 -290.26 
L 527.33 -290.09 
L 527.05 -289.92 
L 526.77 -289.76 
L 526.49 -289.59 
L 526.21 -289.43 
L 525.94 -289.26 
L 525.66 -289.09 
L 525.38 -288.92 
L 525.1 -288.75 
L 524.82 -288.58 
L 524.54 -288.42 
L 524.27 -288.25 
L 523.99 -288.08 
L 523.71 -287.91 
L 523.43 -287.74 
L 523.15 -287.56 
L 522.88 -287.39 
L 522.6 -287.22 
L 522.32 -287.05 
L 522.04 -286.88 
L 521.76 -286.7 
L 521.48 -286.53 
L 521.21 -286.36 
L 520.93 -286.18 
L 520.65 -286.01 
L 520.37 -285.83 
L 520.09 -285.66 
L 519.82 -285.48 
L 519.54 -285.31 
L 519.26 -285.13 
L 518.98 -284.95 
L 518.7 -284.78 
L 518.43 -284.6 
L 518.15 -284.42 
L 517.87 -284.24 
L 517.59 -284.07 
L 517.31 -283.89 
L 517.03 -283.71 
L 516.76 -283.53 
L 516.48 -283.35 
L 516.2 -283.17 
L 515.92 -282.99 
L 515.64 -282.81 
L 515.37 -282.62 
L 515.09 -282.44 
L 514.81 -282.26 
L 514.53 -282.08 
L 514.25 -281.9 
L 513.97 -281.71 
L 513.7 -281.53 
L 513.42 -281.34 
L 513.14 -281.16 
L 512.86 -280.98 
L 512.58 -280.79 
L 512.31 -280.61 
L 512.03 -280.42 
L 511.75 -280.23 
L 511.47 -280.05 
L 511.19 -279.86 
L 510.92 -279.67 
L 510.64 -279.49 
L 510.36 -279.3 
L 510.08 -279.11 
L 509.8 -278.92 
L 509.52 -278.73 
L 509.25 -278.54 
L 508.97 -278.35 
L 508.69 -278.16 
L 508.41 -277.97 
L 508.13 -277.78 
L 507.86 -277.59 
L 507.58 -277.4 
L 507.3 -277.21 
L 507.02 -277.02 
L 506.74 -276.83 
L 506.47 -276.63 
L 506.19 -276.44 
L 505.91 -276.25 
L 505.63 -276.05 
L 505.35 -275.86 
L 505.07 -275.66 
L 504.8 -275.47 
L 504.52 -275.28 
L 504.24 -275.08 
L 503.96 -274.88 
L 503.68 -274.69 
L 503.41 -274.49 
L 503.13 -274.29 
L 502.85 -274.1 
L 502.57 -273.9 
L 502.29 -273.7 
L 502.01 -273.5 
L 501.74 -273.31 
L 501.46 -273.11 
L 501.18 -272.91 
L 500.9 -272.71 
L 500.62 -272.51 
L 500.35 -272.31 
L 500.07 -272.11 
L 499.79 -271.91 
L 499.51 -271.7 
L 499.23 -271.5 
L 498.96 -271.3 
L 498.68 -271.1 
L 498.4 -270.9 
L 498.12 -270.69 
L 497.84 -270.49 
L 497.56 -270.29 
L 497.29 -270.08 
L 497.01 -269.88 
L 496.73 -269.67 
L 496.45 -269.47 
L 496.17 -269.26 
L 495.9 -269.06 
L 495.62 -268.85 
L 495.34 -268.64 
L 495.06 -268.44 
L 494.78 -268.23 
L 494.5 -268.02 
L 494.23 -267.82 
L 493.95 -267.61 
L 493.67 -267.4 
L 493.39 -267.19 
L 493.11 -266.98 
L 492.84 -266.77 
L 492.56 -266.56 
L 492.28 -266.35 
L 492 -266.14 
L 491.72 -265.93 
L 491.45 -265.72 
L 491.17 -265.51 
L 490.89 -265.3 
L 490.61 -265.08 
L 490.33 -264.87 
L 490.05 -264.66 
L 489.78 -264.44 
L 489.5 -264.23 
L 489.22 -264.02 
L 488.94 -263.8 
L 488.66 -263.59 
L 488.39 -263.37 
L 488.11 -263.16 
L 487.83 -262.94 
L 487.55 -262.73 
L 487.27 -262.51 
L 487 -262.29 
L 486.72 -262.08 
L 486.44 -261.86 
L 486.16 -261.64 
L 485.88 -261.42 
L 485.6 -261.2 
L 485.33 -260.99 
L 485.05 -260.77 
L 484.77 -260.55 
L 484.49 -260.33 
L 484.21 -260.11 
L 483.94 -259.89 
L 483.66 -259.67 
L 483.38 -259.44 
L 483.1 -259.22 
L 482.82 -259 
L 482.54 -258.78 
L 482.27 -258.56 
L 481.99 -258.33 
L 481.71 -258.11 
L 481.43 -257.89 
L 481.15 -257.66 
L 480.88 -257.44 
L 480.6 -257.21 
L 480.32 -256.99 
L 480.04 -256.76 
L 479.76 -256.54 
L 479.49 -256.31 
L 479.21 -256.08 
L 478.93 -255.86 
L 478.65 -255.63 
L 478.37 -255.4 
L 478.09 -255.17 
L 477.82 -254.94 
L 477.54 -254.72 
L 477.26 -254.49 
L 476.98 -254.26 
L 476.7 -254.03 
L 476.43 -253.8 
L 476.15 -253.57 
L 475.87 -253.34 
L 475.59 -253.1 
L 475.31 -252.87 
L 475.04 -252.64 
L 474.76 -252.41 
L 474.48 -252.18 
L 474.2 -251.94 
L 473.92 -251.71 
L 473.64 -251.48 
L 473.37 -251.24 
L 473.09 -251.01 
L 472.81 -250.77 
L 472.53 -250.54 
L 472.25 -250.3 
L 471.98 -250.06 
L 471.7 -249.83 
L 471.42 -249.59 
L 471.14 -249.35 
L 470.86 -249.12 
L 470.58 -248.88 
L 470.31 -248.64 
L 470.03 -248.4 
L 469.75 -248.16 
L 469.47 -247.92 
L 469.19 -247.68 
L 468.92 -247.44 
L 468.64 -247.2 
L 468.36 -246.96 
L 468.08 -246.72 
L 467.8 -246.48 
L 467.53 -246.24 
L 467.25 -245.99 
L 466.97 -245.75 
L 466.69 -245.51 
L 466.41 -245.26 
L 466.13 -245.02 
L 465.86 -244.77 
L 465.58 -244.53 
L 465.3 -244.28 
L 465.02 -244.04 
L 464.74 -243.79 
L 464.47 -243.54 
L 464.19 -243.3 
L 463.91 -243.05 
L 463.63 -242.8 
L 463.35 -242.55 
L 463.07 -242.3 
L 462.8 -242.05 
L 462.52 -241.81 
L 462.24 -241.56 
L 461.96 -241.3 
L 461.68 -241.05 
L 461.41 -240.8 
L 461.13 -240.55 
L 460.85 -240.3 
L 460.57 -240.05 
L 460.29 -239.79 
L 460.02 -239.54 
L 459.74 -239.29 
L 459.46 -239.03 
L 459.18 -238.78 
L 458.9 -238.52 
L 458.62 -238.27 
L 458.35 -238.01 
L 458.07 -237.75 
L 457.79 -237.5 
L 457.51 -237.24 
L 457.23 -236.98 
L 456.96 -236.72 
L 456.68 -236.46 
L 456.4 -236.2 
L 456.12 -235.94 
L 455.84 -235.68 
L 455.57 -235.42 
L 455.29 -235.16 
L 455.01 -234.9 
L 454.73 -234.64 
L 454.45 -234.38 
L 454.17 -234.11 
L 453.9 -233.85 
L 453.62 -233.59 
L 453.34 -233.32 
L 453.06 -233.06 
L 452.78 -232.79 
L 452.51 -232.53 
L 452.23 -232.26 
L 451.95 -231.99 
L 451.67 -231.73 
L 451.39 -231.46 
L 451.11 -231.19 
L 450.84 -230.92 
L 450.56 -230.65 
L 450.28 -230.38 
L 450 -230.11 
L 449.72 -229.84 
L 449.45 -229.57 
L 449.17 -229.3 
L 448.89 -229.02 
L 448.61 -228.75 
L 448.33 -228.48 
L 448.06 -228.2 
L 447.78 -227.93 
L 447.5 -227.65 
L 447.22 -227.38 
L 446.94 -227.1 
L 446.66 -226.83 
L 446.39 -226.55 
L 446.11 -226.27 
L 445.83 -225.99 
L 445.55 -225.71 
L 445.27 -225.44 
L 445 -225.16 
L 444.72 -224.87 
L 444.44 -224.59 
L 444.16 -224.31 
L 443.88 -224.03 
L 443.6 -223.75 
L 443.33 -223.46 
L 443.05 -223.18 
L 442.77 -222.89 
L 442.49 -222.61 
L 442.21 -222.32 
L 441.94 -222.04 
L 441.66 -221.75 
L 441.38 -221.46 
L 441.1 -221.18 
L 440.82 -220.89 
L 440.55 -220.6 
L 440.27 -220.31 
L 439.99 -220.02 
L 439.71 -219.73 
L 439.43 -219.43 
L 439.15 -219.14 
L 438.88 -218.85 
L 438.6 -218.55 
L 438.32 -218.26 
L 438.04 -217.97 
L 437.76 -217.67 
L 437.49 -217.37 
L 437.21 -217.08 
L 436.93 -216.78 
L 436.65 -216.48 
L 436.37 -216.18 
L 436.1 -215.88 
L 435.82 -215.58 
L 435.54 -215.28 
L 435.26 -214.98 
L 434.98 -214.68 
L 434.7 -214.37 
L 434.43 -214.07 
L 434.15 -213.76 
L 433.87 -213.46 
L 433.59 -213.15 
L 433.31 -212.85 
L 433.04 -212.54 
L 432.76 -212.23 
L 432.48 -211.92 
L 432.2 -211.61 
L 431.92 -211.3 
L 431.64 -210.99 
L 431.37 -210.68 
L 431.09 -210.37 
L 430.81 -210.05 
L 430.53 -209.74 
L 430.25 -209.42 
L 429.98 -209.11 
L 429.7 -208.79 
L 429.42 -208.48 
L 429.14 -208.16 
L 428.86 -207.84 
L 428.59 -207.52 
L 428.31 -207.2 
L 428.03 -206.88 
L 427.75 -206.56 
L 427.47 -206.23 
L 427.19 -205.91 
L 426.92 -205.58 
L 426.64 -205.26 
L 426.36 -204.93 
L 426.08 -204.6 
L 425.8 -204.28 
L 425.53 -203.95 
L 425.25 -203.62 
L 424.97 -203.29 
L 424.69 -202.96 
L 424.41 -202.62 
L 424.13 -202.29 
L 423.86 -201.96 
L 423.58 -201.62 
L 423.3 -201.28 
L 423.02 -200.95 
L 422.74 -200.61 
L 422.47 -200.27 
L 422.19 -199.93 
L 421.91 -199.59 
L 421.63 -199.25 
L 421.35 -198.9 
L 421.08 -198.56 
L 420.8 -198.22 
L 420.52 -197.87 
L 420.24 -197.52 
L 419.96 -197.18 
L 419.68 -196.83 
L 419.41 -196.48 
L 419.13 -196.13 
L 418.85 -195.77 
L 418.57 -195.42 
L 418.29 -195.07 
L 418.02 -194.71 
L 417.74 -194.36 
L 417.46 -194 
L 417.18 -193.64 
L 416.9 -193.28 
L 416.63 -192.92 
L 416.35 -192.56 
L 416.07 -192.19 
L 415.79 -191.83 
L 415.51 -191.47 
L 415.23 -191.1 
L 414.96 -190.73 
L 414.68 -190.36 
L 414.4 -189.99 
L 414.12 -189.62 
L 413.84 -189.25 
L 413.57 -188.88 
L 413.29 -188.5 
L 413.01 -188.13 
L 412.73 -187.75 
L 412.45 -187.37 
L 412.17 -186.99 
L 411.9 -186.61 
L 411.62 -186.23 
L 411.34 -185.84 
L 411.06 -185.46 
L 410.78 -185.07 
L 410.51 -184.68 
L 410.23 -184.29 
L 409.95 -183.9 
L 409.67 -183.51 
L 409.39 -183.12 
L 409.12 -182.72 
L 408.84 -182.33 
L 408.56 -181.93 
L 408.28 -181.53 
L 408 -181.13 
L 407.72 -180.73 
L 407.45 -180.33 
L 407.17 -179.92 
L 406.89 -179.52 
L 406.61 -179.11 
L 406.33 -178.7 
L 406.06 -178.29 
L 405.78 -177.88 
L 405.5 -177.46 
L 405.22 -177.05 
L 404.94 -176.63 
L 404.66 -176.21 
L 404.39 -175.79 
L 404.11 -175.37 
L 403.83 -174.95 
L 403.55 -174.52 
L 403.27 -174.1 
L 403 -173.67 
L 402.72 -173.24 
L 402.44 -172.8 
L 402.16 -172.37 
L 401.88 -171.94 
L 401.61 -171.5 
L 401.33 -171.06 
L 401.05 -170.62 
L 400.77 -170.18 
L 400.49 -169.73 
L 400.21 -169.28 
L 399.94 -168.84 
L 399.66 -168.39 
L 399.38 -167.93 
L 399.1 -167.48 
L 398.82 -167.02 
L 398.55 -166.56 
L 398.27 -166.1 
L 397.99 -165.64 
L 397.71 -165.18 
L 397.43 -164.71 
L 397.16 -164.24 
L 396.88 -163.77 
L 396.6 -163.3 
L 396.32 -162.83 
L 396.04 -162.35 
L 395.76 -161.87 
L 395.49 -161.39 
L 395.21 -160.9 
L 394.93 -160.42 
L 394.65 -159.93 
L 394.37 -159.44 
L 394.1 -158.95 
L 393.82 -158.45 
L 393.54 -157.95 
L 393.26 -157.45 
L 392.98 -156.95 
L 392.7 -156.45 
L 392.43 -155.94 
L 392.15 -155.43 
L 391.87 -154.92 
L 391.59 -154.4 
L 391.31 -153.88 
L 391.04 -153.36 
L 390.76 -152.84 
L 390.48 -152.32 
L 390.2 -151.79 
L 389.92 -151.26 
L 389.65 -150.72 
L 389.37 -150.19 
L 389.09 -149.65 
L 388.81 -149.1 
L 388.53 -148.56 
L 388.25 -148.01 
L 387.98 -147.46 
L 387.7 -146.9 
L 387.42 -146.35 
L 387.14 -145.79 
L 386.86 -145.22 
L 386.59 -144.65 
L 386.31 -144.08 
L 386.03 -143.51 
L 385.75 -142.93 
L 385.47 -142.35 
L 385.2 -141.77 
L 384.92 -141.18 
L 384.64 -140.59 
L 384.36 -140 
L 384.08 -139.4 
L 383.8 -138.8 
L 383.53 -138.2 
L 383.25 -137.59 
L 382.97 -136.97 
L 382.69 -136.36 
L 382.41 -135.74 
L 382.14 -135.12 
L 381.86 -134.49 
L 381.58 -133.87 
L 381.3 -133.25 
L 381.02 -132.63 
L 380.74 -132.01 
L 380.47 -131.4 
L 380.19 -130.79 
L 379.91 -130.19 
L 379.63 -129.59 
L 379.35 -129 
L 379.08 -128.42 
L 378.8 -127.84 
L 378.52 -127.27 
L 378.24 -126.7 
L 377.96 -126.13 
L 377.69 -125.57 
L 377.41 -125 
L 377.13 -124.43 
L 376.85 -123.86 
L 376.57 -123.28 
L 376.29 -122.68 
L 376.02 -122.07 
L 375.74 -121.45 
L 375.46 -120.8 
L 375.18 -120.13 
L 374.9 -119.43 
L 374.63 -118.68 
L 374.35 -117.89 
L 374.07 -117.05 
L 373.79 -116.17 
L 373.51 -115.25 
L 373.23 -114.3 
L 372.96 -113.31 
L 372.68 -112.3 
L 372.4 -111.28 
L 372.12 -110.24 
L 371.84 -109.18 
L 371.57 -108.12 
L 371.29 -107.05 
L 371.01 -105.97 
L 370.73 -104.89 
L 370.45 -103.81 
L 370.18 -102.74 
L 369.9 -101.67 
L 369.62 -100.62 
L 369.34 -99.57 
L 369.06 -98.55 
L 368.78 -97.54 
L 368.51 -96.55 
L 368.23 -95.58 
L 367.95 -94.63 
L 367.67 -93.69 
L 367.39 -92.76 
L 367.12 -91.84 
L 366.84 -90.92 
L 366.56 -90 
L 366.28 -89.07 
L 366 -88.14 
L 365.73 -87.19 
L 365.45 -86.22 
L 365.17 -85.24 
L 364.89 -84.24 
L 364.61 -83.2 
L 364.33 -82.14 
L 364.06 -81.04 
L 363.78 -79.9 
L 363.5 -78.72 
L 363.22 -77.5 
L 362.94 -76.23 
L 362.67 -74.92 
L 362.39 -73.57 
L 362.11 -72.18 
L 361.83 -70.75 
L 361.55 -69.29 
L 361.27 -67.8 
L 361 -66.27 
L 360.72 -64.72 
L 360.44 -63.14 
L 360.16 -61.53 
L 359.88 -59.9 
L 359.61 -58.25 
z
" style="stroke: #808080; stroke-opacity: 0.5"/>
</defs>
<g clip-path="url(#pd65109ea71)">
<use href="#m7407e3d3c0" x="0" y="432" style="fill: #808080; fill-opacity: 0.5; stroke: #808080; stroke-opacity: 0.5"/>
</g>
</g>
<g id="FillBetweenPolyCollection_3">
<defs>
<path id="m3f87d01f17" d="M 359.61 -58.25 
L 359.61 -58.25 
L 359.88 -58.6 
L 360.16 -58.99 
L 360.44 -59.41 
L 360.72 -59.83 
L 361 -60.26 
L 361.27 -60.7 
L 361.55 -61.15 
L 361.83 -61.6 
L 362.11 -62.06 
L 362.39 -62.52 
L 362.67 -62.99 
L 362.94 -63.46 
L 363.22 -63.93 
L 363.5 -64.4 
L 363.78 -64.88 
L 364.06 -65.36 
L 364.33 -65.85 
L 364.61 -66.33 
L 364.89 -66.82 
L 365.17 -67.31 
L 365.45 -67.8 
L 365.73 -68.3 
L 366 -68.79 
L 366.28 -69.29 
L 366.56 -69.79 
L 366.84 -70.29 
L 367.12 -70.79 
L 367.39 -71.29 
L 367.67 -71.8 
L 367.95 -72.31 
L 368.23 -72.81 
L 368.51 -73.32 
L 368.78 -73.83 
L 369.06 -74.35 
L 369.34 -74.86 
L 369.62 -75.37 
L 369.9 -75.89 
L 370.18 -76.4 
L 370.45 -76.92 
L 370.73 -77.44 
L 371.01 -77.96 
L 371.29 -78.48 
L 371.57 -79 
L 371.84 -79.52 
L 372.12 -80.05 
L 372.4 -80.57 
L 372.68 -81.1 
L 372.96 -81.62 
L 373.23 -82.15 
L 373.51 -82.68 
L 373.79 -83.2 
L 374.07 -83.73 
L 374.35 -84.26 
L 374.63 -84.79 
L 374.9 -85.32 
L 375.18 -85.85 
L 375.46 -86.39 
L 375.74 -86.92 
L 376.02 -87.45 
L 376.29 -87.99 
L 376.57 -88.52 
L 376.85 -89.06 
L 377.13 -89.6 
L 377.41 -90.13 
L 377.69 -90.67 
L 377.96 -91.21 
L 378.24 -91.75 
L 378.52 -92.29 
L 378.8 -92.83 
L 379.08 -93.37 
L 379.35 -93.91 
L 379.63 -94.45 
L 379.91 -94.99 
L 380.19 -95.53 
L 380.47 -96.08 
L 380.74 -96.62 
L 381.02 -97.16 
L 381.3 -97.71 
L 381.58 -98.25 
L 381.86 -98.8 
L 382.14 -99.34 
L 382.41 -99.89 
L 382.69 -100.43 
L 382.97 -100.98 
L 383.25 -101.53 
L 383.53 -102.07 
L 383.8 -102.62 
L 384.08 -103.17 
L 384.36 -103.72 
L 384.64 -104.27 
L 384.92 -104.81 
L 385.2 -105.36 
L 385.47 -105.91 
L 385.75 -106.46 
L 386.03 -107.01 
L 386.31 -107.56 
L 386.59 -108.11 
L 386.86 -108.66 
L 387.14 -109.22 
L 387.42 -109.77 
L 387.7 -110.32 
L 387.98 -110.87 
L 388.25 -111.42 
L 388.53 -111.97 
L 388.81 -112.52 
L 389.09 -113.08 
L 389.37 -113.63 
L 389.65 -114.18 
L 389.92 -114.73 
L 390.2 -115.28 
L 390.48 -115.84 
L 390.76 -116.39 
L 391.04 -116.94 
L 391.31 -117.49 
L 391.59 -118.04 
L 391.87 -118.6 
L 392.15 -119.15 
L 392.43 -119.7 
L 392.7 -120.25 
L 392.98 -120.8 
L 393.26 -121.35 
L 393.54 -121.9 
L 393.82 -122.46 
L 394.1 -123.01 
L 394.37 -123.56 
L 394.65 -124.1 
L 394.93 -124.65 
L 395.21 -125.2 
L 395.49 -125.75 
L 395.76 -126.3 
L 396.04 -126.85 
L 396.32 -127.39 
L 396.6 -127.94 
L 396.88 -128.49 
L 397.16 -129.03 
L 397.43 -129.57 
L 397.71 -130.12 
L 397.99 -130.66 
L 398.27 -131.2 
L 398.55 -131.74 
L 398.82 -132.28 
L 399.1 -132.82 
L 399.38 -133.36 
L 399.66 -133.9 
L 399.94 -134.43 
L 400.21 -134.97 
L 400.49 -135.5 
L 400.77 -136.04 
L 401.05 -136.57 
L 401.33 -137.1 
L 401.61 -137.63 
L 401.88 -138.15 
L 402.16 -138.68 
L 402.44 -139.2 
L 402.72 -139.72 
L 403 -140.25 
L 403.27 -140.76 
L 403.55 -141.28 
L 403.83 -141.8 
L 404.11 -142.31 
L 404.39 -142.82 
L 404.66 -143.33 
L 404.94 -143.84 
L 405.22 -144.34 
L 405.5 -144.85 
L 405.78 -145.35 
L 406.06 -145.85 
L 406.33 -146.34 
L 406.61 -146.83 
L 406.89 -147.32 
L 407.17 -147.81 
L 407.45 -148.3 
L 407.72 -148.78 
L 408 -149.26 
L 408.28 -149.74 
L 408.56 -150.21 
L 408.84 -150.68 
L 409.12 -151.15 
L 409.39 -151.61 
L 409.67 -152.07 
L 409.95 -152.53 
L 410.23 -152.99 
L 410.51 -153.44 
L 410.78 -153.89 
L 411.06 -154.33 
L 411.34 -154.77 
L 411.62 -155.21 
L 411.9 -155.64 
L 412.17 -156.07 
L 412.45 -156.49 
L 412.73 -156.91 
L 413.01 -157.33 
L 413.29 -157.75 
L 413.57 -158.15 
L 413.84 -158.56 
L 414.12 -158.96 
L 414.4 -159.36 
L 414.68 -159.75 
L 414.96 -160.14 
L 415.23 -160.52 
L 415.51 -160.9 
L 415.79 -161.28 
L 416.07 -161.65 
L 416.35 -162.01 
L 416.63 -162.37 
L 416.9 -162.73 
L 417.18 -163.08 
L 417.46 -163.43 
L 417.74 -163.77 
L 418.02 -164.11 
L 418.29 -164.45 
L 418.57 -164.78 
L 418.85 -165.1 
L 419.13 -165.42 
L 419.41 -165.74 
L 419.68 -166.05 
L 419.96 -166.35 
L 420.24 -166.65 
L 420.52 -166.95 
L 420.8 -167.24 
L 421.08 -167.53 
L 421.35 -167.81 
L 421.63 -168.09 
L 421.91 -168.37 
L 422.19 -168.63 
L 422.47 -168.9 
L 422.74 -169.16 
L 423.02 -169.41 
L 423.3 -169.67 
L 423.58 -169.91 
L 423.86 -170.15 
L 424.13 -170.39 
L 424.41 -170.62 
L 424.69 -170.85 
L 424.97 -171.08 
L 425.25 -171.3 
L 425.53 -171.52 
L 425.8 -171.73 
L 426.08 -171.93 
L 426.36 -172.14 
L 426.64 -172.34 
L 426.92 -172.53 
L 427.19 -172.73 
L 427.47 -172.91 
L 427.75 -173.1 
L 428.03 -173.28 
L 428.31 -173.45 
L 428.59 -173.63 
L 428.86 -173.8 
L 429.14 -173.96 
L 429.42 -174.12 
L 429.7 -174.28 
L 429.98 -174.44 
L 430.25 -174.59 
L 430.53 -174.74 
L 430.81 -174.88 
L 431.09 -175.02 
L 431.37 -175.16 
L 431.64 -175.3 
L 431.92 -175.43 
L 432.2 -175.56 
L 432.48 -175.68 
L 432.76 -175.81 
L 433.04 -175.93 
L 433.31 -176.04 
L 433.59 -176.16 
L 433.87 -176.27 
L 434.15 -176.38 
L 434.43 -176.49 
L 434.7 -176.59 
L 434.98 -176.69 
L 435.26 -176.79 
L 435.54 -176.89 
L 435.82 -176.98 
L 436.1 -177.07 
L 436.37 -177.16 
L 436.65 -177.25 
L 436.93 -177.33 
L 437.21 -177.42 
L 437.49 -177.5 
L 437.76 -177.58 
L 438.04 -177.65 
L 438.32 -177.73 
L 438.6 -177.8 
L 438.88 -177.87 
L 439.15 -177.94 
L 439.43 -178.01 
L 439.71 -178.07 
L 439.99 -178.13 
L 440.27 -178.2 
L 440.55 -178.26 
L 440.82 -178.31 
L 441.1 -178.37 
L 441.38 -178.43 
L 441.66 -178.48 
L 441.94 -178.53 
L 442.21 -178.58 
L 442.49 -178.63 
L 442.77 -178.68 
L 443.05 -178.73 
L 443.33 -178.77 
L 443.6 -178.81 
L 443.88 -178.86 
L 444.16 -178.9 
L 444.44 -178.94 
L 444.72 -178.98 
L 445 -179.01 
L 445.27 -179.05 
L 445.55 -179.08 
L 445.83 -179.12 
L 446.11 -179.15 
L 446.39 -179.18 
L 446.66 -179.21 
L 446.94 -179.24 
L 447.22 -179.27 
L 447.5 -179.3 
L 447.78 -179.33 
L 448.06 -179.35 
L 448.33 -179.38 
L 448.61 -179.4 
L 448.89 -179.43 
L 449.17 -179.45 
L 449.45 -179.47 
L 449.72 -179.49 
L 450 -179.51 
L 450.28 -179.53 
L 450.56 -179.55 
L 450.84 -179.57 
L 451.11 -179.59 
L 451.39 -179.6 
L 451.67 -179.62 
L 451.95 -179.63 
L 452.23 -179.65 
L 452.51 -179.66 
L 452.78 -179.67 
L 453.06 -179.69 
L 453.34 -179.7 
L 453.62 -179.71 
L 453.9 -179.72 
L 454.17 -179.73 
L 454.45 -179.74 
L 454.73 -179.75 
L 455.01 -179.76 
L 455.29 -179.77 
L 455.57 -179.77 
L 455.84 -179.78 
L 456.12 -179.79 
L 456.4 -179.8 
L 456.68 -179.8 
L 456.96 -179.81 
L 457.23 -179.81 
L 457.51 -179.82 
L 457.79 -179.82 
L 458.07 -179.82 
L 458.35 -179.83 
L 458.62 -179.83 
L 458.9 -179.83 
L 459.18 -179.83 
L 459.46 -179.84 
L 459.74 -179.84 
L 460.02 -179.84 
L 460.29 -179.84 
L 460.57 -179.84 
L 460.85 -179.84 
L 461.13 -179.84 
L 461.41 -179.84 
L 461.68 -179.84 
L 461.96 -179.84 
L 462.24 -179.84 
L 462.52 -179.84 
L 462.8 -179.83 
L 463.07 -179.83 
L 463.35 -179.83 
L 463.63 -179.83 
L 463.91 -179.82 
L 464.19 -179.82 
L 464.47 -179.82 
L 464.74 -179.81 
L 465.02 -179.81 
L 465.3 -179.8 
L 465.58 -179.8 
L 465.86 -179.8 
L 466.13 -179.79 
L 466.41 -179.79 
L 466.69 -179.78 
L 466.97 -179.78 
L 467.25 -179.77 
L 467.53 -179.76 
L 467.8 -179.76 
L 468.08 -179.75 
L 468.36 -179.75 
L 468.64 -179.74 
L 468.92 -179.73 
L 469.19 -179.73 
L 469.47 -179.72 
L 469.75 -179.71 
L 470.03 -179.7 
L 470.31 -179.7 
L 470.58 -179.69 
L 470.86 -179.68 
L 471.14 -179.67 
L 471.42 -179.66 
L 471.7 -179.66 
L 471.98 -179.65 
L 472.25 -179.64 
L 472.53 -179.63 
L 472.81 -179.62 
L 473.09 -179.61 
L 473.37 -179.6 
L 473.64 -179.6 
L 473.92 -179.59 
L 474.2 -179.58 
L 474.48 -179.57 
L 474.76 -179.56 
L 475.04 -179.55 
L 475.31 -179.54 
L 475.59 -179.53 
L 475.87 -179.52 
L 476.15 -179.51 
L 476.43 -179.5 
L 476.7 -179.49 
L 476.98 -179.48 
L 477.26 -179.47 
L 477.54 -179.46 
L 477.82 -179.45 
L 478.09 -179.44 
L 478.37 -179.42 
L 478.65 -179.41 
L 478.93 -179.4 
L 479.21 -179.39 
L 479.49 -179.38 
L 479.76 -179.37 
L 480.04 -179.36 
L 480.32 -179.35 
L 480.6 -179.34 
L 480.88 -179.32 
L 481.15 -179.31 
L 481.43 -179.3 
L 481.71 -179.29 
L 481.99 -179.28 
L 482.27 -179.27 
L 482.54 -179.25 
L 482.82 -179.24 
L 483.1 -179.23 
L 483.38 -179.22 
L 483.66 -179.21 
L 483.94 -179.19 
L 484.21 -179.18 
L 484.49 -179.17 
L 484.77 -179.16 
L 485.05 -179.14 
L 485.33 -179.13 
L 485.6 -179.12 
L 485.88 -179.11 
L 486.16 -179.09 
L 486.44 -179.08 
L 486.72 -179.07 
L 487 -179.06 
L 487.27 -179.04 
L 487.55 -179.03 
L 487.83 -179.02 
L 488.11 -179 
L 488.39 -178.99 
L 488.66 -178.98 
L 488.94 -178.97 
L 489.22 -178.95 
L 489.5 -178.94 
L 489.78 -178.93 
L 490.05 -178.91 
L 490.33 -178.9 
L 490.61 -178.89 
L 490.89 -178.87 
L 491.17 -178.86 
L 491.45 -178.85 
L 491.72 -178.83 
L 492 -178.82 
L 492.28 -178.81 
L 492.56 -178.79 
L 492.84 -178.78 
L 493.11 -178.76 
L 493.39 -178.75 
L 493.67 -178.74 
L 493.95 -178.72 
L 494.23 -178.71 
L 494.5 -178.7 
L 494.78 -178.68 
L 495.06 -178.67 
L 495.34 -178.65 
L 495.62 -178.64 
L 495.9 -178.63 
L 496.17 -178.61 
L 496.45 -178.6 
L 496.73 -178.59 
L 497.01 -178.57 
L 497.29 -178.56 
L 497.56 -178.54 
L 497.84 -178.53 
L 498.12 -178.52 
L 498.4 -178.5 
L 498.68 -178.49 
L 498.96 -178.47 
L 499.23 -178.46 
L 499.51 -178.44 
L 499.79 -178.43 
L 500.07 -178.42 
L 500.35 -178.4 
L 500.62 -178.39 
L 500.9 -178.37 
L 501.18 -178.36 
L 501.46 -178.35 
L 501.74 -178.33 
L 502.01 -178.32 
L 502.29 -178.3 
L 502.57 -178.29 
L 502.85 -178.27 
L 503.13 -178.26 
L 503.41 -178.24 
L 503.68 -178.23 
L 503.96 -178.22 
L 504.24 -178.2 
L 504.52 -178.19 
L 504.8 -178.17 
L 505.07 -178.16 
L 505.35 -178.14 
L 505.63 -178.13 
L 505.91 -178.11 
L 506.19 -178.1 
L 506.47 -178.08 
L 506.74 -178.07 
L 507.02 -178.06 
L 507.3 -178.04 
L 507.58 -178.03 
L 507.86 -178.01 
L 508.13 -178 
L 508.41 -177.98 
L 508.69 -177.97 
L 508.97 -177.95 
L 509.25 -177.94 
L 509.52 -177.92 
L 509.8 -177.91 
L 510.08 -177.89 
L 510.36 -177.88 
L 510.64 -177.86 
L 510.92 -177.85 
L 511.19 -177.83 
L 511.47 -177.82 
L 511.75 -177.81 
L 512.03 -177.79 
L 512.31 -177.78 
L 512.58 -177.76 
L 512.86 -177.75 
L 513.14 -177.73 
L 513.42 -177.72 
L 513.7 -177.7 
L 513.97 -177.69 
L 514.25 -177.67 
L 514.53 -177.66 
L 514.81 -177.64 
L 515.09 -177.63 
L 515.37 -177.61 
L 515.64 -177.6 
L 515.92 -177.58 
L 516.2 -177.57 
L 516.48 -177.55 
L 516.76 -177.54 
L 517.03 -177.52 
L 517.31 -177.51 
L 517.59 -177.49 
L 517.87 -177.48 
L 518.15 -177.46 
L 518.43 -177.45 
L 518.7 -177.43 
L 518.98 -177.42 
L 519.26 -177.4 
L 519.54 -177.39 
L 519.82 -177.37 
L 520.09 -177.36 
L 520.37 -177.34 
L 520.65 -177.33 
L 520.93 -177.31 
L 521.21 -177.3 
L 521.48 -177.28 
L 521.76 -177.27 
L 522.04 -177.25 
L 522.32 -177.24 
L 522.6 -177.22 
L 522.88 -177.21 
L 523.15 -177.19 
L 523.43 -177.18 
L 523.71 -177.16 
L 523.99 -177.15 
L 524.27 -177.13 
L 524.54 -177.12 
L 524.82 -177.1 
L 525.1 -177.09 
L 525.38 -177.07 
L 525.66 -177.06 
L 525.94 -177.04 
L 526.21 -177.03 
L 526.49 -177.01 
L 526.77 -176.99 
L 527.05 -176.98 
L 527.33 -176.96 
L 527.6 -176.95 
L 527.88 -176.93 
L 528.16 -176.92 
L 528.44 -176.9 
L 528.72 -176.89 
L 528.99 -176.87 
L 529.27 -176.86 
L 529.55 -176.84 
L 529.83 -176.83 
L 530.11 -176.81 
L 530.39 -176.8 
L 530.66 -176.78 
L 530.94 -176.77 
L 531.22 -176.75 
L 531.5 -176.74 
L 531.78 -176.72 
L 532.05 -176.71 
L 532.33 -176.69 
L 532.61 -176.68 
L 532.89 -176.66 
L 533.17 -176.64 
L 533.44 -176.63 
L 533.72 -176.61 
L 534 -176.6 
L 534.28 -176.58 
L 534.56 -176.57 
L 534.84 -176.55 
L 535.11 -176.54 
L 535.39 -176.52 
L 535.67 -176.51 
L 535.95 -176.49 
L 536.23 -176.48 
L 536.5 -176.46 
L 536.78 -176.45 
L 537.06 -176.43 
L 537.34 -176.42 
L 537.62 -176.4 
L 537.9 -176.39 
L 538.17 -176.37 
L 538.45 -176.35 
L 538.73 -176.34 
L 539.01 -176.32 
L 539.29 -176.31 
L 539.56 -176.29 
L 539.84 -176.28 
L 540.12 -176.26 
L 540.4 -176.25 
L 540.68 -176.23 
L 540.95 -176.22 
L 541.23 -176.2 
L 541.51 -176.19 
L 541.79 -176.17 
L 542.07 -176.16 
L 542.35 -176.14 
L 542.62 -176.12 
L 542.9 -176.11 
L 543.18 -176.09 
L 543.46 -176.08 
L 543.74 -176.06 
L 544.01 -176.05 
L 544.29 -176.03 
L 544.57 -176.02 
L 544.85 -176 
L 545.13 -175.99 
L 545.41 -175.97 
L 545.68 -175.96 
L 545.96 -175.94 
L 546.24 -175.93 
L 546.52 -175.91 
L 546.8 -175.89 
L 547.07 -175.88 
L 547.35 -175.86 
L 547.63 -175.85 
L 547.91 -175.83 
L 548.19 -175.82 
L 548.46 -175.8 
L 548.74 -175.79 
L 549.02 -175.77 
L 549.3 -175.76 
L 549.58 -175.74 
L 549.86 -175.73 
L 550.13 -175.71 
L 550.41 -175.69 
L 550.69 -175.68 
L 550.97 -175.66 
L 551.25 -175.65 
L 551.52 -175.63 
L 551.8 -175.62 
L 552.08 -175.6 
L 552.36 -175.59 
L 552.64 -175.57 
L 552.91 -175.56 
L 553.19 -175.54 
L 553.47 -175.53 
L 553.75 -175.51 
L 554.03 -175.49 
L 554.31 -175.48 
L 554.58 -175.46 
L 554.86 -175.45 
L 555.14 -175.43 
L 555.42 -175.42 
L 555.7 -175.4 
L 555.97 -175.39 
L 556.25 -175.37 
L 556.53 -175.36 
L 556.81 -175.34 
L 557.09 -175.33 
L 557.37 -175.31 
L 557.64 -175.29 
L 557.92 -175.28 
L 558.2 -175.26 
L 558.48 -175.25 
L 558.76 -175.23 
L 559.03 -175.22 
L 559.31 -175.2 
L 559.59 -175.19 
L 559.87 -175.17 
L 560.15 -175.16 
L 560.42 -175.14 
L 560.7 -175.12 
L 560.98 -175.11 
L 561.26 -175.09 
L 561.54 -175.08 
L 561.82 -175.06 
L 562.09 -175.05 
L 562.37 -175.03 
L 562.65 -175.02 
L 562.93 -175 
L 563.21 -174.99 
L 563.48 -174.97 
L 563.76 -174.96 
L 564.04 -174.94 
L 564.32 -174.92 
L 564.6 -174.91 
L 564.87 -174.89 
L 565.15 -174.88 
L 565.43 -174.86 
L 565.71 -174.85 
L 565.99 -174.83 
L 566.27 -174.82 
L 566.54 -174.8 
L 566.82 -174.79 
L 567.1 -174.77 
L 567.38 -174.75 
L 567.66 -174.74 
L 567.93 -174.72 
L 568.21 -174.71 
L 568.49 -174.69 
L 568.77 -174.68 
L 569.05 -174.66 
L 569.33 -174.65 
L 569.6 -174.63 
L 569.88 -174.62 
L 570.16 -174.6 
L 570.44 -174.58 
L 570.72 -174.57 
L 570.99 -174.55 
L 571.27 -174.54 
L 571.55 -174.52 
L 571.83 -174.51 
L 572.11 -174.49 
L 572.38 -174.48 
L 572.66 -174.46 
L 572.94 -174.45 
L 573.22 -174.43 
L 573.5 -174.41 
L 573.78 -174.4 
L 574.05 -174.38 
L 574.33 -174.37 
L 574.61 -174.35 
L 574.89 -174.34 
L 575.17 -174.32 
L 575.44 -174.31 
L 575.72 -174.29 
L 576 -174.28 
L 576.28 -174.26 
L 576.56 -174.24 
L 576.84 -174.23 
L 577.11 -174.21 
L 577.39 -174.2 
L 577.67 -174.18 
L 577.95 -174.17 
L 578.23 -174.15 
L 578.5 -174.14 
L 578.78 -174.12 
L 579.06 -174.11 
L 579.34 -174.09 
L 579.62 -174.07 
L 579.89 -174.06 
L 580.17 -174.04 
L 580.45 -174.03 
L 580.73 -174.01 
L 581.01 -174 
L 581.29 -173.98 
L 581.56 -173.97 
L 581.84 -173.95 
L 581.84 -339.44 
L 581.84 -339.44 
L 581.56 -339.36 
L 581.29 -339.27 
L 581.01 -339.18 
L 580.73 -339.09 
L 580.45 -339 
L 580.17 -338.91 
L 579.89 -338.82 
L 579.62 -338.73 
L 579.34 -338.64 
L 579.06 -338.55 
L 578.78 -338.46 
L 578.5 -338.36 
L 578.23 -338.27 
L 577.95 -338.18 
L 577.67 -338.08 
L 577.39 -337.99 
L 577.11 -337.89 
L 576.84 -337.79 
L 576.56 -337.7 
L 576.28 -337.6 
L 576 -337.5 
L 575.72 -337.4 
L 575.44 -337.3 
L 575.17 -337.2 
L 574.89 -337.1 
L 574.61 -337 
L 574.33 -336.9 
L 574.05 -336.8 
L 573.78 -336.69 
L 573.5 -336.59 
L 573.22 -336.48 
L 572.94 -336.38 
L 572.66 -336.27 
L 572.38 -336.17 
L 572.11 -336.06 
L 571.83 -335.95 
L 571.55 -335.85 
L 571.27 -335.74 
L 570.99 -335.63 
L 570.72 -335.52 
L 570.44 -335.41 
L 570.16 -335.3 
L 569.88 -335.19 
L 569.6 -335.07 
L 569.33 -334.96 
L 569.05 -334.85 
L 568.77 -334.73 
L 568.49 -334.62 
L 568.21 -334.5 
L 567.93 -334.39 
L 567.66 -334.27 
L 567.38 -334.16 
L 567.1 -334.04 
L 566.82 -333.92 
L 566.54 -333.8 
L 566.27 -333.68 
L 565.99 -333.56 
L 565.71 -333.44 
L 565.43 -333.32 
L 565.15 -333.2 
L 564.87 -333.08 
L 564.6 -332.95 
L 564.32 -332.83 
L 564.04 -332.71 
L 563.76 -332.58 
L 563.48 -332.46 
L 563.21 -332.33 
L 562.93 -332.21 
L 562.65 -332.08 
L 562.37 -331.95 
L 562.09 -331.82 
L 561.82 -331.69 
L 561.54 -331.56 
L 561.26 -331.43 
L 560.98 -331.3 
L 560.7 -331.17 
L 560.42 -331.04 
L 560.15 -330.91 
L 559.87 -330.77 
L 559.59 -330.64 
L 559.31 -330.51 
L 559.03 -330.37 
L 558.76 -330.24 
L 558.48 -330.1 
L 558.2 -329.96 
L 557.92 -329.83 
L 557.64 -329.69 
L 557.37 -329.55 
L 557.09 -329.41 
L 556.81 -329.27 
L 556.53 -329.13 
L 556.25 -328.99 
L 555.97 -328.85 
L 555.7 -328.71 
L 555.42 -328.57 
L 555.14 -328.42 
L 554.86 -328.28 
L 554.58 -328.13 
L 554.31 -327.99 
L 554.03 -327.84 
L 553.75 -327.7 
L 553.47 -327.55 
L 553.19 -327.4 
L 552.91 -327.26 
L 552.64 -327.11 
L 552.36 -326.96 
L 552.08 -326.81 
L 551.8 -326.66 
L 551.52 -326.51 
L 551.25 -326.35 
L 550.97 -326.2 
L 550.69 -326.05 
L 550.41 -325.9 
L 550.13 -325.74 
L 549.86 -325.59 
L 549.58 -325.43 
L 549.3 -325.28 
L 549.02 -325.12 
L 548.74 -324.96 
L 548.46 -324.81 
L 548.19 -324.65 
L 547.91 -324.49 
L 547.63 -324.33 
L 547.35 -324.17 
L 547.07 -324.01 
L 546.8 -323.85 
L 546.52 -323.69 
L 546.24 -323.53 
L 545.96 -323.36 
L 545.68 -323.2 
L 545.41 -323.04 
L 545.13 -322.87 
L 544.85 -322.71 
L 544.57 -322.54 
L 544.29 -322.38 
L 544.01 -322.21 
L 543.74 -322.04 
L 543.46 -321.87 
L 543.18 -321.71 
L 542.9 -321.54 
L 542.62 -321.37 
L 542.35 -321.2 
L 542.07 -321.03 
L 541.79 -320.85 
L 541.51 -320.68 
L 541.23 -320.51 
L 540.95 -320.34 
L 540.68 -320.16 
L 540.4 -319.99 
L 540.12 -319.81 
L 539.84 -319.64 
L 539.56 -319.46 
L 539.29 -319.29 
L 539.01 -319.11 
L 538.73 -318.93 
L 538.45 -318.75 
L 538.17 -318.57 
L 537.9 -318.39 
L 537.62 -318.21 
L 537.34 -318.03 
L 537.06 -317.85 
L 536.78 -317.67 
L 536.5 -317.49 
L 536.23 -317.31 
L 535.95 -317.12 
L 535.67 -316.94 
L 535.39 -316.75 
L 535.11 -316.57 
L 534.84 -316.38 
L 534.56 -316.2 
L 534.28 -316.01 
L 534 -315.82 
L 533.72 -315.63 
L 533.44 -315.45 
L 533.17 -315.26 
L 532.89 -315.07 
L 532.61 -314.88 
L 532.33 -314.69 
L 532.05 -314.5 
L 531.78 -314.3 
L 531.5 -314.11 
L 531.22 -313.92 
L 530.94 -313.73 
L 530.66 -313.53 
L 530.39 -313.34 
L 530.11 -313.14 
L 529.83 -312.95 
L 529.55 -312.75 
L 529.27 -312.55 
L 528.99 -312.36 
L 528.72 -312.16 
L 528.44 -311.96 
L 528.16 -311.76 
L 527.88 -311.56 
L 527.6 -311.36 
L 527.33 -311.16 
L 527.05 -310.96 
L 526.77 -310.76 
L 526.49 -310.56 
L 526.21 -310.36 
L 525.94 -310.15 
L 525.66 -309.95 
L 525.38 -309.75 
L 525.1 -309.54 
L 524.82 -309.34 
L 524.54 -309.13 
L 524.27 -308.92 
L 523.99 -308.72 
L 523.71 -308.51 
L 523.43 -308.3 
L 523.15 -308.09 
L 522.88 -307.88 
L 522.6 -307.68 
L 522.32 -307.47 
L 522.04 -307.25 
L 521.76 -307.04 
L 521.48 -306.83 
L 521.21 -306.62 
L 520.93 -306.41 
L 520.65 -306.2 
L 520.37 -305.98 
L 520.09 -305.77 
L 519.82 -305.55 
L 519.54 -305.34 
L 519.26 -305.12 
L 518.98 -304.91 
L 518.7 -304.69 
L 518.43 -304.47 
L 518.15 -304.26 
L 517.87 -304.04 
L 517.59 -303.82 
L 517.31 -303.6 
L 517.03 -303.38 
L 516.76 -303.16 
L 516.48 -302.94 
L 516.2 -302.72 
L 515.92 -302.5 
L 515.64 -302.28 
L 515.37 -302.05 
L 515.09 -301.83 
L 514.81 -301.61 
L 514.53 -301.38 
L 514.25 -301.16 
L 513.97 -300.93 
L 513.7 -300.71 
L 513.42 -300.48 
L 513.14 -300.26 
L 512.86 -300.03 
L 512.58 -299.8 
L 512.31 -299.58 
L 512.03 -299.35 
L 511.75 -299.12 
L 511.47 -298.89 
L 511.19 -298.66 
L 510.92 -298.43 
L 510.64 -298.2 
L 510.36 -297.97 
L 510.08 -297.74 
L 509.8 -297.51 
L 509.52 -297.27 
L 509.25 -297.04 
L 508.97 -296.81 
L 508.69 -296.57 
L 508.41 -296.34 
L 508.13 -296.1 
L 507.86 -295.87 
L 507.58 -295.63 
L 507.3 -295.4 
L 507.02 -295.16 
L 506.74 -294.92 
L 506.47 -294.69 
L 506.19 -294.45 
L 505.91 -294.21 
L 505.63 -293.97 
L 505.35 -293.73 
L 505.07 -293.49 
L 504.8 -293.25 
L 504.52 -293.01 
L 504.24 -292.77 
L 503.96 -292.53 
L 503.68 -292.29 
L 503.41 -292.05 
L 503.13 -291.8 
L 502.85 -291.56 
L 502.57 -291.32 
L 502.29 -291.07 
L 502.01 -290.83 
L 501.74 -290.59 
L 501.46 -290.34 
L 501.18 -290.09 
L 500.9 -289.85 
L 500.62 -289.6 
L 500.35 -289.36 
L 500.07 -289.11 
L 499.79 -288.86 
L 499.51 -288.61 
L 499.23 -288.36 
L 498.96 -288.12 
L 498.68 -287.87 
L 498.4 -287.62 
L 498.12 -287.37 
L 497.84 -287.12 
L 497.56 -286.87 
L 497.29 -286.61 
L 497.01 -286.36 
L 496.73 -286.11 
L 496.45 -285.86 
L 496.17 -285.61 
L 495.9 -285.35 
L 495.62 -285.1 
L 495.34 -284.84 
L 495.06 -284.59 
L 494.78 -284.34 
L 494.5 -284.08 
L 494.23 -283.82 
L 493.95 -283.57 
L 493.67 -283.31 
L 493.39 -283.06 
L 493.11 -282.8 
L 492.84 -282.54 
L 492.56 -282.28 
L 492.28 -282.03 
L 492 -281.77 
L 491.72 -281.51 
L 491.45 -281.25 
L 491.17 -280.99 
L 490.89 -280.73 
L 490.61 -280.47 
L 490.33 -280.21 
L 490.05 -279.95 
L 489.78 -279.69 
L 489.5 -279.42 
L 489.22 -279.16 
L 488.94 -278.9 
L 488.66 -278.64 
L 488.39 -278.37 
L 488.11 -278.11 
L 487.83 -277.85 
L 487.55 -277.58 
L 487.27 -277.32 
L 487 -277.05 
L 486.72 -276.79 
L 486.44 -276.52 
L 486.16 -276.26 
L 485.88 -275.99 
L 485.6 -275.72 
L 485.33 -275.46 
L 485.05 -275.19 
L 484.77 -274.92 
L 484.49 -274.65 
L 484.21 -274.38 
L 483.94 -274.12 
L 483.66 -273.85 
L 483.38 -273.58 
L 483.1 -273.31 
L 482.82 -273.04 
L 482.54 -272.77 
L 482.27 -272.5 
L 481.99 -272.23 
L 481.71 -271.96 
L 481.43 -271.68 
L 481.15 -271.41 
L 480.88 -271.14 
L 480.6 -270.87 
L 480.32 -270.6 
L 480.04 -270.32 
L 479.76 -270.05 
L 479.49 -269.78 
L 479.21 -269.5 
L 478.93 -269.23 
L 478.65 -268.95 
L 478.37 -268.68 
L 478.09 -268.4 
L 477.82 -268.13 
L 477.54 -267.85 
L 477.26 -267.58 
L 476.98 -267.3 
L 476.7 -267.02 
L 476.43 -266.75 
L 476.15 -266.47 
L 475.87 -266.19 
L 475.59 -265.92 
L 475.31 -265.64 
L 475.04 -265.36 
L 474.76 -265.08 
L 474.48 -264.8 
L 474.2 -264.52 
L 473.92 -264.24 
L 473.64 -263.96 
L 473.37 -263.68 
L 473.09 -263.4 
L 472.81 -263.12 
L 472.53 -262.84 
L 472.25 -262.56 
L 471.98 -262.28 
L 471.7 -262 
L 471.42 -261.72 
L 471.14 -261.44 
L 470.86 -261.15 
L 470.58 -260.87 
L 470.31 -260.59 
L 470.03 -260.3 
L 469.75 -260.02 
L 469.47 -259.74 
L 469.19 -259.45 
L 468.92 -259.17 
L 468.64 -258.89 
L 468.36 -258.6 
L 468.08 -258.32 
L 467.8 -258.03 
L 467.53 -257.75 
L 467.25 -257.46 
L 466.97 -257.17 
L 466.69 -256.89 
L 466.41 -256.6 
L 466.13 -256.32 
L 465.86 -256.03 
L 465.58 -255.74 
L 465.3 -255.45 
L 465.02 -255.17 
L 464.74 -254.88 
L 464.47 -254.59 
L 464.19 -254.3 
L 463.91 -254.01 
L 463.63 -253.73 
L 463.35 -253.44 
L 463.07 -253.15 
L 462.8 -252.86 
L 462.52 -252.57 
L 462.24 -252.28 
L 461.96 -251.99 
L 461.68 -251.7 
L 461.41 -251.41 
L 461.13 -251.12 
L 460.85 -250.83 
L 460.57 -250.53 
L 460.29 -250.24 
L 460.02 -249.95 
L 459.74 -249.66 
L 459.46 -249.37 
L 459.18 -249.07 
L 458.9 -248.78 
L 458.62 -248.49 
L 458.35 -248.2 
L 458.07 -247.9 
L 457.79 -247.61 
L 457.51 -247.32 
L 457.23 -247.02 
L 456.96 -246.73 
L 456.68 -246.43 
L 456.4 -246.14 
L 456.12 -245.84 
L 455.84 -245.55 
L 455.57 -245.25 
L 455.29 -244.96 
L 455.01 -244.66 
L 454.73 -244.37 
L 454.45 -244.07 
L 454.17 -243.77 
L 453.9 -243.48 
L 453.62 -243.18 
L 453.34 -242.88 
L 453.06 -242.59 
L 452.78 -242.29 
L 452.51 -241.99 
L 452.23 -241.69 
L 451.95 -241.4 
L 451.67 -241.1 
L 451.39 -240.8 
L 451.11 -240.5 
L 450.84 -240.2 
L 450.56 -239.9 
L 450.28 -239.6 
L 450 -239.3 
L 449.72 -239 
L 449.45 -238.7 
L 449.17 -238.4 
L 448.89 -238.1 
L 448.61 -237.8 
L 448.33 -237.5 
L 448.06 -237.2 
L 447.78 -236.9 
L 447.5 -236.6 
L 447.22 -236.3 
L 446.94 -235.99 
L 446.66 -235.69 
L 446.39 -235.39 
L 446.11 -235.09 
L 445.83 -234.78 
L 445.55 -234.48 
L 445.27 -234.18 
L 445 -233.87 
L 444.72 -233.57 
L 444.44 -233.26 
L 444.16 -232.96 
L 443.88 -232.66 
L 443.6 -232.35 
L 443.33 -232.05 
L 443.05 -231.74 
L 442.77 -231.44 
L 442.49 -231.13 
L 442.21 -230.82 
L 441.94 -230.52 
L 441.66 -230.21 
L 441.38 -229.9 
L 441.1 -229.6 
L 440.82 -229.29 
L 440.55 -228.98 
L 440.27 -228.67 
L 439.99 -228.37 
L 439.71 -228.06 
L 439.43 -227.75 
L 439.15 -227.44 
L 438.88 -227.13 
L 438.6 -226.82 
L 438.32 -226.51 
L 438.04 -226.2 
L 437.76 -225.89 
L 437.49 -225.58 
L 437.21 -225.27 
L 436.93 -224.96 
L 436.65 -224.65 
L 436.37 -224.34 
L 436.1 -224.02 
L 435.82 -223.71 
L 435.54 -223.4 
L 435.26 -223.09 
L 434.98 -222.77 
L 434.7 -222.46 
L 434.43 -222.15 
L 434.15 -221.83 
L 433.87 -221.52 
L 433.59 -221.2 
L 433.31 -220.89 
L 433.04 -220.57 
L 432.76 -220.26 
L 432.48 -219.94 
L 432.2 -219.63 
L 431.92 -219.31 
L 431.64 -218.99 
L 431.37 -218.67 
L 431.09 -218.36 
L 430.81 -218.04 
L 430.53 -217.72 
L 430.25 -217.4 
L 429.98 -217.08 
L 429.7 -216.76 
L 429.42 -216.44 
L 429.14 -216.12 
L 428.86 -215.8 
L 428.59 -215.48 
L 428.31 -215.16 
L 428.03 -214.84 
L 427.75 -214.51 
L 427.47 -214.19 
L 427.19 -213.87 
L 426.92 -213.54 
L 426.64 -213.22 
L 426.36 -212.9 
L 426.08 -212.57 
L 425.8 -212.25 
L 425.53 -211.92 
L 425.25 -211.59 
L 424.97 -211.27 
L 424.69 -210.94 
L 424.41 -210.61 
L 424.13 -210.28 
L 423.86 -209.95 
L 423.58 -209.62 
L 423.3 -209.29 
L 423.02 -208.96 
L 422.74 -208.63 
L 422.47 -208.3 
L 422.19 -207.97 
L 421.91 -207.64 
L 421.63 -207.3 
L 421.35 -206.97 
L 421.08 -206.64 
L 420.8 -206.3 
L 420.52 -205.97 
L 420.24 -205.63 
L 419.96 -205.29 
L 419.68 -204.96 
L 419.41 -204.62 
L 419.13 -204.28 
L 418.85 -203.94 
L 418.57 -203.6 
L 418.29 -203.26 
L 418.02 -202.92 
L 417.74 -202.58 
L 417.46 -202.23 
L 417.18 -201.89 
L 416.9 -201.55 
L 416.63 -201.2 
L 416.35 -200.86 
L 416.07 -200.51 
L 415.79 -200.16 
L 415.51 -199.82 
L 415.23 -199.47 
L 414.96 -199.12 
L 414.68 -198.77 
L 414.4 -198.42 
L 414.12 -198.06 
L 413.84 -197.71 
L 413.57 -197.36 
L 413.29 -197 
L 413.01 -196.65 
L 412.73 -196.29 
L 412.45 -195.93 
L 412.17 -195.57 
L 411.9 -195.22 
L 411.62 -194.86 
L 411.34 -194.49 
L 411.06 -194.13 
L 410.78 -193.77 
L 410.51 -193.4 
L 410.23 -193.04 
L 409.95 -192.67 
L 409.67 -192.3 
L 409.39 -191.94 
L 409.12 -191.57 
L 408.84 -191.2 
L 408.56 -190.82 
L 408.28 -190.45 
L 408 -190.08 
L 407.72 -189.7 
L 407.45 -189.32 
L 407.17 -188.95 
L 406.89 -188.57 
L 406.61 -188.19 
L 406.33 -187.8 
L 406.06 -187.42 
L 405.78 -187.04 
L 405.5 -186.65 
L 405.22 -186.26 
L 404.94 -185.87 
L 404.66 -185.48 
L 404.39 -185.09 
L 404.11 -184.7 
L 403.83 -184.3 
L 403.55 -183.91 
L 403.27 -183.51 
L 403 -183.11 
L 402.72 -182.71 
L 402.44 -182.31 
L 402.16 -181.9 
L 401.88 -181.49 
L 401.61 -181.09 
L 401.33 -180.68 
L 401.05 -180.27 
L 400.77 -179.85 
L 400.49 -179.44 
L 400.21 -179.02 
L 399.94 -178.6 
L 399.66 -178.18 
L 399.38 -177.76 
L 399.1 -177.33 
L 398.82 -176.91 
L 398.55 -176.48 
L 398.27 -176.05 
L 397.99 -175.61 
L 397.71 -175.18 
L 397.43 -174.74 
L 397.16 -174.3 
L 396.88 -173.86 
L 396.6 -173.42 
L 396.32 -172.97 
L 396.04 -172.52 
L 395.76 -172.07 
L 395.49 -171.61 
L 395.21 -171.16 
L 394.93 -170.7 
L 394.65 -170.24 
L 394.37 -169.77 
L 394.1 -169.31 
L 393.82 -168.84 
L 393.54 -168.36 
L 393.26 -167.89 
L 392.98 -167.41 
L 392.7 -166.93 
L 392.43 -166.45 
L 392.15 -165.96 
L 391.87 -165.47 
L 391.59 -164.97 
L 391.31 -164.48 
L 391.04 -163.98 
L 390.76 -163.48 
L 390.48 -162.97 
L 390.2 -162.46 
L 389.92 -161.95 
L 389.65 -161.43 
L 389.37 -160.91 
L 389.09 -160.38 
L 388.81 -159.86 
L 388.53 -159.33 
L 388.25 -158.79 
L 387.98 -158.25 
L 387.7 -157.71 
L 387.42 -157.16 
L 387.14 -156.61 
L 386.86 -156.05 
L 386.59 -155.49 
L 386.31 -154.93 
L 386.03 -154.36 
L 385.75 -153.79 
L 385.47 -153.21 
L 385.2 -152.63 
L 384.92 -152.04 
L 384.64 -151.45 
L 384.36 -150.85 
L 384.08 -150.25 
L 383.8 -149.64 
L 383.53 -149.03 
L 383.25 -148.41 
L 382.97 -147.79 
L 382.69 -147.16 
L 382.41 -146.52 
L 382.14 -145.88 
L 381.86 -145.24 
L 381.58 -144.58 
L 381.3 -143.93 
L 381.02 -143.26 
L 380.74 -142.59 
L 380.47 -141.91 
L 380.19 -141.23 
L 379.91 -140.54 
L 379.63 -139.84 
L 379.35 -139.14 
L 379.08 -138.43 
L 378.8 -137.71 
L 378.52 -136.99 
L 378.24 -136.25 
L 377.96 -135.51 
L 377.69 -134.76 
L 377.41 -134.01 
L 377.13 -133.24 
L 376.85 -132.47 
L 376.57 -131.69 
L 376.29 -130.9 
L 376.02 -130.1 
L 375.74 -129.29 
L 375.46 -128.47 
L 375.18 -127.64 
L 374.9 -126.81 
L 374.63 -125.96 
L 374.35 -125.1 
L 374.07 -124.24 
L 373.79 -123.36 
L 373.51 -122.47 
L 373.23 -121.57 
L 372.96 -120.66 
L 372.68 -119.74 
L 372.4 -118.81 
L 372.12 -117.86 
L 371.84 -116.9 
L 371.57 -115.93 
L 371.29 -114.94 
L 371.01 -113.95 
L 370.73 -112.94 
L 370.45 -111.91 
L 370.18 -110.87 
L 369.9 -109.82 
L 369.62 -108.75 
L 369.34 -107.66 
L 369.06 -106.56 
L 368.78 -105.44 
L 368.51 -104.31 
L 368.23 -103.16 
L 367.95 -101.99 
L 367.67 -100.8 
L 367.39 -99.59 
L 367.12 -98.37 
L 366.84 -97.12 
L 366.56 -95.86 
L 366.28 -94.57 
L 366 -93.26 
L 365.73 -91.93 
L 365.45 -90.57 
L 365.17 -89.19 
L 364.89 -87.79 
L 364.61 -86.36 
L 364.33 -84.91 
L 364.06 -83.43 
L 363.78 -81.91 
L 363.5 -80.38 
L 363.22 -78.81 
L 362.94 -77.21 
L 362.67 -75.58 
L 362.39 -73.92 
L 362.11 -72.22 
L 361.83 -70.49 
L 361.55 -68.73 
L 361.27 -66.95 
L 361 -65.13 
L 360.72 -63.3 
L 360.44 -61.46 
L 360.16 -59.67 
L 359.88 -58.05 
L 359.61 -58.25 
z
" style="stroke: #008000; stroke-opacity: 0.2"/>
</defs>
<g clip-path="url(#pd65109ea71)">
<use href="#m3f87d01f17" x="0" y="432" style="fill: #008000; fill-opacity: 0.2; stroke: #008000; stroke-opacity: 0.2"/>
</g>
</g>
<g id="FillBetweenPolyCollection_4">
<defs>
<path id="m536d373db9" d="M 359.61 -58.25 
L 359.61 -58.25 
L 359.88 -58.95 
L 360.16 -59.23 
L 360.44 -59.45 
L 360.72 -59.63 
L 361 -59.78 
L 361.27 -59.92 
L 361.55 -60.05 
L 361.83 -60.17 
L 362.11 -60.28 
L 362.39 -60.39 
L 362.67 -60.49 
L 362.94 -60.58 
L 363.22 -60.67 
L 363.5 -60.76 
L 363.78 -60.84 
L 364.06 -60.92 
L 364.33 -61 
L 364.61 -61.07 
L 364.89 -61.14 
L 365.17 -61.21 
L 365.45 -61.28 
L 365.73 -61.35 
L 366 -61.41 
L 366.28 -61.47 
L 366.56 -61.53 
L 366.84 -61.59 
L 367.12 -61.65 
L 367.39 -61.71 
L 367.67 -61.77 
L 367.95 -61.82 
L 368.23 -61.87 
L 368.51 -61.93 
L 368.78 -61.98 
L 369.06 -62.03 
L 369.34 -62.08 
L 369.62 -62.13 
L 369.9 -62.18 
L 370.18 -62.22 
L 370.45 -62.27 
L 370.73 -62.32 
L 371.01 -62.36 
L 371.29 -62.41 
L 371.57 -62.45 
L 371.84 -62.49 
L 372.12 -62.54 
L 372.4 -62.58 
L 372.68 -62.62 
L 372.96 -62.66 
L 373.23 -62.7 
L 373.51 -62.74 
L 373.79 -62.78 
L 374.07 -62.82 
L 374.35 -62.86 
L 374.63 -62.9 
L 374.9 -62.93 
L 375.18 -62.97 
L 375.46 -63.01 
L 375.74 -63.04 
L 376.02 -63.08 
L 376.29 -63.11 
L 376.57 -63.15 
L 376.85 -63.18 
L 377.13 -63.22 
L 377.41 -63.25 
L 377.69 -63.29 
L 377.96 -63.32 
L 378.24 -63.35 
L 378.52 -63.39 
L 378.8 -63.42 
L 379.08 -63.45 
L 379.35 -63.48 
L 379.63 -63.51 
L 379.91 -63.54 
L 380.19 -63.57 
L 380.47 -63.61 
L 380.74 -63.64 
L 381.02 -63.67 
L 381.3 -63.7 
L 381.58 -63.73 
L 381.86 -63.75 
L 382.14 -63.78 
L 382.41 -63.81 
L 382.69 -63.84 
L 382.97 -63.87 
L 383.25 -63.9 
L 383.53 -63.92 
L 383.8 -63.95 
L 384.08 -63.98 
L 384.36 -64.01 
L 384.64 -64.03 
L 384.92 -64.06 
L 385.2 -64.09 
L 385.47 -64.11 
L 385.75 -64.14 
L 386.03 -64.17 
L 386.31 -64.19 
L 386.59 -64.22 
L 386.86 -64.24 
L 387.14 -64.27 
L 387.42 -64.29 
L 387.7 -64.32 
L 387.98 -64.34 
L 388.25 -64.37 
L 388.53 -64.39 
L 388.81 -64.42 
L 389.09 -64.44 
L 389.37 -64.46 
L 389.65 -64.49 
L 389.92 -64.51 
L 390.2 -64.53 
L 390.48 -64.56 
L 390.76 -64.58 
L 391.04 -64.6 
L 391.31 -64.63 
L 391.59 -64.65 
L 391.87 -64.67 
L 392.15 -64.69 
L 392.43 -64.72 
L 392.7 -64.74 
L 392.98 -64.76 
L 393.26 -64.78 
L 393.54 -64.8 
L 393.82 -64.83 
L 394.1 -64.85 
L 394.37 -64.87 
L 394.65 -64.89 
L 394.93 -64.91 
L 395.21 -64.93 
L 395.49 -64.95 
L 395.76 -64.97 
L 396.04 -64.99 
L 396.32 -65.01 
L 396.6 -65.03 
L 396.88 -65.05 
L 397.16 -65.07 
L 397.43 -65.09 
L 397.71 -65.11 
L 397.99 -65.13 
L 398.27 -65.15 
L 398.55 -65.17 
L 398.82 -65.19 
L 399.1 -65.21 
L 399.38 -65.23 
L 399.66 -65.25 
L 399.94 -65.27 
L 400.21 -65.29 
L 400.49 -65.31 
L 400.77 -65.32 
L 401.05 -65.34 
L 401.33 -65.36 
L 401.61 -65.38 
L 401.88 -65.4 
L 402.16 -65.42 
L 402.44 -65.44 
L 402.72 -65.45 
L 403 -65.47 
L 403.27 -65.49 
L 403.55 -65.51 
L 403.83 -65.52 
L 404.11 -65.54 
L 404.39 -65.56 
L 404.66 -65.58 
L 404.94 -65.59 
L 405.22 -65.61 
L 405.5 -65.63 
L 405.78 -65.65 
L 406.06 -65.66 
L 406.33 -65.68 
L 406.61 -65.7 
L 406.89 -65.71 
L 407.17 -65.73 
L 407.45 -65.75 
L 407.72 -65.76 
L 408 -65.78 
L 408.28 -65.8 
L 408.56 -65.81 
L 408.84 -65.83 
L 409.12 -65.84 
L 409.39 -65.86 
L 409.67 -65.88 
L 409.95 -65.89 
L 410.23 -65.91 
L 410.51 -65.92 
L 410.78 -65.94 
L 411.06 -65.95 
L 411.34 -65.97 
L 411.62 -65.99 
L 411.9 -66 
L 412.17 -66.02 
L 412.45 -66.03 
L 412.73 -66.05 
L 413.01 -66.06 
L 413.29 -66.08 
L 413.57 -66.09 
L 413.84 -66.11 
L 414.12 -66.12 
L 414.4 -66.14 
L 414.68 -66.15 
L 414.96 -66.17 
L 415.23 -66.18 
L 415.51 -66.2 
L 415.79 -66.21 
L 416.07 -66.22 
L 416.35 -66.24 
L 416.63 -66.25 
L 416.9 -66.27 
L 417.18 -66.28 
L 417.46 -66.3 
L 417.74 -66.31 
L 418.02 -66.32 
L 418.29 -66.34 
L 418.57 -66.35 
L 418.85 -66.37 
L 419.13 -66.38 
L 419.41 -66.39 
L 419.68 -66.41 
L 419.96 -66.42 
L 420.24 -66.43 
L 420.52 -66.45 
L 420.8 -66.46 
L 421.08 -66.47 
L 421.35 -66.49 
L 421.63 -66.5 
L 421.91 -66.51 
L 422.19 -66.53 
L 422.47 -66.54 
L 422.74 -66.55 
L 423.02 -66.57 
L 423.3 -66.58 
L 423.58 -66.59 
L 423.86 -66.6 
L 424.13 -66.62 
L 424.41 -66.63 
L 424.69 -66.64 
L 424.97 -66.66 
L 425.25 -66.67 
L 425.53 -66.68 
L 425.8 -66.69 
L 426.08 -66.71 
L 426.36 -66.72 
L 426.64 -66.73 
L 426.92 -66.74 
L 427.19 -66.75 
L 427.47 -66.77 
L 427.75 -66.78 
L 428.03 -66.79 
L 428.31 -66.8 
L 428.59 -66.82 
L 428.86 -66.83 
L 429.14 -66.84 
L 429.42 -66.85 
L 429.7 -66.86 
L 429.98 -66.88 
L 430.25 -66.89 
L 430.53 -66.9 
L 430.81 -66.91 
L 431.09 -66.92 
L 431.37 -66.93 
L 431.64 -66.95 
L 431.92 -66.96 
L 432.2 -66.97 
L 432.48 -66.98 
L 432.76 -66.99 
L 433.04 -67 
L 433.31 -67.01 
L 433.59 -67.02 
L 433.87 -67.04 
L 434.15 -67.05 
L 434.43 -67.06 
L 434.7 -67.07 
L 434.98 -67.08 
L 435.26 -67.09 
L 435.54 -67.1 
L 435.82 -67.11 
L 436.1 -67.12 
L 436.37 -67.14 
L 436.65 -67.15 
L 436.93 -67.16 
L 437.21 -67.17 
L 437.49 -67.18 
L 437.76 -67.19 
L 438.04 -67.2 
L 438.32 -67.21 
L 438.6 -67.22 
L 438.88 -67.23 
L 439.15 -67.24 
L 439.43 -67.25 
L 439.71 -67.26 
L 439.99 -67.27 
L 440.27 -67.28 
L 440.55 -67.29 
L 440.82 -67.3 
L 441.1 -67.31 
L 441.38 -67.32 
L 441.66 -67.33 
L 441.94 -67.34 
L 442.21 -67.35 
L 442.49 -67.36 
L 442.77 -67.37 
L 443.05 -67.38 
L 443.33 -67.39 
L 443.6 -67.4 
L 443.88 -67.41 
L 444.16 -67.42 
L 444.44 -67.43 
L 444.72 -67.44 
L 445 -67.45 
L 445.27 -67.46 
L 445.55 -67.47 
L 445.83 -67.48 
L 446.11 -67.49 
L 446.39 -67.5 
L 446.66 -67.51 
L 446.94 -67.52 
L 447.22 -67.53 
L 447.5 -67.54 
L 447.78 -67.55 
L 448.06 -67.56 
L 448.33 -67.57 
L 448.61 -67.58 
L 448.89 -67.59 
L 449.17 -67.6 
L 449.45 -67.61 
L 449.72 -67.61 
L 450 -67.62 
L 450.28 -67.63 
L 450.56 -67.64 
L 450.84 -67.65 
L 451.11 -67.66 
L 451.39 -67.67 
L 451.67 -67.68 
L 451.95 -67.69 
L 452.23 -67.7 
L 452.51 -67.71 
L 452.78 -67.71 
L 453.06 -67.72 
L 453.34 -67.73 
L 453.62 -67.74 
L 453.9 -67.75 
L 454.17 -67.76 
L 454.45 -67.77 
L 454.73 -67.78 
L 455.01 -67.78 
L 455.29 -67.79 
L 455.57 -67.8 
L 455.84 -67.81 
L 456.12 -67.82 
L 456.4 -67.83 
L 456.68 -67.84 
L 456.96 -67.84 
L 457.23 -67.85 
L 457.51 -67.86 
L 457.79 -67.87 
L 458.07 -67.88 
L 458.35 -67.89 
L 458.62 -67.89 
L 458.9 -67.9 
L 459.18 -67.91 
L 459.46 -67.92 
L 459.74 -67.93 
L 460.02 -67.94 
L 460.29 -67.94 
L 460.57 -67.95 
L 460.85 -67.96 
L 461.13 -67.97 
L 461.41 -67.98 
L 461.68 -67.98 
L 461.96 -67.99 
L 462.24 -68 
L 462.52 -68.01 
L 462.8 -68.02 
L 463.07 -68.02 
L 463.35 -68.03 
L 463.63 -68.04 
L 463.91 -68.05 
L 464.19 -68.05 
L 464.47 -68.06 
L 464.74 -68.07 
L 465.02 -68.08 
L 465.3 -68.09 
L 465.58 -68.09 
L 465.86 -68.1 
L 466.13 -68.11 
L 466.41 -68.12 
L 466.69 -68.12 
L 466.97 -68.13 
L 467.25 -68.14 
L 467.53 -68.15 
L 467.8 -68.15 
L 468.08 -68.16 
L 468.36 -68.17 
L 468.64 -68.18 
L 468.92 -68.18 
L 469.19 -68.19 
L 469.47 -68.2 
L 469.75 -68.21 
L 470.03 -68.21 
L 470.31 -68.22 
L 470.58 -68.23 
L 470.86 -68.23 
L 471.14 -68.24 
L 471.42 -68.25 
L 471.7 -68.26 
L 471.98 -68.26 
L 472.25 -68.27 
L 472.53 -68.28 
L 472.81 -68.29 
L 473.09 -68.29 
L 473.37 -68.3 
L 473.64 -68.31 
L 473.92 -68.31 
L 474.2 -68.32 
L 474.48 -68.33 
L 474.76 -68.33 
L 475.04 -68.34 
L 475.31 -68.35 
L 475.59 -68.35 
L 475.87 -68.36 
L 476.15 -68.37 
L 476.43 -68.38 
L 476.7 -68.38 
L 476.98 -68.39 
L 477.26 -68.4 
L 477.54 -68.4 
L 477.82 -68.41 
L 478.09 -68.42 
L 478.37 -68.42 
L 478.65 -68.43 
L 478.93 -68.44 
L 479.21 -68.44 
L 479.49 -68.45 
L 479.76 -68.46 
L 480.04 -68.46 
L 480.32 -68.47 
L 480.6 -68.47 
L 480.88 -68.48 
L 481.15 -68.49 
L 481.43 -68.49 
L 481.71 -68.5 
L 481.99 -68.51 
L 482.27 -68.51 
L 482.54 -68.52 
L 482.82 -68.53 
L 483.1 -68.53 
L 483.38 -68.54 
L 483.66 -68.55 
L 483.94 -68.55 
L 484.21 -68.56 
L 484.49 -68.56 
L 484.77 -68.57 
L 485.05 -68.58 
L 485.33 -68.58 
L 485.6 -68.59 
L 485.88 -68.59 
L 486.16 -68.6 
L 486.44 -68.61 
L 486.72 -68.61 
L 487 -68.62 
L 487.27 -68.63 
L 487.55 -68.63 
L 487.83 -68.64 
L 488.11 -68.64 
L 488.39 -68.65 
L 488.66 -68.66 
L 488.94 -68.66 
L 489.22 -68.67 
L 489.5 -68.67 
L 489.78 -68.68 
L 490.05 -68.69 
L 490.33 -68.69 
L 490.61 -68.7 
L 490.89 -68.7 
L 491.17 -68.71 
L 491.45 -68.71 
L 491.72 -68.72 
L 492 -68.73 
L 492.28 -68.73 
L 492.56 -68.74 
L 492.84 -68.74 
L 493.11 -68.75 
L 493.39 -68.75 
L 493.67 -68.76 
L 493.95 -68.77 
L 494.23 -68.77 
L 494.5 -68.78 
L 494.78 -68.78 
L 495.06 -68.79 
L 495.34 -68.79 
L 495.62 -68.8 
L 495.9 -68.8 
L 496.17 -68.81 
L 496.45 -68.82 
L 496.73 -68.82 
L 497.01 -68.83 
L 497.29 -68.83 
L 497.56 -68.84 
L 497.84 -68.84 
L 498.12 -68.85 
L 498.4 -68.85 
L 498.68 -68.86 
L 498.96 -68.86 
L 499.23 -68.87 
L 499.51 -68.87 
L 499.79 -68.88 
L 500.07 -68.89 
L 500.35 -68.89 
L 500.62 -68.9 
L 500.9 -68.9 
L 501.18 -68.91 
L 501.46 -68.91 
L 501.74 -68.92 
L 502.01 -68.92 
L 502.29 -68.93 
L 502.57 -68.93 
L 502.85 -68.94 
L 503.13 -68.94 
L 503.41 -68.95 
L 503.68 -68.95 
L 503.96 -68.96 
L 504.24 -68.96 
L 504.52 -68.97 
L 504.8 -68.97 
L 505.07 -68.98 
L 505.35 -68.98 
L 505.63 -68.99 
L 505.91 -68.99 
L 506.19 -69 
L 506.47 -69 
L 506.74 -69.01 
L 507.02 -69.01 
L 507.3 -69.02 
L 507.58 -69.02 
L 507.86 -69.03 
L 508.13 -69.03 
L 508.41 -69.04 
L 508.69 -69.04 
L 508.97 -69.05 
L 509.25 -69.05 
L 509.52 -69.06 
L 509.8 -69.06 
L 510.08 -69.07 
L 510.36 -69.07 
L 510.64 -69.08 
L 510.92 -69.08 
L 511.19 -69.08 
L 511.47 -69.09 
L 511.75 -69.09 
L 512.03 -69.1 
L 512.31 -69.1 
L 512.58 -69.11 
L 512.86 -69.11 
L 513.14 -69.12 
L 513.42 -69.12 
L 513.7 -69.13 
L 513.97 -69.13 
L 514.25 -69.14 
L 514.53 -69.14 
L 514.81 -69.14 
L 515.09 -69.15 
L 515.37 -69.15 
L 515.64 -69.16 
L 515.92 -69.16 
L 516.2 -69.17 
L 516.48 -69.17 
L 516.76 -69.18 
L 517.03 -69.18 
L 517.31 -69.18 
L 517.59 -69.19 
L 517.87 -69.19 
L 518.15 -69.2 
L 518.43 -69.2 
L 518.7 -69.21 
L 518.98 -69.21 
L 519.26 -69.21 
L 519.54 -69.22 
L 519.82 -69.22 
L 520.09 -69.23 
L 520.37 -69.23 
L 520.65 -69.24 
L 520.93 -69.24 
L 521.21 -69.24 
L 521.48 -69.25 
L 521.76 -69.25 
L 522.04 -69.26 
L 522.32 -69.26 
L 522.6 -69.27 
L 522.88 -69.27 
L 523.15 -69.27 
L 523.43 -69.28 
L 523.71 -69.28 
L 523.99 -69.29 
L 524.27 -69.29 
L 524.54 -69.29 
L 524.82 -69.3 
L 525.1 -69.3 
L 525.38 -69.31 
L 525.66 -69.31 
L 525.94 -69.31 
L 526.21 -69.32 
L 526.49 -69.32 
L 526.77 -69.33 
L 527.05 -69.33 
L 527.33 -69.33 
L 527.6 -69.34 
L 527.88 -69.34 
L 528.16 -69.35 
L 528.44 -69.35 
L 528.72 -69.35 
L 528.99 -69.36 
L 529.27 -69.36 
L 529.55 -69.37 
L 529.83 -69.37 
L 530.11 -69.37 
L 530.39 -69.38 
L 530.66 -69.38 
L 530.94 -69.38 
L 531.22 -69.39 
L 531.5 -69.39 
L 531.78 -69.4 
L 532.05 -69.4 
L 532.33 -69.4 
L 532.61 -69.41 
L 532.89 -69.41 
L 533.17 -69.41 
L 533.44 -69.42 
L 533.72 -69.42 
L 534 -69.43 
L 534.28 -69.43 
L 534.56 -69.43 
L 534.84 -69.44 
L 535.11 -69.44 
L 535.39 -69.44 
L 535.67 -69.45 
L 535.95 -69.45 
L 536.23 -69.45 
L 536.5 -69.46 
L 536.78 -69.46 
L 537.06 -69.46 
L 537.34 -69.47 
L 537.62 -69.47 
L 537.9 -69.48 
L 538.17 -69.48 
L 538.45 -69.48 
L 538.73 -69.49 
L 539.01 -69.49 
L 539.29 -69.49 
L 539.56 -69.5 
L 539.84 -69.5 
L 540.12 -69.5 
L 540.4 -69.51 
L 540.68 -69.51 
L 540.95 -69.51 
L 541.23 -69.52 
L 541.51 -69.52 
L 541.79 -69.52 
L 542.07 -69.53 
L 542.35 -69.53 
L 542.62 -69.53 
L 542.9 -69.54 
L 543.18 -69.54 
L 543.46 -69.54 
L 543.74 -69.55 
L 544.01 -69.55 
L 544.29 -69.55 
L 544.57 -69.56 
L 544.85 -69.56 
L 545.13 -69.56 
L 545.41 -69.57 
L 545.68 -69.57 
L 545.96 -69.57 
L 546.24 -69.58 
L 546.52 -69.58 
L 546.8 -69.58 
L 547.07 -69.59 
L 547.35 -69.59 
L 547.63 -69.59 
L 547.91 -69.59 
L 548.19 -69.6 
L 548.46 -69.6 
L 548.74 -69.6 
L 549.02 -69.61 
L 549.3 -69.61 
L 549.58 -69.61 
L 549.86 -69.62 
L 550.13 -69.62 
L 550.41 -69.62 
L 550.69 -69.63 
L 550.97 -69.63 
L 551.25 -69.63 
L 551.52 -69.63 
L 551.8 -69.64 
L 552.08 -69.64 
L 552.36 -69.64 
L 552.64 -69.65 
L 552.91 -69.65 
L 553.19 -69.65 
L 553.47 -69.66 
L 553.75 -69.66 
L 554.03 -69.66 
L 554.31 -69.66 
L 554.58 -69.67 
L 554.86 -69.67 
L 555.14 -69.67 
L 555.42 -69.68 
L 555.7 -69.68 
L 555.97 -69.68 
L 556.25 -69.68 
L 556.53 -69.69 
L 556.81 -69.69 
L 557.09 -69.69 
L 557.37 -69.7 
L 557.64 -69.7 
L 557.92 -69.7 
L 558.2 -69.7 
L 558.48 -69.71 
L 558.76 -69.71 
L 559.03 -69.71 
L 559.31 -69.71 
L 559.59 -69.72 
L 559.87 -69.72 
L 560.15 -69.72 
L 560.42 -69.73 
L 560.7 -69.73 
L 560.98 -69.73 
L 561.26 -69.73 
L 561.54 -69.74 
L 561.82 -69.74 
L 562.09 -69.74 
L 562.37 -69.74 
L 562.65 -69.75 
L 562.93 -69.75 
L 563.21 -69.75 
L 563.48 -69.75 
L 563.76 -69.76 
L 564.04 -69.76 
L 564.32 -69.76 
L 564.6 -69.76 
L 564.87 -69.77 
L 565.15 -69.77 
L 565.43 -69.77 
L 565.71 -69.78 
L 565.99 -69.78 
L 566.27 -69.78 
L 566.54 -69.78 
L 566.82 -69.79 
L 567.1 -69.79 
L 567.38 -69.79 
L 567.66 -69.79 
L 567.93 -69.8 
L 568.21 -69.8 
L 568.49 -69.8 
L 568.77 -69.8 
L 569.05 -69.8 
L 569.33 -69.81 
L 569.6 -69.81 
L 569.88 -69.81 
L 570.16 -69.81 
L 570.44 -69.82 
L 570.72 -69.82 
L 570.99 -69.82 
L 571.27 -69.82 
L 571.55 -69.83 
L 571.83 -69.83 
L 572.11 -69.83 
L 572.38 -69.83 
L 572.66 -69.84 
L 572.94 -69.84 
L 573.22 -69.84 
L 573.5 -69.84 
L 573.78 -69.84 
L 574.05 -69.85 
L 574.33 -69.85 
L 574.61 -69.85 
L 574.89 -69.85 
L 575.17 -69.86 
L 575.44 -69.86 
L 575.72 -69.86 
L 576 -69.86 
L 576.28 -69.86 
L 576.56 -69.87 
L 576.84 -69.87 
L 577.11 -69.87 
L 577.39 -69.87 
L 577.67 -69.88 
L 577.95 -69.88 
L 578.23 -69.88 
L 578.5 -69.88 
L 578.78 -69.88 
L 579.06 -69.89 
L 579.34 -69.89 
L 579.62 -69.89 
L 579.89 -69.89 
L 580.17 -69.89 
L 580.45 -69.9 
L 580.73 -69.9 
L 581.01 -69.9 
L 581.29 -69.9 
L 581.56 -69.91 
L 581.84 -69.91 
L 581.84 -142.24 
L 581.84 -142.24 
L 581.56 -142.18 
L 581.29 -142.11 
L 581.01 -142.05 
L 580.73 -141.98 
L 580.45 -141.92 
L 580.17 -141.85 
L 579.89 -141.79 
L 579.62 -141.72 
L 579.34 -141.66 
L 579.06 -141.59 
L 578.78 -141.53 
L 578.5 -141.46 
L 578.23 -141.4 
L 577.95 -141.33 
L 577.67 -141.27 
L 577.39 -141.2 
L 577.11 -141.14 
L 576.84 -141.07 
L 576.56 -141.01 
L 576.28 -140.94 
L 576 -140.88 
L 575.72 -140.82 
L 575.44 -140.75 
L 575.17 -140.69 
L 574.89 -140.62 
L 574.61 -140.56 
L 574.33 -140.49 
L 574.05 -140.43 
L 573.78 -140.37 
L 573.5 -140.3 
L 573.22 -140.24 
L 572.94 -140.17 
L 572.66 -140.11 
L 572.38 -140.05 
L 572.11 -139.98 
L 571.83 -139.92 
L 571.55 -139.86 
L 571.27 -139.79 
L 570.99 -139.73 
L 570.72 -139.67 
L 570.44 -139.6 
L 570.16 -139.54 
L 569.88 -139.48 
L 569.6 -139.41 
L 569.33 -139.35 
L 569.05 -139.29 
L 568.77 -139.23 
L 568.49 -139.16 
L 568.21 -139.1 
L 567.93 -139.04 
L 567.66 -138.97 
L 567.38 -138.91 
L 567.1 -138.85 
L 566.82 -138.79 
L 566.54 -138.73 
L 566.27 -138.66 
L 565.99 -138.6 
L 565.71 -138.54 
L 565.43 -138.48 
L 565.15 -138.41 
L 564.87 -138.35 
L 564.6 -138.29 
L 564.32 -138.23 
L 564.04 -138.17 
L 563.76 -138.11 
L 563.48 -138.05 
L 563.21 -137.98 
L 562.93 -137.92 
L 562.65 -137.86 
L 562.37 -137.8 
L 562.09 -137.74 
L 561.82 -137.68 
L 561.54 -137.62 
L 561.26 -137.56 
L 560.98 -137.5 
L 560.7 -137.44 
L 560.42 -137.37 
L 560.15 -137.31 
L 559.87 -137.25 
L 559.59 -137.19 
L 559.31 -137.13 
L 559.03 -137.07 
L 558.76 -137.01 
L 558.48 -136.95 
L 558.2 -136.89 
L 557.92 -136.83 
L 557.64 -136.77 
L 557.37 -136.71 
L 557.09 -136.66 
L 556.81 -136.6 
L 556.53 -136.54 
L 556.25 -136.48 
L 555.97 -136.42 
L 555.7 -136.36 
L 555.42 -136.3 
L 555.14 -136.24 
L 554.86 -136.18 
L 554.58 -136.12 
L 554.31 -136.07 
L 554.03 -136.01 
L 553.75 -135.95 
L 553.47 -135.89 
L 553.19 -135.83 
L 552.91 -135.77 
L 552.64 -135.72 
L 552.36 -135.66 
L 552.08 -135.6 
L 551.8 -135.54 
L 551.52 -135.49 
L 551.25 -135.43 
L 550.97 -135.37 
L 550.69 -135.31 
L 550.41 -135.26 
L 550.13 -135.2 
L 549.86 -135.14 
L 549.58 -135.09 
L 549.3 -135.03 
L 549.02 -134.97 
L 548.74 -134.92 
L 548.46 -134.86 
L 548.19 -134.8 
L 547.91 -134.75 
L 547.63 -134.69 
L 547.35 -134.64 
L 547.07 -134.58 
L 546.8 -134.53 
L 546.52 -134.47 
L 546.24 -134.42 
L 545.96 -134.36 
L 545.68 -134.31 
L 545.41 -134.25 
L 545.13 -134.2 
L 544.85 -134.14 
L 544.57 -134.09 
L 544.29 -134.03 
L 544.01 -133.98 
L 543.74 -133.92 
L 543.46 -133.87 
L 543.18 -133.82 
L 542.9 -133.76 
L 542.62 -133.71 
L 542.35 -133.66 
L 542.07 -133.6 
L 541.79 -133.55 
L 541.51 -133.5 
L 541.23 -133.44 
L 540.95 -133.39 
L 540.68 -133.34 
L 540.4 -133.28 
L 540.12 -133.23 
L 539.84 -133.18 
L 539.56 -133.13 
L 539.29 -133.07 
L 539.01 -133.02 
L 538.73 -132.97 
L 538.45 -132.92 
L 538.17 -132.87 
L 537.9 -132.81 
L 537.62 -132.76 
L 537.34 -132.71 
L 537.06 -132.66 
L 536.78 -132.61 
L 536.5 -132.56 
L 536.23 -132.5 
L 535.95 -132.45 
L 535.67 -132.4 
L 535.39 -132.35 
L 535.11 -132.3 
L 534.84 -132.25 
L 534.56 -132.2 
L 534.28 -132.15 
L 534 -132.1 
L 533.72 -132.04 
L 533.44 -131.99 
L 533.17 -131.94 
L 532.89 -131.89 
L 532.61 -131.84 
L 532.33 -131.79 
L 532.05 -131.74 
L 531.78 -131.69 
L 531.5 -131.64 
L 531.22 -131.59 
L 530.94 -131.54 
L 530.66 -131.49 
L 530.39 -131.44 
L 530.11 -131.39 
L 529.83 -131.34 
L 529.55 -131.29 
L 529.27 -131.24 
L 528.99 -131.19 
L 528.72 -131.14 
L 528.44 -131.09 
L 528.16 -131.04 
L 527.88 -130.99 
L 527.6 -130.94 
L 527.33 -130.89 
L 527.05 -130.84 
L 526.77 -130.79 
L 526.49 -130.74 
L 526.21 -130.69 
L 525.94 -130.64 
L 525.66 -130.59 
L 525.38 -130.54 
L 525.1 -130.49 
L 524.82 -130.44 
L 524.54 -130.39 
L 524.27 -130.34 
L 523.99 -130.29 
L 523.71 -130.24 
L 523.43 -130.19 
L 523.15 -130.14 
L 522.88 -130.09 
L 522.6 -130.04 
L 522.32 -129.99 
L 522.04 -129.94 
L 521.76 -129.89 
L 521.48 -129.84 
L 521.21 -129.79 
L 520.93 -129.74 
L 520.65 -129.69 
L 520.37 -129.64 
L 520.09 -129.59 
L 519.82 -129.54 
L 519.54 -129.49 
L 519.26 -129.44 
L 518.98 -129.39 
L 518.7 -129.34 
L 518.43 -129.29 
L 518.15 -129.24 
L 517.87 -129.19 
L 517.59 -129.14 
L 517.31 -129.09 
L 517.03 -129.04 
L 516.76 -128.98 
L 516.48 -128.93 
L 516.2 -128.88 
L 515.92 -128.83 
L 515.64 -128.78 
L 515.37 -128.73 
L 515.09 -128.68 
L 514.81 -128.63 
L 514.53 -128.58 
L 514.25 -128.53 
L 513.97 -128.48 
L 513.7 -128.43 
L 513.42 -128.37 
L 513.14 -128.32 
L 512.86 -128.27 
L 512.58 -128.22 
L 512.31 -128.17 
L 512.03 -128.12 
L 511.75 -128.07 
L 511.47 -128.01 
L 511.19 -127.96 
L 510.92 -127.91 
L 510.64 -127.86 
L 510.36 -127.81 
L 510.08 -127.75 
L 509.8 -127.7 
L 509.52 -127.65 
L 509.25 -127.6 
L 508.97 -127.54 
L 508.69 -127.49 
L 508.41 -127.44 
L 508.13 -127.39 
L 507.86 -127.33 
L 507.58 -127.28 
L 507.3 -127.23 
L 507.02 -127.17 
L 506.74 -127.12 
L 506.47 -127.07 
L 506.19 -127.01 
L 505.91 -126.96 
L 505.63 -126.91 
L 505.35 -126.85 
L 505.07 -126.8 
L 504.8 -126.74 
L 504.52 -126.69 
L 504.24 -126.64 
L 503.96 -126.58 
L 503.68 -126.53 
L 503.41 -126.47 
L 503.13 -126.42 
L 502.85 -126.36 
L 502.57 -126.31 
L 502.29 -126.25 
L 502.01 -126.2 
L 501.74 -126.14 
L 501.46 -126.09 
L 501.18 -126.03 
L 500.9 -125.98 
L 500.62 -125.92 
L 500.35 -125.87 
L 500.07 -125.82 
L 499.79 -125.76 
L 499.51 -125.71 
L 499.23 -125.65 
L 498.96 -125.6 
L 498.68 -125.55 
L 498.4 -125.49 
L 498.12 -125.44 
L 497.84 -125.39 
L 497.56 -125.33 
L 497.29 -125.28 
L 497.01 -125.23 
L 496.73 -125.17 
L 496.45 -125.12 
L 496.17 -125.07 
L 495.9 -125.01 
L 495.62 -124.96 
L 495.34 -124.91 
L 495.06 -124.86 
L 494.78 -124.8 
L 494.5 -124.75 
L 494.23 -124.7 
L 493.95 -124.64 
L 493.67 -124.59 
L 493.39 -124.54 
L 493.11 -124.49 
L 492.84 -124.43 
L 492.56 -124.38 
L 492.28 -124.33 
L 492 -124.28 
L 491.72 -124.22 
L 491.45 -124.17 
L 491.17 -124.12 
L 490.89 -124.07 
L 490.61 -124.01 
L 490.33 -123.96 
L 490.05 -123.91 
L 489.78 -123.86 
L 489.5 -123.81 
L 489.22 -123.75 
L 488.94 -123.7 
L 488.66 -123.65 
L 488.39 -123.6 
L 488.11 -123.54 
L 487.83 -123.49 
L 487.55 -123.44 
L 487.27 -123.39 
L 487 -123.33 
L 486.72 -123.28 
L 486.44 -123.23 
L 486.16 -123.18 
L 485.88 -123.13 
L 485.6 -123.07 
L 485.33 -123.02 
L 485.05 -122.97 
L 484.77 -122.92 
L 484.49 -122.86 
L 484.21 -122.81 
L 483.94 -122.76 
L 483.66 -122.71 
L 483.38 -122.65 
L 483.1 -122.6 
L 482.82 -122.55 
L 482.54 -122.5 
L 482.27 -122.44 
L 481.99 -122.39 
L 481.71 -122.34 
L 481.43 -122.29 
L 481.15 -122.23 
L 480.88 -122.18 
L 480.6 -122.13 
L 480.32 -122.07 
L 480.04 -122.02 
L 479.76 -121.97 
L 479.49 -121.92 
L 479.21 -121.86 
L 478.93 -121.81 
L 478.65 -121.76 
L 478.37 -121.7 
L 478.09 -121.65 
L 477.82 -121.6 
L 477.54 -121.54 
L 477.26 -121.49 
L 476.98 -121.43 
L 476.7 -121.38 
L 476.43 -121.33 
L 476.15 -121.27 
L 475.87 -121.22 
L 475.59 -121.16 
L 475.31 -121.11 
L 475.04 -121.06 
L 474.76 -121 
L 474.48 -120.95 
L 474.2 -120.89 
L 473.92 -120.84 
L 473.64 -120.78 
L 473.37 -120.73 
L 473.09 -120.67 
L 472.81 -120.62 
L 472.53 -120.56 
L 472.25 -120.51 
L 471.98 -120.45 
L 471.7 -120.4 
L 471.42 -120.34 
L 471.14 -120.29 
L 470.86 -120.23 
L 470.58 -120.17 
L 470.31 -120.12 
L 470.03 -120.06 
L 469.75 -120.01 
L 469.47 -119.95 
L 469.19 -119.89 
L 468.92 -119.84 
L 468.64 -119.78 
L 468.36 -119.72 
L 468.08 -119.67 
L 467.8 -119.61 
L 467.53 -119.55 
L 467.25 -119.49 
L 466.97 -119.44 
L 466.69 -119.38 
L 466.41 -119.32 
L 466.13 -119.26 
L 465.86 -119.2 
L 465.58 -119.15 
L 465.3 -119.09 
L 465.02 -119.03 
L 464.74 -118.97 
L 464.47 -118.91 
L 464.19 -118.85 
L 463.91 -118.79 
L 463.63 -118.73 
L 463.35 -118.67 
L 463.07 -118.61 
L 462.8 -118.55 
L 462.52 -118.49 
L 462.24 -118.43 
L 461.96 -118.37 
L 461.68 -118.31 
L 461.41 -118.25 
L 461.13 -118.19 
L 460.85 -118.13 
L 460.57 -118.07 
L 460.29 -118.01 
L 460.02 -117.94 
L 459.74 -117.88 
L 459.46 -117.82 
L 459.18 -117.76 
L 458.9 -117.69 
L 458.62 -117.63 
L 458.35 -117.57 
L 458.07 -117.51 
L 457.79 -117.44 
L 457.51 -117.38 
L 457.23 -117.32 
L 456.96 -117.25 
L 456.68 -117.19 
L 456.4 -117.12 
L 456.12 -117.06 
L 455.84 -116.99 
L 455.57 -116.93 
L 455.29 -116.86 
L 455.01 -116.8 
L 454.73 -116.73 
L 454.45 -116.67 
L 454.17 -116.6 
L 453.9 -116.53 
L 453.62 -116.47 
L 453.34 -116.4 
L 453.06 -116.33 
L 452.78 -116.26 
L 452.51 -116.2 
L 452.23 -116.13 
L 451.95 -116.06 
L 451.67 -115.99 
L 451.39 -115.92 
L 451.11 -115.85 
L 450.84 -115.79 
L 450.56 -115.72 
L 450.28 -115.65 
L 450 -115.58 
L 449.72 -115.51 
L 449.45 -115.44 
L 449.17 -115.36 
L 448.89 -115.29 
L 448.61 -115.22 
L 448.33 -115.15 
L 448.06 -115.08 
L 447.78 -115.01 
L 447.5 -114.93 
L 447.22 -114.86 
L 446.94 -114.79 
L 446.66 -114.72 
L 446.39 -114.64 
L 446.11 -114.57 
L 445.83 -114.49 
L 445.55 -114.42 
L 445.27 -114.35 
L 445 -114.27 
L 444.72 -114.2 
L 444.44 -114.12 
L 444.16 -114.04 
L 443.88 -113.97 
L 443.6 -113.89 
L 443.33 -113.82 
L 443.05 -113.74 
L 442.77 -113.66 
L 442.49 -113.58 
L 442.21 -113.51 
L 441.94 -113.43 
L 441.66 -113.35 
L 441.38 -113.27 
L 441.1 -113.19 
L 440.82 -113.11 
L 440.55 -113.03 
L 440.27 -112.95 
L 439.99 -112.86 
L 439.71 -112.78 
L 439.43 -112.7 
L 439.15 -112.61 
L 438.88 -112.53 
L 438.6 -112.44 
L 438.32 -112.36 
L 438.04 -112.27 
L 437.76 -112.19 
L 437.49 -112.1 
L 437.21 -112.01 
L 436.93 -111.93 
L 436.65 -111.84 
L 436.37 -111.75 
L 436.1 -111.66 
L 435.82 -111.57 
L 435.54 -111.48 
L 435.26 -111.39 
L 434.98 -111.3 
L 434.7 -111.21 
L 434.43 -111.11 
L 434.15 -111.02 
L 433.87 -110.93 
L 433.59 -110.83 
L 433.31 -110.74 
L 433.04 -110.64 
L 432.76 -110.55 
L 432.48 -110.45 
L 432.2 -110.36 
L 431.92 -110.26 
L 431.64 -110.16 
L 431.37 -110.07 
L 431.09 -109.97 
L 430.81 -109.87 
L 430.53 -109.77 
L 430.25 -109.67 
L 429.98 -109.57 
L 429.7 -109.47 
L 429.42 -109.37 
L 429.14 -109.27 
L 428.86 -109.17 
L 428.59 -109.06 
L 428.31 -108.96 
L 428.03 -108.86 
L 427.75 -108.75 
L 427.47 -108.65 
L 427.19 -108.55 
L 426.92 -108.44 
L 426.64 -108.34 
L 426.36 -108.23 
L 426.08 -108.12 
L 425.8 -108.02 
L 425.53 -107.91 
L 425.25 -107.8 
L 424.97 -107.69 
L 424.69 -107.58 
L 424.41 -107.48 
L 424.13 -107.37 
L 423.86 -107.26 
L 423.58 -107.15 
L 423.3 -107.03 
L 423.02 -106.92 
L 422.74 -106.81 
L 422.47 -106.7 
L 422.19 -106.59 
L 421.91 -106.47 
L 421.63 -106.36 
L 421.35 -106.25 
L 421.08 -106.13 
L 420.8 -106.02 
L 420.52 -105.9 
L 420.24 -105.79 
L 419.96 -105.67 
L 419.68 -105.56 
L 419.41 -105.44 
L 419.13 -105.32 
L 418.85 -105.21 
L 418.57 -105.09 
L 418.29 -104.97 
L 418.02 -104.85 
L 417.74 -104.73 
L 417.46 -104.61 
L 417.18 -104.49 
L 416.9 -104.37 
L 416.63 -104.25 
L 416.35 -104.13 
L 416.07 -104.01 
L 415.79 -103.89 
L 415.51 -103.77 
L 415.23 -103.64 
L 414.96 -103.52 
L 414.68 -103.4 
L 414.4 -103.27 
L 414.12 -103.15 
L 413.84 -103.02 
L 413.57 -102.9 
L 413.29 -102.77 
L 413.01 -102.65 
L 412.73 -102.52 
L 412.45 -102.4 
L 412.17 -102.27 
L 411.9 -102.14 
L 411.62 -102.01 
L 411.34 -101.89 
L 411.06 -101.76 
L 410.78 -101.63 
L 410.51 -101.5 
L 410.23 -101.37 
L 409.95 -101.24 
L 409.67 -101.11 
L 409.39 -100.98 
L 409.12 -100.85 
L 408.84 -100.72 
L 408.56 -100.59 
L 408.28 -100.46 
L 408 -100.33 
L 407.72 -100.19 
L 407.45 -100.06 
L 407.17 -99.93 
L 406.89 -99.8 
L 406.61 -99.67 
L 406.33 -99.54 
L 406.06 -99.4 
L 405.78 -99.27 
L 405.5 -99.14 
L 405.22 -99.01 
L 404.94 -98.87 
L 404.66 -98.74 
L 404.39 -98.61 
L 404.11 -98.48 
L 403.83 -98.34 
L 403.55 -98.21 
L 403.27 -98.07 
L 403 -97.94 
L 402.72 -97.8 
L 402.44 -97.67 
L 402.16 -97.53 
L 401.88 -97.4 
L 401.61 -97.26 
L 401.33 -97.13 
L 401.05 -96.99 
L 400.77 -96.85 
L 400.49 -96.71 
L 400.21 -96.57 
L 399.94 -96.44 
L 399.66 -96.3 
L 399.38 -96.16 
L 399.1 -96.02 
L 398.82 -95.88 
L 398.55 -95.73 
L 398.27 -95.59 
L 397.99 -95.45 
L 397.71 -95.31 
L 397.43 -95.16 
L 397.16 -95.02 
L 396.88 -94.87 
L 396.6 -94.73 
L 396.32 -94.58 
L 396.04 -94.43 
L 395.76 -94.28 
L 395.49 -94.13 
L 395.21 -93.98 
L 394.93 -93.83 
L 394.65 -93.68 
L 394.37 -93.53 
L 394.1 -93.38 
L 393.82 -93.22 
L 393.54 -93.07 
L 393.26 -92.91 
L 392.98 -92.76 
L 392.7 -92.6 
L 392.43 -92.44 
L 392.15 -92.28 
L 391.87 -92.12 
L 391.59 -91.96 
L 391.31 -91.8 
L 391.04 -91.64 
L 390.76 -91.47 
L 390.48 -91.31 
L 390.2 -91.14 
L 389.92 -90.97 
L 389.65 -90.81 
L 389.37 -90.64 
L 389.09 -90.47 
L 388.81 -90.29 
L 388.53 -90.12 
L 388.25 -89.95 
L 387.98 -89.77 
L 387.7 -89.6 
L 387.42 -89.42 
L 387.14 -89.24 
L 386.86 -89.06 
L 386.59 -88.88 
L 386.31 -88.7 
L 386.03 -88.51 
L 385.75 -88.33 
L 385.47 -88.14 
L 385.2 -87.95 
L 384.92 -87.76 
L 384.64 -87.57 
L 384.36 -87.38 
L 384.08 -87.19 
L 383.8 -86.99 
L 383.53 -86.79 
L 383.25 -86.6 
L 382.97 -86.4 
L 382.69 -86.2 
L 382.41 -85.99 
L 382.14 -85.79 
L 381.86 -85.58 
L 381.58 -85.38 
L 381.3 -85.17 
L 381.02 -84.96 
L 380.74 -84.75 
L 380.47 -84.53 
L 380.19 -84.32 
L 379.91 -84.1 
L 379.63 -83.88 
L 379.35 -83.66 
L 379.08 -83.44 
L 378.8 -83.22 
L 378.52 -82.99 
L 378.24 -82.76 
L 377.96 -82.54 
L 377.69 -82.31 
L 377.41 -82.07 
L 377.13 -81.84 
L 376.85 -81.6 
L 376.57 -81.36 
L 376.29 -81.12 
L 376.02 -80.88 
L 375.74 -80.64 
L 375.46 -80.39 
L 375.18 -80.15 
L 374.9 -79.9 
L 374.63 -79.64 
L 374.35 -79.39 
L 374.07 -79.12 
L 373.79 -78.85 
L 373.51 -78.57 
L 373.23 -78.28 
L 372.96 -77.98 
L 372.68 -77.68 
L 372.4 -77.37 
L 372.12 -77.05 
L 371.84 -76.73 
L 371.57 -76.4 
L 371.29 -76.06 
L 371.01 -75.72 
L 370.73 -75.37 
L 370.45 -75.02 
L 370.18 -74.66 
L 369.9 -74.29 
L 369.62 -73.92 
L 369.34 -73.55 
L 369.06 -73.17 
L 368.78 -72.78 
L 368.51 -72.39 
L 368.23 -71.99 
L 367.95 -71.59 
L 367.67 -71.19 
L 367.39 -70.78 
L 367.12 -70.37 
L 366.84 -69.95 
L 366.56 -69.53 
L 366.28 -69.11 
L 366 -68.68 
L 365.73 -68.25 
L 365.45 -67.82 
L 365.17 -67.38 
L 364.89 -66.94 
L 364.61 -66.5 
L 364.33 -66.05 
L 364.06 -65.6 
L 363.78 -65.16 
L 363.5 -64.7 
L 363.22 -64.25 
L 362.94 -63.8 
L 362.67 -63.34 
L 362.39 -62.88 
L 362.11 -62.42 
L 361.83 -61.96 
L 361.55 -61.5 
L 361.27 -61.04 
L 361 -60.57 
L 360.72 -60.11 
L 360.44 -59.64 
L 360.16 -59.18 
L 359.88 -58.71 
L 359.61 -58.25 
z
" style="stroke: #0000ff; stroke-opacity: 0.2"/>
</defs>
<g clip-path="url(#pd65109ea71)">
<use href="#m536d373db9" x="0" y="432" style="fill: #0000ff; fill-opacity: 0.2; stroke: #0000ff; stroke-opacity: 0.2"/>
</g>
</g>
<g id="FillBetweenPolyCollection_5">
<defs>
<path id="m22aadc76da" d="M 359.61 -58.25 
L 359.61 -58.25 
L 359.88 -58.81 
L 360.16 -59.03 
L 360.44 -59.2 
L 360.72 -59.34 
L 361 -59.47 
L 361.27 -59.58 
L 361.55 -59.68 
L 361.83 -59.77 
L 362.11 -59.86 
L 362.39 -59.94 
L 362.67 -60.01 
L 362.94 -60.08 
L 363.22 -60.15 
L 363.5 -60.22 
L 363.78 -60.28 
L 364.06 -60.34 
L 364.33 -60.4 
L 364.61 -60.46 
L 364.89 -60.51 
L 365.17 -60.56 
L 365.45 -60.62 
L 365.73 -60.67 
L 366 -60.71 
L 366.28 -60.76 
L 366.56 -60.81 
L 366.84 -60.85 
L 367.12 -60.89 
L 367.39 -60.94 
L 367.67 -60.98 
L 367.95 -61.02 
L 368.23 -61.06 
L 368.51 -61.1 
L 368.78 -61.14 
L 369.06 -61.17 
L 369.34 -61.21 
L 369.62 -61.25 
L 369.9 -61.28 
L 370.18 -61.32 
L 370.45 -61.35 
L 370.73 -61.38 
L 371.01 -61.42 
L 371.29 -61.45 
L 371.57 -61.48 
L 371.84 -61.51 
L 372.12 -61.54 
L 372.4 -61.57 
L 372.68 -61.6 
L 372.96 -61.63 
L 373.23 -61.66 
L 373.51 -61.69 
L 373.79 -61.72 
L 374.07 -61.75 
L 374.35 -61.77 
L 374.63 -61.8 
L 374.9 -61.83 
L 375.18 -61.85 
L 375.46 -61.88 
L 375.74 -61.91 
L 376.02 -61.93 
L 376.29 -61.96 
L 376.57 -61.98 
L 376.85 -62.01 
L 377.13 -62.03 
L 377.41 -62.05 
L 377.69 -62.08 
L 377.96 -62.1 
L 378.24 -62.12 
L 378.52 -62.15 
L 378.8 -62.17 
L 379.08 -62.19 
L 379.35 -62.21 
L 379.63 -62.24 
L 379.91 -62.26 
L 380.19 -62.28 
L 380.47 -62.3 
L 380.74 -62.32 
L 381.02 -62.34 
L 381.3 -62.36 
L 381.58 -62.38 
L 381.86 -62.4 
L 382.14 -62.42 
L 382.41 -62.44 
L 382.69 -62.46 
L 382.97 -62.48 
L 383.25 -62.5 
L 383.53 -62.52 
L 383.8 -62.54 
L 384.08 -62.56 
L 384.36 -62.57 
L 384.64 -62.59 
L 384.92 -62.61 
L 385.2 -62.63 
L 385.47 -62.65 
L 385.75 -62.66 
L 386.03 -62.68 
L 386.31 -62.7 
L 386.59 -62.72 
L 386.86 -62.73 
L 387.14 -62.75 
L 387.42 -62.77 
L 387.7 -62.78 
L 387.98 -62.8 
L 388.25 -62.82 
L 388.53 -62.83 
L 388.81 -62.85 
L 389.09 -62.86 
L 389.37 -62.88 
L 389.65 -62.9 
L 389.92 -62.91 
L 390.2 -62.93 
L 390.48 -62.94 
L 390.76 -62.96 
L 391.04 -62.97 
L 391.31 -62.99 
L 391.59 -63 
L 391.87 -63.02 
L 392.15 -63.03 
L 392.43 -63.04 
L 392.7 -63.06 
L 392.98 -63.07 
L 393.26 -63.09 
L 393.54 -63.1 
L 393.82 -63.12 
L 394.1 -63.13 
L 394.37 -63.14 
L 394.65 -63.16 
L 394.93 -63.17 
L 395.21 -63.18 
L 395.49 -63.2 
L 395.76 -63.21 
L 396.04 -63.22 
L 396.32 -63.24 
L 396.6 -63.25 
L 396.88 -63.26 
L 397.16 -63.27 
L 397.43 -63.29 
L 397.71 -63.3 
L 397.99 -63.31 
L 398.27 -63.32 
L 398.55 -63.34 
L 398.82 -63.35 
L 399.1 -63.36 
L 399.38 -63.37 
L 399.66 -63.38 
L 399.94 -63.4 
L 400.21 -63.41 
L 400.49 -63.42 
L 400.77 -63.43 
L 401.05 -63.44 
L 401.33 -63.45 
L 401.61 -63.47 
L 401.88 -63.48 
L 402.16 -63.49 
L 402.44 -63.5 
L 402.72 -63.51 
L 403 -63.52 
L 403.27 -63.53 
L 403.55 -63.54 
L 403.83 -63.55 
L 404.11 -63.56 
L 404.39 -63.57 
L 404.66 -63.59 
L 404.94 -63.6 
L 405.22 -63.61 
L 405.5 -63.62 
L 405.78 -63.63 
L 406.06 -63.64 
L 406.33 -63.65 
L 406.61 -63.66 
L 406.89 -63.67 
L 407.17 -63.68 
L 407.45 -63.69 
L 407.72 -63.7 
L 408 -63.71 
L 408.28 -63.72 
L 408.56 -63.73 
L 408.84 -63.74 
L 409.12 -63.75 
L 409.39 -63.75 
L 409.67 -63.76 
L 409.95 -63.77 
L 410.23 -63.78 
L 410.51 -63.79 
L 410.78 -63.8 
L 411.06 -63.81 
L 411.34 -63.82 
L 411.62 -63.83 
L 411.9 -63.84 
L 412.17 -63.85 
L 412.45 -63.85 
L 412.73 -63.86 
L 413.01 -63.87 
L 413.29 -63.88 
L 413.57 -63.89 
L 413.84 -63.9 
L 414.12 -63.91 
L 414.4 -63.92 
L 414.68 -63.92 
L 414.96 -63.93 
L 415.23 -63.94 
L 415.51 -63.95 
L 415.79 -63.96 
L 416.07 -63.96 
L 416.35 -63.97 
L 416.63 -63.98 
L 416.9 -63.99 
L 417.18 -64 
L 417.46 -64 
L 417.74 -64.01 
L 418.02 -64.02 
L 418.29 -64.03 
L 418.57 -64.04 
L 418.85 -64.04 
L 419.13 -64.05 
L 419.41 -64.06 
L 419.68 -64.07 
L 419.96 -64.07 
L 420.24 -64.08 
L 420.52 -64.09 
L 420.8 -64.1 
L 421.08 -64.1 
L 421.35 -64.11 
L 421.63 -64.12 
L 421.91 -64.12 
L 422.19 -64.13 
L 422.47 -64.14 
L 422.74 -64.15 
L 423.02 -64.15 
L 423.3 -64.16 
L 423.58 -64.17 
L 423.86 -64.17 
L 424.13 -64.18 
L 424.41 -64.19 
L 424.69 -64.19 
L 424.97 -64.2 
L 425.25 -64.21 
L 425.53 -64.21 
L 425.8 -64.22 
L 426.08 -64.23 
L 426.36 -64.23 
L 426.64 -64.24 
L 426.92 -64.25 
L 427.19 -64.25 
L 427.47 -64.26 
L 427.75 -64.27 
L 428.03 -64.27 
L 428.31 -64.28 
L 428.59 -64.28 
L 428.86 -64.29 
L 429.14 -64.3 
L 429.42 -64.3 
L 429.7 -64.31 
L 429.98 -64.32 
L 430.25 -64.32 
L 430.53 -64.33 
L 430.81 -64.33 
L 431.09 -64.34 
L 431.37 -64.35 
L 431.64 -64.35 
L 431.92 -64.36 
L 432.2 -64.36 
L 432.48 -64.37 
L 432.76 -64.37 
L 433.04 -64.38 
L 433.31 -64.39 
L 433.59 -64.39 
L 433.87 -64.4 
L 434.15 -64.4 
L 434.43 -64.41 
L 434.7 -64.41 
L 434.98 -64.42 
L 435.26 -64.42 
L 435.54 -64.43 
L 435.82 -64.43 
L 436.1 -64.44 
L 436.37 -64.45 
L 436.65 -64.45 
L 436.93 -64.46 
L 437.21 -64.46 
L 437.49 -64.47 
L 437.76 -64.47 
L 438.04 -64.48 
L 438.32 -64.48 
L 438.6 -64.49 
L 438.88 -64.49 
L 439.15 -64.5 
L 439.43 -64.5 
L 439.71 -64.51 
L 439.99 -64.51 
L 440.27 -64.52 
L 440.55 -64.52 
L 440.82 -64.53 
L 441.1 -64.53 
L 441.38 -64.54 
L 441.66 -64.54 
L 441.94 -64.54 
L 442.21 -64.55 
L 442.49 -64.55 
L 442.77 -64.56 
L 443.05 -64.56 
L 443.33 -64.57 
L 443.6 -64.57 
L 443.88 -64.58 
L 444.16 -64.58 
L 444.44 -64.59 
L 444.72 -64.59 
L 445 -64.59 
L 445.27 -64.6 
L 445.55 -64.6 
L 445.83 -64.61 
L 446.11 -64.61 
L 446.39 -64.62 
L 446.66 -64.62 
L 446.94 -64.62 
L 447.22 -64.63 
L 447.5 -64.63 
L 447.78 -64.64 
L 448.06 -64.64 
L 448.33 -64.65 
L 448.61 -64.65 
L 448.89 -64.65 
L 449.17 -64.66 
L 449.45 -64.66 
L 449.72 -64.67 
L 450 -64.67 
L 450.28 -64.67 
L 450.56 -64.68 
L 450.84 -64.68 
L 451.11 -64.68 
L 451.39 -64.69 
L 451.67 -64.69 
L 451.95 -64.7 
L 452.23 -64.7 
L 452.51 -64.7 
L 452.78 -64.71 
L 453.06 -64.71 
L 453.34 -64.71 
L 453.62 -64.72 
L 453.9 -64.72 
L 454.17 -64.73 
L 454.45 -64.73 
L 454.73 -64.73 
L 455.01 -64.74 
L 455.29 -64.74 
L 455.57 -64.74 
L 455.84 -64.75 
L 456.12 -64.75 
L 456.4 -64.75 
L 456.68 -64.76 
L 456.96 -64.76 
L 457.23 -64.76 
L 457.51 -64.77 
L 457.79 -64.77 
L 458.07 -64.77 
L 458.35 -64.78 
L 458.62 -64.78 
L 458.9 -64.78 
L 459.18 -64.79 
L 459.46 -64.79 
L 459.74 -64.79 
L 460.02 -64.8 
L 460.29 -64.8 
L 460.57 -64.8 
L 460.85 -64.8 
L 461.13 -64.81 
L 461.41 -64.81 
L 461.68 -64.81 
L 461.96 -64.82 
L 462.24 -64.82 
L 462.52 -64.82 
L 462.8 -64.83 
L 463.07 -64.83 
L 463.35 -64.83 
L 463.63 -64.83 
L 463.91 -64.84 
L 464.19 -64.84 
L 464.47 -64.84 
L 464.74 -64.85 
L 465.02 -64.85 
L 465.3 -64.85 
L 465.58 -64.85 
L 465.86 -64.86 
L 466.13 -64.86 
L 466.41 -64.86 
L 466.69 -64.86 
L 466.97 -64.87 
L 467.25 -64.87 
L 467.53 -64.87 
L 467.8 -64.87 
L 468.08 -64.88 
L 468.36 -64.88 
L 468.64 -64.88 
L 468.92 -64.88 
L 469.19 -64.89 
L 469.47 -64.89 
L 469.75 -64.89 
L 470.03 -64.89 
L 470.31 -64.9 
L 470.58 -64.9 
L 470.86 -64.9 
L 471.14 -64.9 
L 471.42 -64.91 
L 471.7 -64.91 
L 471.98 -64.91 
L 472.25 -64.91 
L 472.53 -64.92 
L 472.81 -64.92 
L 473.09 -64.92 
L 473.37 -64.92 
L 473.64 -64.92 
L 473.92 -64.93 
L 474.2 -64.93 
L 474.48 -64.93 
L 474.76 -64.93 
L 475.04 -64.93 
L 475.31 -64.94 
L 475.59 -64.94 
L 475.87 -64.94 
L 476.15 -64.94 
L 476.43 -64.95 
L 476.7 -64.95 
L 476.98 -64.95 
L 477.26 -64.95 
L 477.54 -64.95 
L 477.82 -64.96 
L 478.09 -64.96 
L 478.37 -64.96 
L 478.65 -64.96 
L 478.93 -64.96 
L 479.21 -64.96 
L 479.49 -64.97 
L 479.76 -64.97 
L 480.04 -64.97 
L 480.32 -64.97 
L 480.6 -64.97 
L 480.88 -64.98 
L 481.15 -64.98 
L 481.43 -64.98 
L 481.71 -64.98 
L 481.99 -64.98 
L 482.27 -64.98 
L 482.54 -64.99 
L 482.82 -64.99 
L 483.1 -64.99 
L 483.38 -64.99 
L 483.66 -64.99 
L 483.94 -64.99 
L 484.21 -65 
L 484.49 -65 
L 484.77 -65 
L 485.05 -65 
L 485.33 -65 
L 485.6 -65 
L 485.88 -65 
L 486.16 -65.01 
L 486.44 -65.01 
L 486.72 -65.01 
L 487 -65.01 
L 487.27 -65.01 
L 487.55 -65.01 
L 487.83 -65.01 
L 488.11 -65.02 
L 488.39 -65.02 
L 488.66 -65.02 
L 488.94 -65.02 
L 489.22 -65.02 
L 489.5 -65.02 
L 489.78 -65.02 
L 490.05 -65.03 
L 490.33 -65.03 
L 490.61 -65.03 
L 490.89 -65.03 
L 491.17 -65.03 
L 491.45 -65.03 
L 491.72 -65.03 
L 492 -65.03 
L 492.28 -65.03 
L 492.56 -65.04 
L 492.84 -65.04 
L 493.11 -65.04 
L 493.39 -65.04 
L 493.67 -65.04 
L 493.95 -65.04 
L 494.23 -65.04 
L 494.5 -65.04 
L 494.78 -65.04 
L 495.06 -65.05 
L 495.34 -65.05 
L 495.62 -65.05 
L 495.9 -65.05 
L 496.17 -65.05 
L 496.45 -65.05 
L 496.73 -65.05 
L 497.01 -65.05 
L 497.29 -65.05 
L 497.56 -65.05 
L 497.84 -65.06 
L 498.12 -65.06 
L 498.4 -65.06 
L 498.68 -65.06 
L 498.96 -65.06 
L 499.23 -65.06 
L 499.51 -65.06 
L 499.79 -65.06 
L 500.07 -65.06 
L 500.35 -65.06 
L 500.62 -65.06 
L 500.9 -65.06 
L 501.18 -65.07 
L 501.46 -65.07 
L 501.74 -65.07 
L 502.01 -65.07 
L 502.29 -65.07 
L 502.57 -65.07 
L 502.85 -65.07 
L 503.13 -65.07 
L 503.41 -65.07 
L 503.68 -65.07 
L 503.96 -65.07 
L 504.24 -65.07 
L 504.52 -65.07 
L 504.8 -65.07 
L 505.07 -65.07 
L 505.35 -65.07 
L 505.63 -65.08 
L 505.91 -65.08 
L 506.19 -65.08 
L 506.47 -65.08 
L 506.74 -65.08 
L 507.02 -65.08 
L 507.3 -65.08 
L 507.58 -65.08 
L 507.86 -65.08 
L 508.13 -65.08 
L 508.41 -65.08 
L 508.69 -65.08 
L 508.97 -65.08 
L 509.25 -65.08 
L 509.52 -65.08 
L 509.8 -65.08 
L 510.08 -65.08 
L 510.36 -65.08 
L 510.64 -65.08 
L 510.92 -65.08 
L 511.19 -65.08 
L 511.47 -65.08 
L 511.75 -65.08 
L 512.03 -65.08 
L 512.31 -65.09 
L 512.58 -65.09 
L 512.86 -65.09 
L 513.14 -65.09 
L 513.42 -65.09 
L 513.7 -65.09 
L 513.97 -65.09 
L 514.25 -65.09 
L 514.53 -65.09 
L 514.81 -65.09 
L 515.09 -65.09 
L 515.37 -65.09 
L 515.64 -65.09 
L 515.92 -65.09 
L 516.2 -65.09 
L 516.48 -65.09 
L 516.76 -65.09 
L 517.03 -65.09 
L 517.31 -65.09 
L 517.59 -65.09 
L 517.87 -65.09 
L 518.15 -65.09 
L 518.43 -65.09 
L 518.7 -65.09 
L 518.98 -65.09 
L 519.26 -65.09 
L 519.54 -65.09 
L 519.82 -65.09 
L 520.09 -65.09 
L 520.37 -65.09 
L 520.65 -65.09 
L 520.93 -65.09 
L 521.21 -65.09 
L 521.48 -65.09 
L 521.76 -65.09 
L 522.04 -65.09 
L 522.32 -65.09 
L 522.6 -65.09 
L 522.88 -65.09 
L 523.15 -65.09 
L 523.43 -65.09 
L 523.71 -65.09 
L 523.99 -65.09 
L 524.27 -65.09 
L 524.54 -65.09 
L 524.82 -65.09 
L 525.1 -65.09 
L 525.38 -65.09 
L 525.66 -65.09 
L 525.94 -65.09 
L 526.21 -65.09 
L 526.49 -65.09 
L 526.77 -65.08 
L 527.05 -65.08 
L 527.33 -65.08 
L 527.6 -65.08 
L 527.88 -65.08 
L 528.16 -65.08 
L 528.44 -65.08 
L 528.72 -65.08 
L 528.99 -65.08 
L 529.27 -65.08 
L 529.55 -65.08 
L 529.83 -65.08 
L 530.11 -65.08 
L 530.39 -65.08 
L 530.66 -65.08 
L 530.94 -65.08 
L 531.22 -65.08 
L 531.5 -65.08 
L 531.78 -65.08 
L 532.05 -65.08 
L 532.33 -65.08 
L 532.61 -65.08 
L 532.89 -65.08 
L 533.17 -65.08 
L 533.44 -65.08 
L 533.72 -65.08 
L 534 -65.07 
L 534.28 -65.07 
L 534.56 -65.07 
L 534.84 -65.07 
L 535.11 -65.07 
L 535.39 -65.07 
L 535.67 -65.07 
L 535.95 -65.07 
L 536.23 -65.07 
L 536.5 -65.07 
L 536.78 -65.07 
L 537.06 -65.07 
L 537.34 -65.07 
L 537.62 -65.07 
L 537.9 -65.07 
L 538.17 -65.07 
L 538.45 -65.07 
L 538.73 -65.06 
L 539.01 -65.06 
L 539.29 -65.06 
L 539.56 -65.06 
L 539.84 -65.06 
L 540.12 -65.06 
L 540.4 -65.06 
L 540.68 -65.06 
L 540.95 -65.06 
L 541.23 -65.06 
L 541.51 -65.06 
L 541.79 -65.06 
L 542.07 -65.06 
L 542.35 -65.06 
L 542.62 -65.05 
L 542.9 -65.05 
L 543.18 -65.05 
L 543.46 -65.05 
L 543.74 -65.05 
L 544.01 -65.05 
L 544.29 -65.05 
L 544.57 -65.05 
L 544.85 -65.05 
L 545.13 -65.05 
L 545.41 -65.05 
L 545.68 -65.05 
L 545.96 -65.04 
L 546.24 -65.04 
L 546.52 -65.04 
L 546.8 -65.04 
L 547.07 -65.04 
L 547.35 -65.04 
L 547.63 -65.04 
L 547.91 -65.04 
L 548.19 -65.04 
L 548.46 -65.04 
L 548.74 -65.04 
L 549.02 -65.03 
L 549.3 -65.03 
L 549.58 -65.03 
L 549.86 -65.03 
L 550.13 -65.03 
L 550.41 -65.03 
L 550.69 -65.03 
L 550.97 -65.03 
L 551.25 -65.03 
L 551.52 -65.03 
L 551.8 -65.02 
L 552.08 -65.02 
L 552.36 -65.02 
L 552.64 -65.02 
L 552.91 -65.02 
L 553.19 -65.02 
L 553.47 -65.02 
L 553.75 -65.02 
L 554.03 -65.02 
L 554.31 -65.01 
L 554.58 -65.01 
L 554.86 -65.01 
L 555.14 -65.01 
L 555.42 -65.01 
L 555.7 -65.01 
L 555.97 -65.01 
L 556.25 -65.01 
L 556.53 -65 
L 556.81 -65 
L 557.09 -65 
L 557.37 -65 
L 557.64 -65 
L 557.92 -65 
L 558.2 -65 
L 558.48 -65 
L 558.76 -65 
L 559.03 -64.99 
L 559.31 -64.99 
L 559.59 -64.99 
L 559.87 -64.99 
L 560.15 -64.99 
L 560.42 -64.99 
L 560.7 -64.99 
L 560.98 -64.99 
L 561.26 -64.98 
L 561.54 -64.98 
L 561.82 -64.98 
L 562.09 -64.98 
L 562.37 -64.98 
L 562.65 -64.98 
L 562.93 -64.98 
L 563.21 -64.97 
L 563.48 -64.97 
L 563.76 -64.97 
L 564.04 -64.97 
L 564.32 -64.97 
L 564.6 -64.97 
L 564.87 -64.97 
L 565.15 -64.96 
L 565.43 -64.96 
L 565.71 -64.96 
L 565.99 -64.96 
L 566.27 -64.96 
L 566.54 -64.96 
L 566.82 -64.96 
L 567.1 -64.95 
L 567.38 -64.95 
L 567.66 -64.95 
L 567.93 -64.95 
L 568.21 -64.95 
L 568.49 -64.95 
L 568.77 -64.95 
L 569.05 -64.94 
L 569.33 -64.94 
L 569.6 -64.94 
L 569.88 -64.94 
L 570.16 -64.94 
L 570.44 -64.94 
L 570.72 -64.94 
L 570.99 -64.93 
L 571.27 -64.93 
L 571.55 -64.93 
L 571.83 -64.93 
L 572.11 -64.93 
L 572.38 -64.93 
L 572.66 -64.92 
L 572.94 -64.92 
L 573.22 -64.92 
L 573.5 -64.92 
L 573.78 -64.92 
L 574.05 -64.92 
L 574.33 -64.91 
L 574.61 -64.91 
L 574.89 -64.91 
L 575.17 -64.91 
L 575.44 -64.91 
L 575.72 -64.91 
L 576 -64.9 
L 576.28 -64.9 
L 576.56 -64.9 
L 576.84 -64.9 
L 577.11 -64.9 
L 577.39 -64.9 
L 577.67 -64.89 
L 577.95 -64.89 
L 578.23 -64.89 
L 578.5 -64.89 
L 578.78 -64.89 
L 579.06 -64.89 
L 579.34 -64.88 
L 579.62 -64.88 
L 579.89 -64.88 
L 580.17 -64.88 
L 580.45 -64.88 
L 580.73 -64.87 
L 581.01 -64.87 
L 581.29 -64.87 
L 581.56 -64.87 
L 581.84 -64.87 
L 581.84 -105.62 
L 581.84 -105.62 
L 581.56 -105.55 
L 581.29 -105.48 
L 581.01 -105.4 
L 580.73 -105.34 
L 580.45 -105.27 
L 580.17 -105.2 
L 579.89 -105.14 
L 579.62 -105.07 
L 579.34 -105.01 
L 579.06 -104.95 
L 578.78 -104.89 
L 578.5 -104.83 
L 578.23 -104.77 
L 577.95 -104.71 
L 577.67 -104.65 
L 577.39 -104.6 
L 577.11 -104.54 
L 576.84 -104.49 
L 576.56 -104.44 
L 576.28 -104.39 
L 576 -104.34 
L 575.72 -104.29 
L 575.44 -104.24 
L 575.17 -104.19 
L 574.89 -104.15 
L 574.61 -104.1 
L 574.33 -104.06 
L 574.05 -104.02 
L 573.78 -103.97 
L 573.5 -103.93 
L 573.22 -103.9 
L 572.94 -103.86 
L 572.66 -103.82 
L 572.38 -103.78 
L 572.11 -103.75 
L 571.83 -103.72 
L 571.55 -103.68 
L 571.27 -103.65 
L 570.99 -103.62 
L 570.72 -103.59 
L 570.44 -103.56 
L 570.16 -103.53 
L 569.88 -103.51 
L 569.6 -103.48 
L 569.33 -103.46 
L 569.05 -103.43 
L 568.77 -103.41 
L 568.49 -103.39 
L 568.21 -103.37 
L 567.93 -103.35 
L 567.66 -103.33 
L 567.38 -103.32 
L 567.1 -103.3 
L 566.82 -103.28 
L 566.54 -103.27 
L 566.27 -103.26 
L 565.99 -103.24 
L 565.71 -103.23 
L 565.43 -103.22 
L 565.15 -103.21 
L 564.87 -103.2 
L 564.6 -103.2 
L 564.32 -103.19 
L 564.04 -103.19 
L 563.76 -103.18 
L 563.48 -103.18 
L 563.21 -103.18 
L 562.93 -103.17 
L 562.65 -103.17 
L 562.37 -103.17 
L 562.09 -103.18 
L 561.82 -103.18 
L 561.54 -103.18 
L 561.26 -103.19 
L 560.98 -103.19 
L 560.7 -103.2 
L 560.42 -103.21 
L 560.15 -103.21 
L 559.87 -103.22 
L 559.59 -103.23 
L 559.31 -103.24 
L 559.03 -103.26 
L 558.76 -103.27 
L 558.48 -103.28 
L 558.2 -103.3 
L 557.92 -103.31 
L 557.64 -103.33 
L 557.37 -103.35 
L 557.09 -103.37 
L 556.81 -103.39 
L 556.53 -103.41 
L 556.25 -103.43 
L 555.97 -103.45 
L 555.7 -103.47 
L 555.42 -103.5 
L 555.14 -103.52 
L 554.86 -103.55 
L 554.58 -103.57 
L 554.31 -103.6 
L 554.03 -103.63 
L 553.75 -103.66 
L 553.47 -103.69 
L 553.19 -103.72 
L 552.91 -103.75 
L 552.64 -103.78 
L 552.36 -103.82 
L 552.08 -103.85 
L 551.8 -103.89 
L 551.52 -103.92 
L 551.25 -103.96 
L 550.97 -104 
L 550.69 -104.04 
L 550.41 -104.08 
L 550.13 -104.12 
L 549.86 -104.16 
L 549.58 -104.2 
L 549.3 -104.24 
L 549.02 -104.29 
L 548.74 -104.33 
L 548.46 -104.38 
L 548.19 -104.42 
L 547.91 -104.47 
L 547.63 -104.52 
L 547.35 -104.57 
L 547.07 -104.62 
L 546.8 -104.67 
L 546.52 -104.72 
L 546.24 -104.77 
L 545.96 -104.82 
L 545.68 -104.88 
L 545.41 -104.93 
L 545.13 -104.99 
L 544.85 -105.04 
L 544.57 -105.1 
L 544.29 -105.16 
L 544.01 -105.21 
L 543.74 -105.27 
L 543.46 -105.33 
L 543.18 -105.39 
L 542.9 -105.45 
L 542.62 -105.52 
L 542.35 -105.58 
L 542.07 -105.64 
L 541.79 -105.71 
L 541.51 -105.77 
L 541.23 -105.84 
L 540.95 -105.91 
L 540.68 -105.97 
L 540.4 -106.04 
L 540.12 -106.11 
L 539.84 -106.18 
L 539.56 -106.25 
L 539.29 -106.32 
L 539.01 -106.39 
L 538.73 -106.46 
L 538.45 -106.54 
L 538.17 -106.61 
L 537.9 -106.69 
L 537.62 -106.76 
L 537.34 -106.84 
L 537.06 -106.91 
L 536.78 -106.99 
L 536.5 -107.07 
L 536.23 -107.15 
L 535.95 -107.23 
L 535.67 -107.31 
L 535.39 -107.39 
L 535.11 -107.47 
L 534.84 -107.55 
L 534.56 -107.64 
L 534.28 -107.72 
L 534 -107.8 
L 533.72 -107.89 
L 533.44 -107.97 
L 533.17 -108.06 
L 532.89 -108.15 
L 532.61 -108.23 
L 532.33 -108.32 
L 532.05 -108.41 
L 531.78 -108.5 
L 531.5 -108.59 
L 531.22 -108.68 
L 530.94 -108.77 
L 530.66 -108.86 
L 530.39 -108.96 
L 530.11 -109.05 
L 529.83 -109.14 
L 529.55 -109.24 
L 529.27 -109.33 
L 528.99 -109.43 
L 528.72 -109.52 
L 528.44 -109.62 
L 528.16 -109.72 
L 527.88 -109.81 
L 527.6 -109.91 
L 527.33 -110.01 
L 527.05 -110.11 
L 526.77 -110.21 
L 526.49 -110.31 
L 526.21 -110.41 
L 525.94 -110.52 
L 525.66 -110.62 
L 525.38 -110.72 
L 525.1 -110.82 
L 524.82 -110.93 
L 524.54 -111.03 
L 524.27 -111.14 
L 523.99 -111.24 
L 523.71 -111.35 
L 523.43 -111.46 
L 523.15 -111.56 
L 522.88 -111.67 
L 522.6 -111.78 
L 522.32 -111.89 
L 522.04 -112 
L 521.76 -112.11 
L 521.48 -112.22 
L 521.21 -112.33 
L 520.93 -112.44 
L 520.65 -112.55 
L 520.37 -112.66 
L 520.09 -112.78 
L 519.82 -112.89 
L 519.54 -113 
L 519.26 -113.12 
L 518.98 -113.23 
L 518.7 -113.35 
L 518.43 -113.46 
L 518.15 -113.58 
L 517.87 -113.7 
L 517.59 -113.81 
L 517.31 -113.93 
L 517.03 -114.05 
L 516.76 -114.17 
L 516.48 -114.29 
L 516.2 -114.41 
L 515.92 -114.52 
L 515.64 -114.64 
L 515.37 -114.77 
L 515.09 -114.89 
L 514.81 -115.01 
L 514.53 -115.13 
L 514.25 -115.25 
L 513.97 -115.37 
L 513.7 -115.5 
L 513.42 -115.62 
L 513.14 -115.74 
L 512.86 -115.87 
L 512.58 -115.99 
L 512.31 -116.12 
L 512.03 -116.24 
L 511.75 -116.37 
L 511.47 -116.49 
L 511.19 -116.62 
L 510.92 -116.75 
L 510.64 -116.87 
L 510.36 -117 
L 510.08 -117.13 
L 509.8 -117.26 
L 509.52 -117.38 
L 509.25 -117.51 
L 508.97 -117.64 
L 508.69 -117.77 
L 508.41 -117.9 
L 508.13 -118.03 
L 507.86 -118.16 
L 507.58 -118.29 
L 507.3 -118.42 
L 507.02 -118.55 
L 506.74 -118.68 
L 506.47 -118.82 
L 506.19 -118.95 
L 505.91 -119.08 
L 505.63 -119.21 
L 505.35 -119.35 
L 505.07 -119.48 
L 504.8 -119.61 
L 504.52 -119.75 
L 504.24 -119.88 
L 503.96 -120.01 
L 503.68 -120.15 
L 503.41 -120.28 
L 503.13 -120.42 
L 502.85 -120.55 
L 502.57 -120.69 
L 502.29 -120.82 
L 502.01 -120.96 
L 501.74 -121.09 
L 501.46 -121.23 
L 501.18 -121.37 
L 500.9 -121.5 
L 500.62 -121.64 
L 500.35 -121.78 
L 500.07 -121.91 
L 499.79 -122.05 
L 499.51 -122.19 
L 499.23 -122.33 
L 498.96 -122.46 
L 498.68 -122.6 
L 498.4 -122.74 
L 498.12 -122.88 
L 497.84 -123.02 
L 497.56 -123.16 
L 497.29 -123.29 
L 497.01 -123.43 
L 496.73 -123.57 
L 496.45 -123.71 
L 496.17 -123.85 
L 495.9 -123.99 
L 495.62 -124.13 
L 495.34 -124.27 
L 495.06 -124.41 
L 494.78 -124.55 
L 494.5 -124.69 
L 494.23 -124.83 
L 493.95 -124.97 
L 493.67 -125.11 
L 493.39 -125.25 
L 493.11 -125.39 
L 492.84 -125.53 
L 492.56 -125.67 
L 492.28 -125.81 
L 492 -125.95 
L 491.72 -126.09 
L 491.45 -126.23 
L 491.17 -126.37 
L 490.89 -126.51 
L 490.61 -126.65 
L 490.33 -126.79 
L 490.05 -126.93 
L 489.78 -127.08 
L 489.5 -127.22 
L 489.22 -127.36 
L 488.94 -127.5 
L 488.66 -127.64 
L 488.39 -127.78 
L 488.11 -127.92 
L 487.83 -128.06 
L 487.55 -128.2 
L 487.27 -128.34 
L 487 -128.48 
L 486.72 -128.62 
L 486.44 -128.76 
L 486.16 -128.9 
L 485.88 -129.04 
L 485.6 -129.18 
L 485.33 -129.32 
L 485.05 -129.46 
L 484.77 -129.6 
L 484.49 -129.74 
L 484.21 -129.88 
L 483.94 -130.02 
L 483.66 -130.16 
L 483.38 -130.3 
L 483.1 -130.44 
L 482.82 -130.58 
L 482.54 -130.72 
L 482.27 -130.86 
L 481.99 -131 
L 481.71 -131.14 
L 481.43 -131.27 
L 481.15 -131.41 
L 480.88 -131.55 
L 480.6 -131.69 
L 480.32 -131.83 
L 480.04 -131.96 
L 479.76 -132.1 
L 479.49 -132.24 
L 479.21 -132.38 
L 478.93 -132.51 
L 478.65 -132.65 
L 478.37 -132.79 
L 478.09 -132.92 
L 477.82 -133.06 
L 477.54 -133.19 
L 477.26 -133.33 
L 476.98 -133.47 
L 476.7 -133.6 
L 476.43 -133.74 
L 476.15 -133.87 
L 475.87 -134 
L 475.59 -134.14 
L 475.31 -134.27 
L 475.04 -134.41 
L 474.76 -134.54 
L 474.48 -134.67 
L 474.2 -134.8 
L 473.92 -134.94 
L 473.64 -135.07 
L 473.37 -135.2 
L 473.09 -135.33 
L 472.81 -135.46 
L 472.53 -135.59 
L 472.25 -135.72 
L 471.98 -135.85 
L 471.7 -135.98 
L 471.42 -136.11 
L 471.14 -136.24 
L 470.86 -136.37 
L 470.58 -136.5 
L 470.31 -136.63 
L 470.03 -136.75 
L 469.75 -136.88 
L 469.47 -137.01 
L 469.19 -137.13 
L 468.92 -137.26 
L 468.64 -137.38 
L 468.36 -137.51 
L 468.08 -137.63 
L 467.8 -137.76 
L 467.53 -137.88 
L 467.25 -138.01 
L 466.97 -138.13 
L 466.69 -138.25 
L 466.41 -138.37 
L 466.13 -138.49 
L 465.86 -138.61 
L 465.58 -138.73 
L 465.3 -138.85 
L 465.02 -138.97 
L 464.74 -139.09 
L 464.47 -139.21 
L 464.19 -139.33 
L 463.91 -139.44 
L 463.63 -139.56 
L 463.35 -139.68 
L 463.07 -139.79 
L 462.8 -139.91 
L 462.52 -140.02 
L 462.24 -140.14 
L 461.96 -140.25 
L 461.68 -140.36 
L 461.41 -140.47 
L 461.13 -140.58 
L 460.85 -140.69 
L 460.57 -140.8 
L 460.29 -140.91 
L 460.02 -141.02 
L 459.74 -141.13 
L 459.46 -141.24 
L 459.18 -141.35 
L 458.9 -141.45 
L 458.62 -141.56 
L 458.35 -141.66 
L 458.07 -141.77 
L 457.79 -141.87 
L 457.51 -141.97 
L 457.23 -142.07 
L 456.96 -142.18 
L 456.68 -142.28 
L 456.4 -142.38 
L 456.12 -142.48 
L 455.84 -142.57 
L 455.57 -142.67 
L 455.29 -142.77 
L 455.01 -142.87 
L 454.73 -142.96 
L 454.45 -143.05 
L 454.17 -143.15 
L 453.9 -143.24 
L 453.62 -143.33 
L 453.34 -143.43 
L 453.06 -143.52 
L 452.78 -143.61 
L 452.51 -143.69 
L 452.23 -143.78 
L 451.95 -143.87 
L 451.67 -143.96 
L 451.39 -144.04 
L 451.11 -144.13 
L 450.84 -144.21 
L 450.56 -144.29 
L 450.28 -144.37 
L 450 -144.45 
L 449.72 -144.53 
L 449.45 -144.61 
L 449.17 -144.69 
L 448.89 -144.77 
L 448.61 -144.85 
L 448.33 -144.92 
L 448.06 -144.99 
L 447.78 -145.07 
L 447.5 -145.14 
L 447.22 -145.21 
L 446.94 -145.28 
L 446.66 -145.35 
L 446.39 -145.42 
L 446.11 -145.49 
L 445.83 -145.55 
L 445.55 -145.62 
L 445.27 -145.68 
L 445 -145.74 
L 444.72 -145.81 
L 444.44 -145.87 
L 444.16 -145.93 
L 443.88 -145.99 
L 443.6 -146.04 
L 443.33 -146.1 
L 443.05 -146.15 
L 442.77 -146.21 
L 442.49 -146.26 
L 442.21 -146.31 
L 441.94 -146.36 
L 441.66 -146.41 
L 441.38 -146.46 
L 441.1 -146.51 
L 440.82 -146.55 
L 440.55 -146.6 
L 440.27 -146.64 
L 439.99 -146.68 
L 439.71 -146.73 
L 439.43 -146.77 
L 439.15 -146.8 
L 438.88 -146.84 
L 438.6 -146.88 
L 438.32 -146.91 
L 438.04 -146.94 
L 437.76 -146.98 
L 437.49 -147.01 
L 437.21 -147.04 
L 436.93 -147.06 
L 436.65 -147.09 
L 436.37 -147.12 
L 436.1 -147.14 
L 435.82 -147.16 
L 435.54 -147.18 
L 435.26 -147.2 
L 434.98 -147.22 
L 434.7 -147.24 
L 434.43 -147.25 
L 434.15 -147.27 
L 433.87 -147.28 
L 433.59 -147.29 
L 433.31 -147.3 
L 433.04 -147.31 
L 432.76 -147.31 
L 432.48 -147.32 
L 432.2 -147.32 
L 431.92 -147.32 
L 431.64 -147.32 
L 431.37 -147.32 
L 431.09 -147.32 
L 430.81 -147.32 
L 430.53 -147.31 
L 430.25 -147.3 
L 429.98 -147.29 
L 429.7 -147.28 
L 429.42 -147.27 
L 429.14 -147.26 
L 428.86 -147.24 
L 428.59 -147.22 
L 428.31 -147.2 
L 428.03 -147.18 
L 427.75 -147.16 
L 427.47 -147.13 
L 427.19 -147.11 
L 426.92 -147.08 
L 426.64 -147.05 
L 426.36 -147.02 
L 426.08 -146.99 
L 425.8 -146.95 
L 425.53 -146.92 
L 425.25 -146.88 
L 424.97 -146.84 
L 424.69 -146.79 
L 424.41 -146.75 
L 424.13 -146.7 
L 423.86 -146.66 
L 423.58 -146.61 
L 423.3 -146.55 
L 423.02 -146.5 
L 422.74 -146.45 
L 422.47 -146.39 
L 422.19 -146.33 
L 421.91 -146.27 
L 421.63 -146.2 
L 421.35 -146.14 
L 421.08 -146.07 
L 420.8 -146 
L 420.52 -145.93 
L 420.24 -145.86 
L 419.96 -145.78 
L 419.68 -145.7 
L 419.41 -145.62 
L 419.13 -145.54 
L 418.85 -145.46 
L 418.57 -145.37 
L 418.29 -145.28 
L 418.02 -145.19 
L 417.74 -145.1 
L 417.46 -145 
L 417.18 -144.91 
L 416.9 -144.81 
L 416.63 -144.71 
L 416.35 -144.6 
L 416.07 -144.5 
L 415.79 -144.39 
L 415.51 -144.28 
L 415.23 -144.16 
L 414.96 -144.05 
L 414.68 -143.93 
L 414.4 -143.81 
L 414.12 -143.69 
L 413.84 -143.56 
L 413.57 -143.44 
L 413.29 -143.31 
L 413.01 -143.17 
L 412.73 -143.04 
L 412.45 -142.9 
L 412.17 -142.76 
L 411.9 -142.62 
L 411.62 -142.48 
L 411.34 -142.33 
L 411.06 -142.18 
L 410.78 -142.03 
L 410.51 -141.87 
L 410.23 -141.71 
L 409.95 -141.55 
L 409.67 -141.39 
L 409.39 -141.22 
L 409.12 -141.06 
L 408.84 -140.89 
L 408.56 -140.71 
L 408.28 -140.54 
L 408 -140.36 
L 407.72 -140.17 
L 407.45 -139.99 
L 407.17 -139.8 
L 406.89 -139.61 
L 406.61 -139.42 
L 406.33 -139.22 
L 406.06 -139.02 
L 405.78 -138.82 
L 405.5 -138.62 
L 405.22 -138.41 
L 404.94 -138.2 
L 404.66 -137.99 
L 404.39 -137.77 
L 404.11 -137.55 
L 403.83 -137.33 
L 403.55 -137.1 
L 403.27 -136.87 
L 403 -136.64 
L 402.72 -136.4 
L 402.44 -136.17 
L 402.16 -135.92 
L 401.88 -135.68 
L 401.61 -135.43 
L 401.33 -135.18 
L 401.05 -134.93 
L 400.77 -134.67 
L 400.49 -134.41 
L 400.21 -134.14 
L 399.94 -133.88 
L 399.66 -133.61 
L 399.38 -133.33 
L 399.1 -133.05 
L 398.82 -132.77 
L 398.55 -132.49 
L 398.27 -132.2 
L 397.99 -131.91 
L 397.71 -131.61 
L 397.43 -131.32 
L 397.16 -131.01 
L 396.88 -130.71 
L 396.6 -130.4 
L 396.32 -130.09 
L 396.04 -129.77 
L 395.76 -129.45 
L 395.49 -129.13 
L 395.21 -128.8 
L 394.93 -128.47 
L 394.65 -128.13 
L 394.37 -127.79 
L 394.1 -127.45 
L 393.82 -127.1 
L 393.54 -126.75 
L 393.26 -126.4 
L 392.98 -126.04 
L 392.7 -125.68 
L 392.43 -125.31 
L 392.15 -124.94 
L 391.87 -124.57 
L 391.59 -124.19 
L 391.31 -123.8 
L 391.04 -123.42 
L 390.76 -123.03 
L 390.48 -122.63 
L 390.2 -122.23 
L 389.92 -121.83 
L 389.65 -121.42 
L 389.37 -121.01 
L 389.09 -120.59 
L 388.81 -120.17 
L 388.53 -119.75 
L 388.25 -119.32 
L 387.98 -118.88 
L 387.7 -118.44 
L 387.42 -118 
L 387.14 -117.55 
L 386.86 -117.1 
L 386.59 -116.64 
L 386.31 -116.18 
L 386.03 -115.72 
L 385.75 -115.25 
L 385.47 -114.77 
L 385.2 -114.29 
L 384.92 -113.81 
L 384.64 -113.32 
L 384.36 -112.82 
L 384.08 -112.32 
L 383.8 -111.82 
L 383.53 -111.31 
L 383.25 -110.79 
L 382.97 -110.27 
L 382.69 -109.75 
L 382.41 -109.22 
L 382.14 -108.69 
L 381.86 -108.15 
L 381.58 -107.6 
L 381.3 -107.05 
L 381.02 -106.5 
L 380.74 -105.94 
L 380.47 -105.37 
L 380.19 -104.8 
L 379.91 -104.22 
L 379.63 -103.64 
L 379.35 -103.05 
L 379.08 -102.46 
L 378.8 -101.86 
L 378.52 -101.26 
L 378.24 -100.65 
L 377.96 -100.03 
L 377.69 -99.41 
L 377.41 -98.78 
L 377.13 -98.15 
L 376.85 -97.51 
L 376.57 -96.87 
L 376.29 -96.22 
L 376.02 -95.56 
L 375.74 -94.9 
L 375.46 -94.24 
L 375.18 -93.56 
L 374.9 -92.88 
L 374.63 -92.2 
L 374.35 -91.51 
L 374.07 -90.81 
L 373.79 -90.11 
L 373.51 -89.4 
L 373.23 -88.68 
L 372.96 -87.96 
L 372.68 -87.24 
L 372.4 -86.5 
L 372.12 -85.76 
L 371.84 -85.02 
L 371.57 -84.27 
L 371.29 -83.51 
L 371.01 -82.75 
L 370.73 -81.98 
L 370.45 -81.2 
L 370.18 -80.42 
L 369.9 -79.63 
L 369.62 -78.84 
L 369.34 -78.04 
L 369.06 -77.24 
L 368.78 -76.43 
L 368.51 -75.61 
L 368.23 -74.79 
L 367.95 -73.97 
L 367.67 -73.14 
L 367.39 -72.3 
L 367.12 -71.46 
L 366.84 -70.62 
L 366.56 -69.77 
L 366.28 -68.92 
L 366 -68.06 
L 365.73 -67.21 
L 365.45 -66.35 
L 365.17 -65.49 
L 364.89 -64.62 
L 364.61 -63.76 
L 364.33 -62.9 
L 364.06 -62.05 
L 363.78 -61.19 
L 363.5 -60.34 
L 363.22 -59.51 
L 362.94 -58.68 
L 362.67 -58.25 
L 362.39 -58.25 
L 362.11 -58.25 
L 361.83 -58.25 
L 361.55 -58.25 
L 361.27 -58.25 
L 361 -58.25 
L 360.72 -58.25 
L 360.44 -58.25 
L 360.16 -58.25 
L 359.88 -58.25 
L 359.61 -58.25 
z
" style="stroke: #ffa500; stroke-opacity: 0.2"/>
</defs>
<g clip-path="url(#pd65109ea71)">
<use href="#m22aadc76da" x="0" y="432" style="fill: #ffa500; fill-opacity: 0.2; stroke: #ffa500; stroke-opacity: 0.2"/>
</g>
</g>
<g id="matplotlib.axis_3">
<g id="xtick_7">
<g id="line2d_54">
<g>
<use href="#m7c25c535dc" x="359.28" y="384.48" style="stroke: #000000; stroke-width: 0.8"/>
</g>
</g>
<g id="text_14">
<text style="font-size: 10.30px; font-family: 'Liberation Sans', sans-serif; text-anchor: start; fill: #222222" y="399.4" transform="rotate(-0 359.61 399.4)"><tspan x="356.46" textLength="6.36" lengthAdjust="spacingAndGlyphs">0</tspan></text>
</g>
</g>
<g id="xtick_8">
<g id="line2d_55">
<g>
<use href="#m7c25c535dc" x="397.44" y="384.48" style="stroke: #000000; stroke-width: 0.8"/>
</g>
</g>
<g id="text_15">
<text style="font-size: 10.30px; font-family: 'Liberation Sans', sans-serif; text-anchor: start; fill: #222222" y="399.4" transform="rotate(-0 397.34 399.4)"><tspan x="394.19" textLength="6.36" lengthAdjust="spacingAndGlyphs">5</tspan></text>
</g>
</g>
<g id="xtick_9">
<g id="line2d_56">
<g>
<use href="#m7c25c535dc" x="434.88" y="384.48" style="stroke: #000000; stroke-width: 0.8"/>
</g>
</g>
<g id="text_16">
<text style="font-size: 10.30px; font-family: 'Liberation Sans', sans-serif; text-anchor: start; fill: #222222" y="399.4" transform="rotate(-0 435.07 399.4)"><tspan x="428.72" textLength="6.36" lengthAdjust="spacingAndGlyphs">1</tspan><tspan x="435.11" textLength="6.36" lengthAdjust="spacingAndGlyphs">0</tspan></text>
</g>
</g>
<g id="xtick_10">
<g id="line2d_57">
<g>
<use href="#m7c25c535dc" x="473.04" y="384.48" style="stroke: #000000; stroke-width: 0.8"/>
</g>
</g>
<g id="text_17">
<text style="font-size: 10.30px; font-family: 'Liberation Sans', sans-serif; text-anchor: start; fill: #222222" y="399.4" transform="rotate(-0 472.8 399.4)"><tspan x="466.45" textLength="6.36" lengthAdjust="spacingAndGlyphs">1</tspan><tspan x="472.84" textLength="6.36" lengthAdjust="spacingAndGlyphs">5</tspan></text>
</g>
</g>
<g id="xtick_11">
<g id="line2d_58">
<g>
<use href="#m7c25c535dc" x="510.48" y="384.48" style="stroke: #000000; stroke-width: 0.8"/>
</g>
</g>
<g id="text_18">
<text style="font-size: 10.30px; font-family: 'Liberation Sans', sans-serif; text-anchor: start; fill: #222222" y="399.4" transform="rotate(-0 510.53 399.4)"><tspan x="504.23" textLength="6.36" lengthAdjust="spacingAndGlyphs">2</tspan><tspan x="510.53" textLength="6.36" lengthAdjust="spacingAndGlyphs">0</tspan></text>
</g>
</g>
<g id="xtick_12">
<g id="line2d_59">
<g>
<use href="#m7c25c535dc" x="547.92" y="384.48" style="stroke: #000000; stroke-width: 0.8"/>
</g>
</g>
<g id="text_19">
<text style="font-size: 10.30px; font-family: 'Liberation Sans', sans-serif; text-anchor: start; fill: #222222" y="399.4" transform="rotate(-0 548.26 399.4)"><tspan x="541.96" textLength="6.36" lengthAdjust="spacingAndGlyphs">2</tspan><tspan x="548.26" textLength="6.36" lengthAdjust="spacingAndGlyphs">5</tspan></text>
</g>
</g>
<g id="text_20">
<g transform="translate(452.44 414.92)">
<text>
<tspan x="0" y="-0.41" style="font-style: italic; font-size: 10.30px; font-family: 'Liberation Sans', sans-serif; fill: #222222" textLength="4.11" lengthAdjust="spacingAndGlyphs">r</tspan>
<tspan x="4.11" y="-0.41" style="font-size: 10.30px; font-family: 'Liberation Sans', sans-serif; fill: #222222"> </tspan>
<tspan x="7.29" y="-0.41" style="font-size: 10.30px; font-family: 'Liberation Sans', sans-serif; fill: #222222" textLength="3.90" lengthAdjust="spacingAndGlyphs">(</tspan>
<tspan x="11.19" y="-0.41" style="font-size: 10.30px; font-family: 'Liberation Sans', sans-serif; fill: #222222" textLength="5.79" lengthAdjust="spacingAndGlyphs">k</tspan>
<tspan x="16.98" y="-0.41" style="font-size: 10.30px; font-family: 'Liberation Sans', sans-serif; fill: #222222" textLength="6.35" lengthAdjust="spacingAndGlyphs">p</tspan>
<tspan x="23.33" y="-0.41" style="font-size: 10.30px; font-family: 'Liberation Sans', sans-serif; fill: #222222" textLength="5.50" lengthAdjust="spacingAndGlyphs">c</tspan>
<tspan x="28.83" y="-0.41" style="font-size: 10.30px; font-family: 'Liberation Sans', sans-serif; fill: #222222" textLength="3.90" lengthAdjust="spacingAndGlyphs">)</tspan>
</text>
</g>
</g>
</g>
<g id="matplotlib.axis_4">
<g id="ytick_25">
<g id="line2d_60">
<g>
<use href="#mb258c49b38" x="354.96" y="373.68" style="stroke: #000000; stroke-width: 0.8"/>
</g>
</g>
<g id="text_21">
<text style="font-size: 10.30px; font-family: 'Liberation Sans', sans-serif; text-anchor: start; fill: #222222" y="377.71" transform="rotate(-0 347.93 377.71)"><tspan x="341.63" textLength="6.36" lengthAdjust="spacingAndGlyphs">0</tspan></text>
</g>
</g>
<g id="ytick_26">
<g id="line2d_61">
<g>
<use href="#mb258c49b38" x="354.96" y="320.4" style="stroke: #000000; stroke-width: 0.8"/>
</g>
</g>
<g id="text_22">
<text style="font-size: 10.30px; font-family: 'Liberation Sans', sans-serif; text-anchor: start; fill: #222222" y="324.06" transform="rotate(-0 347.93 324.06)"><tspan x="335.33" textLength="6.36" lengthAdjust="spacingAndGlyphs">5</tspan><tspan x="341.63" textLength="6.36" lengthAdjust="spacingAndGlyphs">0</tspan></text>
</g>
</g>
<g id="ytick_27">
<g id="line2d_62">
<g>
<use href="#mb258c49b38" x="354.96" y="266.4" style="stroke: #000000; stroke-width: 0.8"/>
</g>
</g>
<g id="text_23">
<text style="font-size: 10.30px; font-family: 'Liberation Sans', sans-serif; text-anchor: start; fill: #222222" y="270.41" transform="rotate(-0 347.93 270.41)"><tspan x="328.94" textLength="6.36" lengthAdjust="spacingAndGlyphs">1</tspan><tspan x="335.33" textLength="6.36" lengthAdjust="spacingAndGlyphs">0</tspan><tspan x="341.63" textLength="6.36" lengthAdjust="spacingAndGlyphs">0</tspan></text>
</g>
</g>
<g id="ytick_28">
<g id="line2d_63">
<g>
<use href="#mb258c49b38" x="354.96" y="213.12" style="stroke: #000000; stroke-width: 0.8"/>
</g>
</g>
<g id="text_24">
<text style="font-size: 10.30px; font-family: 'Liberation Sans', sans-serif; text-anchor: start; fill: #222222" y="216.75" transform="rotate(-0 347.93 216.75)"><tspan x="328.94" textLength="6.36" lengthAdjust="spacingAndGlyphs">1</tspan><tspan x="335.33" textLength="6.36" lengthAdjust="spacingAndGlyphs">5</tspan><tspan x="341.63" textLength="6.36" lengthAdjust="spacingAndGlyphs">0</tspan></text>
</g>
</g>
<g id="ytick_29">
<g id="line2d_64">
<g>
<use href="#mb258c49b38" x="354.96" y="159.12" style="stroke: #000000; stroke-width: 0.8"/>
</g>
</g>
<g id="text_25">
<text style="font-size: 10.30px; font-family: 'Liberation Sans', sans-serif; text-anchor: start; fill: #222222" y="163.1" transform="rotate(-0 347.93 163.1)"><tspan x="329.03" textLength="6.36" lengthAdjust="spacingAndGlyphs">2</tspan><tspan x="335.33" textLength="6.36" lengthAdjust="spacingAndGlyphs">0</tspan><tspan x="341.63" textLength="6.36" lengthAdjust="spacingAndGlyphs">0</tspan></text>
</g>
</g>
<g id="ytick_30">
<g id="line2d_65">
<g>
<use href="#mb258c49b38" x="354.96" y="105.84" style="stroke: #000000; stroke-width: 0.8"/>
</g>
</g>
<g id="text_26">
<text style="font-size: 10.30px; font-family: 'Liberation Sans', sans-serif; text-anchor: start; fill: #222222" y="109.45" transform="rotate(-0 347.93 109.45)"><tspan x="329.03" textLength="6.36" lengthAdjust="spacingAndGlyphs">2</tspan><tspan x="335.33" textLength="6.36" lengthAdjust="spacingAndGlyphs">5</tspan><tspan x="341.63" textLength="6.36" lengthAdjust="spacingAndGlyphs">0</tspan></text>
</g>
</g>
<g id="ytick_31">
<g id="line2d_66">
<g>
<use href="#mb258c49b38" x="354.96" y="51.84" style="stroke: #000000; stroke-width: 0.8"/>
</g>
</g>
<g id="text_27">
<text style="font-size: 10.30px; font-family: 'Liberation Sans', sans-serif; text-anchor: start; fill: #222222" y="55.8" transform="rotate(-0 347.93 55.8)"><tspan x="329.03" textLength="6.36" lengthAdjust="spacingAndGlyphs">3</tspan><tspan x="335.33" textLength="6.36" lengthAdjust="spacingAndGlyphs">0</tspan><tspan x="341.63" textLength="6.36" lengthAdjust="spacingAndGlyphs">0</tspan></text>
</g>
</g>
<g id="text_28">
<g transform="translate(321.34 263.85) rotate(-90)">
<text>
<tspan x="0" y="-0.41" style="font-style: italic; font-size: 10.30px; font-family: 'Liberation Sans', sans-serif; fill: #222222" textLength="5.92" lengthAdjust="spacingAndGlyphs">v</tspan>
<tspan x="9.82" y="-0.41" style="font-style: italic; font-size: 10.30px; font-family: 'Liberation Sans', sans-serif; fill: #222222" textLength="4.11" lengthAdjust="spacingAndGlyphs">r</tspan>
<tspan x="5.92" y="-0.41" style="font-size: 10.30px; font-family: 'Liberation Sans', sans-serif; fill: #222222" textLength="3.90" lengthAdjust="spacingAndGlyphs">(</tspan>
<tspan x="13.93" y="-0.41" style="font-size: 10.30px; font-family: 'Liberation Sans', sans-serif; fill: #222222" textLength="3.90" lengthAdjust="spacingAndGlyphs">)</tspan>
<tspan x="17.83" y="-0.41" style="font-size: 10.30px; font-family: 'Liberation Sans', sans-serif; fill: #222222"> </tspan>
<tspan x="21.01" y="-0.41" style="font-size: 10.30px; font-family: 'Liberation Sans', sans-serif; fill: #222222" textLength="3.90" lengthAdjust="spacingAndGlyphs">(</tspan>
<tspan x="24.91" y="-0.41" style="font-size: 10.30px; font-family: 'Liberation Sans', sans-serif; fill: #222222" textLength="5.79" lengthAdjust="spacingAndGlyphs">k</tspan>
<tspan x="30.7" y="-0.41" style="font-size: 10.30px; font-family: 'Liberation Sans', sans-serif; fill: #222222" textLength="9.74" lengthAdjust="spacingAndGlyphs">m</tspan>
<tspan x="40.44" y="-0.41" style="font-size: 10.30px; font-family: 'Liberation Sans', sans-serif; fill: #222222" textLength="3.37" lengthAdjust="spacingAndGlyphs">/</tspan>
<tspan x="43.81" y="-0.41" style="font-size: 10.30px; font-family: 'Liberation Sans', sans-serif; fill: #222222" textLength="5.21" lengthAdjust="spacingAndGlyphs">s</tspan>
<tspan x="49.02" y="-0.41" style="font-size: 10.30px; font-family: 'Liberation Sans', sans-serif; fill: #222222" textLength="3.90" lengthAdjust="spacingAndGlyphs">)</tspan>
<tspan x="52.92" y="-0.41" style="font-size: 10.30px; font-family: 'Liberation Sans', sans-serif; fill: #222222"> </tspan>
<tspan x="56.1" y="-0.41" style="font-size: 10.30px; font-family: 'Liberation Sans', sans-serif; fill: #222222" textLength="6.35" lengthAdjust="spacingAndGlyphs">d</tspan>
<tspan x="62.45" y="-0.41" style="font-size: 10.30px; font-family: 'Liberation Sans', sans-serif; fill: #222222" textLength="6.15" lengthAdjust="spacingAndGlyphs">e</tspan>
<tspan x="68.6" y="-0.41" style="font-size: 10.30px; font-family: 'Liberation Sans', sans-serif; fill: #222222" textLength="6.35" lengthAdjust="spacingAndGlyphs">p</tspan>
<tspan x="74.95" y="-0.41" style="font-size: 10.30px; font-family: 'Liberation Sans', sans-serif; fill: #222222" textLength="4.11" lengthAdjust="spacingAndGlyphs">r</tspan>
<tspan x="79.06" y="-0.41" style="font-size: 10.30px; font-family: 'Liberation Sans', sans-serif; fill: #222222" textLength="6.12" lengthAdjust="spacingAndGlyphs">o</tspan>
<tspan x="85.18" y="-0.41" style="font-size: 10.30px; font-family: 'Liberation Sans', sans-serif; fill: #222222" textLength="2.78" lengthAdjust="spacingAndGlyphs">j</tspan>
<tspan x="87.96" y="-0.41" style="font-size: 10.30px; font-family: 'Liberation Sans', sans-serif; fill: #222222" textLength="3.18" lengthAdjust="spacingAndGlyphs">.</tspan>
</text>
</g>
</g>
</g>
<g id="line2d_67">
<path d="M 359.61 373.75 
L 361.55 362.71 
L 363.22 354.5 
L 364.61 348.8 
L 366.28 342.93 
L 369.34 332.43 
L 374.07 314.95 
L 375.18 311.87 
L 376.57 308.72 
L 382.69 295.64 
L 386.03 288.49 
L 389.65 281.28 
L 393.26 274.55 
L 397.16 267.76 
L 401.33 260.94 
L 405.78 254.12 
L 410.23 247.71 
L 414.96 241.27 
L 419.96 234.82 
L 425.25 228.38 
L 430.81 221.95 
L 436.65 215.52 
L 443.05 208.82 
L 449.72 202.16 
L 456.68 195.54 
L 463.91 188.95 
L 471.42 182.41 
L 479.21 175.92 
L 487 169.71 
L 495.06 163.56 
L 502.85 157.9 
L 510.64 152.51 
L 518.15 147.58 
L 525.66 142.91 
L 532.89 138.68 
L 539.84 134.86 
L 546.52 131.45 
L 552.91 128.41 
L 559.31 125.63 
L 565.43 123.2 
L 571.27 121.12 
L 577.11 119.27 
L 581.84 117.96 
L 581.84 117.96 
" clip-path="url(#pd65109ea71)" style="fill: none; stroke: #ff0000; stroke-linecap: square"/>
</g>
<g id="line2d_68">
<path d="M 359.61 373.75 
L 369.62 373.75 
L 370.45 367.67 
L 371.29 364.16 
L 372.68 359.46 
L 374.9 352.83 
L 378.24 343.63 
L 382.14 333.55 
L 385.75 324.78 
L 389.09 317.25 
L 392.15 310.84 
L 395.21 304.94 
L 397.99 300.03 
L 400.77 295.55 
L 403.55 291.5 
L 406.06 288.22 
L 408.56 285.29 
L 411.06 282.69 
L 413.57 280.41 
L 416.07 278.44 
L 418.57 276.77 
L 421.08 275.38 
L 423.58 274.26 
L 426.08 273.39 
L 428.59 272.76 
L 431.09 272.35 
L 433.87 272.13 
L 436.65 272.14 
L 439.71 272.39 
L 442.77 272.86 
L 446.11 273.59 
L 450 274.67 
L 454.45 276.17 
L 459.74 278.21 
L 466.69 281.14 
L 497.56 294.47 
L 507.86 298.92 
L 513.7 301.67 
L 518.43 304.13 
L 522.6 306.54 
L 526.49 309.02 
L 530.11 311.59 
L 533.72 314.43 
L 537.06 317.33 
L 540.4 320.52 
L 543.74 324.03 
L 547.07 327.88 
L 550.41 332.08 
L 553.75 336.65 
L 557.09 341.61 
L 560.42 346.98 
L 563.48 352.31 
L 566.27 357.63 
L 568.21 361.8 
L 569.6 365.29 
L 570.44 367.93 
L 570.99 370.44 
L 571.27 373.33 
L 571.55 373.75 
L 581.84 373.75 
L 581.84 373.75 
" clip-path="url(#pd65109ea71)" style="fill: none; stroke: #ff0000; stroke-linecap: square"/>
</g>
<g id="line2d_69">
<path d="M 359.61 373.75 
L 361.83 362.44 
L 362.94 357.66 
L 364.33 352.82 
L 366 347.79 
L 367.95 342.66 
L 370.73 336.11 
L 373.23 330.59 
L 374.9 327.38 
L 379.63 318.7 
L 382.41 312.84 
L 387.98 301.13 
L 392.7 291.7 
L 397.16 283.33 
L 401.33 275.94 
L 405.5 269.01 
L 409.39 262.96 
L 413.29 257.29 
L 417.18 252.01 
L 421.08 247.1 
L 424.97 242.54 
L 428.86 238.32 
L 432.76 234.41 
L 436.65 230.82 
L 440.55 227.51 
L 444.72 224.25 
L 448.89 221.29 
L 453.06 218.59 
L 457.51 215.98 
L 461.96 213.62 
L 466.69 211.36 
L 471.7 209.23 
L 476.98 207.22 
L 482.54 205.36 
L 488.39 203.63 
L 494.78 201.97 
L 502.01 200.33 
L 510.08 198.75 
L 519.26 197.17 
L 529.83 195.6 
L 541.51 194.09 
L 553.19 192.79 
L 563.76 191.83 
L 572.94 191.22 
L 581.01 190.9 
L 581.84 190.88 
L 581.84 190.88 
" clip-path="url(#pd65109ea71)" style="fill: none; stroke: #008000; stroke-width: 1.5; stroke-linecap: square"/>
</g>
<g id="line2d_70">
<path d="M 359.61 373.75 
L 363.5 361.8 
L 366.56 353.1 
L 369.9 344.37 
L 374.07 333.38 
L 376.57 325.87 
L 379.08 318.54 
L 381.02 313.47 
L 383.8 306.93 
L 387.42 299.01 
L 391.04 291.63 
L 394.65 284.75 
L 398.27 278.33 
L 401.88 272.34 
L 405.78 266.33 
L 409.67 260.75 
L 413.57 255.55 
L 417.46 250.72 
L 421.35 246.23 
L 425.53 241.76 
L 429.7 237.64 
L 433.87 233.82 
L 438.04 230.29 
L 442.49 226.82 
L 446.94 223.64 
L 451.39 220.72 
L 456.12 217.89 
L 460.85 215.31 
L 465.86 212.83 
L 470.86 210.6 
L 476.15 208.48 
L 481.71 206.48 
L 487.55 204.63 
L 493.67 202.92 
L 500.07 201.37 
L 507.02 199.91 
L 514.53 198.56 
L 522.88 197.3 
L 532.33 196.11 
L 543.46 194.93 
L 559.03 193.54 
L 581.84 191.55 
L 581.84 191.55 
" clip-path="url(#pd65109ea71)" style="fill: none; stroke-dasharray: 5.55,2.4; stroke-dashoffset: 0; stroke: #008000; stroke-width: 1.5"/>
</g>
<g id="line2d_71">
<path d="M 359.61 373.75 
L 360.16 372.72 
L 361.55 370.89 
L 363.78 368.43 
L 366.84 365.42 
L 370.73 361.91 
L 375.46 357.97 
L 380.47 354.1 
L 385.2 350.73 
L 389.37 348.01 
L 393.26 345.73 
L 396.88 343.85 
L 400.21 342.35 
L 403.55 341.09 
L 406.89 340.07 
L 410.23 339.28 
L 413.57 338.71 
L 417.18 338.33 
L 421.08 338.17 
L 425.25 338.22 
L 429.98 338.51 
L 435.54 339.07 
L 442.77 340.05 
L 454.73 341.92 
L 475.87 345.23 
L 489.78 347.15 
L 503.68 348.85 
L 518.43 350.43 
L 534.56 351.93 
L 552.36 353.35 
L 572.11 354.7 
L 581.84 355.29 
L 581.84 355.29 
" clip-path="url(#pd65109ea71)" style="fill: none; stroke: #ffa500; stroke-width: 1.5; stroke-linecap: square"/>
</g>
<g id="line2d_72">
<path d="M 359.61 373.75 
L 360.72 372.22 
L 363.5 368.9 
L 367.67 364.27 
L 372.68 359.04 
L 377.13 354.7 
L 381.3 350.93 
L 384.92 347.95 
L 388.53 345.26 
L 391.87 343.06 
L 394.93 341.3 
L 397.99 339.77 
L 401.05 338.49 
L 404.11 337.43 
L 407.45 336.52 
L 410.78 335.85 
L 414.4 335.36 
L 418.29 335.07 
L 422.47 335 
L 427.19 335.14 
L 432.48 335.53 
L 439.15 336.26 
L 447.78 337.44 
L 464.19 339.96 
L 483.94 342.91 
L 499.23 344.97 
L 514.53 346.81 
L 530.66 348.52 
L 547.91 350.12 
L 566.82 351.64 
L 581.84 352.71 
L 581.84 352.71 
" clip-path="url(#pd65109ea71)" style="fill: none; stroke-dasharray: 5.55,2.4; stroke-dashoffset: 0; stroke: #ffa500; stroke-width: 1.5"/>
</g>
<g id="line2d_73">
<path d="M 359.61 373.75 
L 360.44 369.51 
L 361 368.09 
L 361.83 366.77 
L 362.67 365.83 
L 365.73 363.07 
L 367.67 361.57 
L 369.9 360.15 
L 372.12 358.99 
L 375.74 357.32 
L 381.02 354.44 
L 384.92 352.78 
L 390.76 350.52 
L 397.71 348.07 
L 405.78 345.48 
L 414.96 342.77 
L 425.25 339.98 
L 436.65 337.11 
L 449.17 334.19 
L 462.8 331.25 
L 477.26 328.36 
L 492.28 325.59 
L 507.86 322.94 
L 523.99 320.42 
L 540.4 318.08 
L 557.09 315.94 
L 573.78 314.01 
L 581.84 313.16 
L 581.84 313.16 
" clip-path="url(#pd65109ea71)" style="fill: none; stroke: #0000ff; stroke-width: 1.5; stroke-linecap: square"/>
</g>
<g id="line2d_74">
<path d="M 359.61 366.45 
L 361.27 358.21 
L 362.11 355.8 
L 363.22 353.36 
L 364.61 350.59 
L 366.28 346.9 
L 367.95 343.86 
L 371.29 334.9 
L 372.96 330.57 
L 373.79 328.17 
L 374.9 324.95 
L 377.13 319.35 
L 383.53 304.35 
L 387.98 294.37 
L 392.15 285.54 
L 396.32 277.25 
L 400.21 269.99 
L 404.11 263.2 
L 408 256.85 
L 411.9 250.93 
L 415.79 245.43 
L 419.68 240.32 
L 423.58 235.59 
L 427.47 231.22 
L 431.37 227.18 
L 435.26 223.45 
L 439.15 220.02 
L 443.33 216.64 
L 447.5 213.55 
L 451.67 210.74 
L 456.12 208 
L 460.57 205.52 
L 465.3 203.13 
L 470.31 200.86 
L 475.59 198.71 
L 481.15 196.69 
L 487 194.8 
L 493.39 192.97 
L 500.35 191.21 
L 508.13 189.46 
L 516.76 187.77 
L 526.49 186.09 
L 536.78 184.54 
L 547.35 183.16 
L 557.37 182.09 
L 566.27 181.35 
L 574.33 180.9 
L 581.56 180.71 
L 581.84 180.71 
L 581.84 180.71 
" clip-path="url(#pd65109ea71)" style="fill: none; stroke-dasharray: 1.5,2.48; stroke-dashoffset: 0; stroke: #000000; stroke-width: 1.5"/>
</g>
<g id="line2d_75">
<path d="M 365.94 373.75 
L 369.46 362.01 
L 372.97 351.06 
L 376.48 340.87 
L 380 331.39 
L 383.51 322.57 
L 387.02 314.39 
L 390.53 306.79 
L 394.05 299.75 
L 397.56 293.23 
L 401.07 287.2 
L 404.58 281.62 
L 408.1 276.48 
L 411.61 271.73 
L 415.12 267.35 
L 418.64 263.33 
L 422.15 259.62 
L 425.66 256.23 
L 429.44 252.88 
L 433.23 249.84 
L 437.01 247.07 
L 441.06 244.4 
L 445.12 242 
L 449.17 239.85 
L 453.49 237.81 
L 457.82 236.01 
L 462.41 234.33 
L 467.27 232.81 
L 472.14 231.52 
L 477.27 230.37 
L 482.67 229.4 
L 488.35 228.61 
L 494.29 228.01 
L 500.51 227.6 
L 506.99 227.4 
L 513.75 227.42 
L 520.77 227.65 
L 528.34 228.13 
L 536.45 228.87 
L 545.36 229.92 
L 555.63 231.36 
L 572.92 234.06 
L 581.84 235.39 
L 581.84 235.39 
" clip-path="url(#pd65109ea71)" style="fill: none; stroke: #000000; stroke-width: 1.5; stroke-linecap: square"/>
</g>
<g id="line2d_76">
<path d="M 364.66 373.75 
L 364.93 369.65 
L 365.48 366.22 
L 366.56 361.26 
L 368.2 355.15 
L 370.37 347.99 
L 373.09 339.89 
L 376.08 331.7 
L 379.34 323.46 
L 382.6 315.83 
L 385.86 308.75 
L 389.13 302.17 
L 392.39 296.05 
L 395.92 289.9 
L 399.45 284.22 
L 402.99 278.98 
L 406.52 274.13 
L 410.05 269.66 
L 413.59 265.53 
L 417.12 261.73 
L 420.93 257.98 
L 424.73 254.54 
L 428.54 251.4 
L 432.34 248.54 
L 436.42 245.76 
L 440.5 243.24 
L 444.85 240.82 
L 449.2 238.66 
L 453.82 236.61 
L 458.44 234.81 
L 463.33 233.12 
L 468.5 231.58 
L 473.93 230.19 
L 479.64 228.96 
L 485.62 227.9 
L 491.87 227.01 
L 498.39 226.3 
L 505.19 225.79 
L 512.26 225.49 
L 519.32 225.41 
L 526.39 225.56 
L 533.19 225.92 
L 539.71 226.48 
L 545.96 227.24 
L 552.21 228.22 
L 558.19 229.39 
L 563.9 230.74 
L 569.34 232.26 
L 574.5 233.93 
L 579.67 235.84 
L 581.84 236.72 
L 581.84 236.72 
" clip-path="url(#pd65109ea71)" style="fill: none; stroke: #ff0000; stroke-opacity: 0.25; stroke-width: 1.5; stroke-linecap: square"/>
</g>
<g id="line2d_77">
<path d="M 449.28 384.48 L 449.28 51.84" clip-path="url(#pd65109ea71)" style="fill: none; stroke-dasharray: 1.5,2.48; stroke-dashoffset: 0; stroke: #1f77b4; stroke-width: 1.5"/>
</g>
<g id="line2d_78">
<path d="M 354.96 210.96 L 583.2 210.96" clip-path="url(#pd65109ea71)" style="fill: none; stroke: #1f77b4; stroke-width: 1.5; stroke-linecap: square"/>
</g>
<g id="patch_10">
<path d="M 355.32 384.84 L 355.32 52.2" style="fill: none; stroke: #000000; stroke-width: 0.8; stroke-linejoin: miter; stroke-linecap: square"/>
</g>
<g id="patch_11">
<path d="M 583.56 384.84 L 583.56 52.2" style="fill: none; stroke: #000000; stroke-width: 0.8; stroke-linejoin: miter; stroke-linecap: square"/>
</g>
<g id="patch_12">
<path d="M 355.32 384.84 L 583.56 384.84" style="fill: none; stroke: #000000; stroke-width: 0.8; stroke-linejoin: miter; stroke-linecap: square"/>
</g>
<g id="patch_13">
<path d="M 355.32 52.2 L 583.56 52.2" style="fill: none; stroke: #000000; stroke-width: 0.8; stroke-linejoin: miter; stroke-linecap: square"/>
</g>
<g id="text_29">
<text style="font-size: 10.30px; font-family: 'Liberation Sans', sans-serif; text-anchor: start; fill: #222222" y="68.47" transform="rotate(-0 469.06 68.47)"><tspan x="469.06" textLength="6.84" lengthAdjust="spacingAndGlyphs">V</tspan><tspan x="475.9" textLength="3.9" lengthAdjust="spacingAndGlyphs">(</tspan><tspan x="479.86" textLength="6.36" lengthAdjust="spacingAndGlyphs">2</tspan><tspan x="486.16" textLength="3.18" lengthAdjust="spacingAndGlyphs">.</tspan><tspan x="489.31" textLength="6.36" lengthAdjust="spacingAndGlyphs">2</tspan><tspan x="498.76" textLength="6.95" lengthAdjust="spacingAndGlyphs">R</tspan><tspan x="505.69" textLength="6.35" lengthAdjust="spacingAndGlyphs">d</tspan><tspan x="512.08" textLength="3.9" lengthAdjust="spacingAndGlyphs">)</tspan><tspan x="519.1" textLength="6.36" lengthAdjust="spacingAndGlyphs">1</tspan><tspan x="525.49" textLength="6.36" lengthAdjust="spacingAndGlyphs">0</tspan><tspan x="531.79" textLength="6.36" lengthAdjust="spacingAndGlyphs">1</tspan><tspan x="541.33" textLength="5.79" lengthAdjust="spacingAndGlyphs">k</tspan><tspan x="547.18" textLength="9.74" lengthAdjust="spacingAndGlyphs">m</tspan><tspan x="556.9" textLength="3.37" lengthAdjust="spacingAndGlyphs">/</tspan><tspan x="560.23" textLength="5.21" lengthAdjust="spacingAndGlyphs">s</tspan></text>
</g>
<g id="text_30">
<text style="font-size: 10.30px; font-family: 'Liberation Sans', sans-serif; text-anchor: start; fill: #222222" y="85.1" transform="rotate(-0 469.06 85.1)"><tspan x="469.06" textLength="6.84" lengthAdjust="spacingAndGlyphs">V</tspan><tspan x="475.9" textLength="5.92" lengthAdjust="spacingAndGlyphs">v</tspan><tspan x="481.84" textLength="2.78" lengthAdjust="spacingAndGlyphs">i</tspan><tspan x="484.63" textLength="4.11" lengthAdjust="spacingAndGlyphs">r</tspan><tspan x="491.92" textLength="6.36" lengthAdjust="spacingAndGlyphs">1</tspan><tspan x="498.31" textLength="6.36" lengthAdjust="spacingAndGlyphs">5</tspan><tspan x="504.61" textLength="6.36" lengthAdjust="spacingAndGlyphs">2</tspan><tspan x="514.06" textLength="3.9" lengthAdjust="spacingAndGlyphs">[</tspan><tspan x="518.02" textLength="5.79" lengthAdjust="spacingAndGlyphs">k</tspan><tspan x="523.87" textLength="9.74" lengthAdjust="spacingAndGlyphs">m</tspan><tspan x="533.59" textLength="3.37" lengthAdjust="spacingAndGlyphs">/</tspan><tspan x="536.92" textLength="5.21" lengthAdjust="spacingAndGlyphs">s</tspan><tspan x="542.05" textLength="3.9" lengthAdjust="spacingAndGlyphs">]</tspan></text>
</g>
<g id="text_31">
<text style="font-size: 10.30px; font-family: 'Liberation Sans', sans-serif; text-anchor: start; fill: #222222" y="101.74" transform="rotate(-0 469.06 101.74)"><tspan x="469.06" textLength="8.63" lengthAdjust="spacingAndGlyphs">M</tspan><tspan x="477.7" textLength="5.92" lengthAdjust="spacingAndGlyphs">v</tspan><tspan x="483.64" textLength="2.78" lengthAdjust="spacingAndGlyphs">i</tspan><tspan x="486.43" textLength="4.11" lengthAdjust="spacingAndGlyphs">r</tspan><tspan x="493.72" textLength="6.36" lengthAdjust="spacingAndGlyphs">1</tspan><tspan x="500.11" textLength="6.36" lengthAdjust="spacingAndGlyphs">1</tspan><tspan x="506.5" textLength="3.18" lengthAdjust="spacingAndGlyphs">.</tspan><tspan x="509.65" textLength="6.36" lengthAdjust="spacingAndGlyphs">7</tspan><tspan x="515.95" textLength="6.36" lengthAdjust="spacingAndGlyphs">7</tspan><tspan x="525.4" textLength="3.9" lengthAdjust="spacingAndGlyphs">[</tspan><tspan x="529.36" textLength="2.78" lengthAdjust="spacingAndGlyphs">l</tspan><tspan x="532.15" textLength="6.12" lengthAdjust="spacingAndGlyphs">o</tspan><tspan x="538.27" textLength="6.35" lengthAdjust="spacingAndGlyphs">g</tspan><tspan x="547.81" textLength="8.63" lengthAdjust="spacingAndGlyphs">M</tspan><tspan x="556.45" textLength="5.21" lengthAdjust="spacingAndGlyphs">s</tspan><tspan x="561.58" textLength="6.34" lengthAdjust="spacingAndGlyphs">u</tspan><tspan x="567.88" textLength="6.34" lengthAdjust="spacingAndGlyphs">n</tspan><tspan x="574.18" textLength="3.9" lengthAdjust="spacingAndGlyphs">]</tspan></text>
</g>
<g id="text_32">
<text style="font-size: 10.30px; font-family: 'Liberation Sans', sans-serif; text-anchor: start; fill: #222222" y="118.37" transform="rotate(-0 469.06 118.37)"><tspan x="469.06" textLength="6.95" lengthAdjust="spacingAndGlyphs">R</tspan><tspan x="475.99" textLength="5.92" lengthAdjust="spacingAndGlyphs">v</tspan><tspan x="481.93" textLength="2.78" lengthAdjust="spacingAndGlyphs">i</tspan><tspan x="484.72" textLength="4.11" lengthAdjust="spacingAndGlyphs">r</tspan><tspan x="492.01" textLength="6.36" lengthAdjust="spacingAndGlyphs">1</tspan><tspan x="498.4" textLength="6.36" lengthAdjust="spacingAndGlyphs">0</tspan><tspan x="504.7" textLength="6.36" lengthAdjust="spacingAndGlyphs">9</tspan><tspan x="514.24" textLength="3.9" lengthAdjust="spacingAndGlyphs">[</tspan><tspan x="518.2" textLength="5.79" lengthAdjust="spacingAndGlyphs">k</tspan><tspan x="524.05" textLength="6.35" lengthAdjust="spacingAndGlyphs">p</tspan><tspan x="530.44" textLength="5.5" lengthAdjust="spacingAndGlyphs">c</tspan><tspan x="535.93" textLength="3.9" lengthAdjust="spacingAndGlyphs">]</tspan></text>
</g>
<g id="text_33">
<text style="font-size: 10.30px; font-family: 'Liberation Sans', sans-serif; text-anchor: start; fill: #222222" y="135" transform="rotate(-0 469.06 135)"><tspan x="469.06" textLength="8.63" lengthAdjust="spacingAndGlyphs">M</tspan><tspan x="477.7" textLength="6.35" lengthAdjust="spacingAndGlyphs">d</tspan><tspan x="484.09" textLength="2.78" lengthAdjust="spacingAndGlyphs">i</tspan><tspan x="486.88" textLength="5.21" lengthAdjust="spacingAndGlyphs">s</tspan><tspan x="492.01" textLength="5.79" lengthAdjust="spacingAndGlyphs">k</tspan><tspan x="501.01" textLength="6.36" lengthAdjust="spacingAndGlyphs">9</tspan><tspan x="507.4" textLength="3.18" lengthAdjust="spacingAndGlyphs">.</tspan><tspan x="510.55" textLength="6.36" lengthAdjust="spacingAndGlyphs">2</tspan><tspan x="516.85" textLength="6.36" lengthAdjust="spacingAndGlyphs">9</tspan><tspan x="526.39" textLength="3.9" lengthAdjust="spacingAndGlyphs">[</tspan><tspan x="530.35" textLength="2.78" lengthAdjust="spacingAndGlyphs">l</tspan><tspan x="533.14" textLength="6.12" lengthAdjust="spacingAndGlyphs">o</tspan><tspan x="539.26" textLength="6.35" lengthAdjust="spacingAndGlyphs">g</tspan><tspan x="548.8" textLength="8.63" lengthAdjust="spacingAndGlyphs">M</tspan><tspan x="557.44" textLength="5.21" lengthAdjust="spacingAndGlyphs">s</tspan><tspan x="562.57" textLength="6.34" lengthAdjust="spacingAndGlyphs">u</tspan><tspan x="568.87" textLength="6.34" lengthAdjust="spacingAndGlyphs">n</tspan><tspan x="575.17" textLength="3.9" lengthAdjust="spacingAndGlyphs">]</tspan></text>
</g>
<g id="text_34">
<text style="font-size: 10.30px; font-family: 'Liberation Sans', sans-serif; text-anchor: start; fill: #222222" y="45.84" transform="rotate(-0 469.06 45.84)"><tspan x="373.39" textLength="8.63" lengthAdjust="spacingAndGlyphs">M</tspan><tspan x="382.03" textLength="6.35" lengthAdjust="spacingAndGlyphs">d</tspan><tspan x="388.42" textLength="5.92" lengthAdjust="spacingAndGlyphs">y</tspan><tspan x="394.36" textLength="6.34" lengthAdjust="spacingAndGlyphs">n</tspan><tspan x="400.66" textLength="3.9" lengthAdjust="spacingAndGlyphs">(</tspan><tspan x="404.62" textLength="6.95" lengthAdjust="spacingAndGlyphs">R</tspan><tspan x="411.1" textLength="6.15" lengthAdjust="spacingAndGlyphs">e</tspan><tspan x="417.22" textLength="3.9" lengthAdjust="spacingAndGlyphs">)</tspan><tspan x="424.24" textLength="8.38" lengthAdjust="spacingAndGlyphs">=</tspan><tspan x="435.76" textLength="6.36" lengthAdjust="spacingAndGlyphs">9</tspan><tspan x="442.15" textLength="3.18" lengthAdjust="spacingAndGlyphs">.</tspan><tspan x="445.3" textLength="6.36" lengthAdjust="spacingAndGlyphs">9</tspan><tspan x="451.69" textLength="6.36" lengthAdjust="spacingAndGlyphs">9</tspan><tspan x="464.38" textLength="8.63" lengthAdjust="spacingAndGlyphs">M</tspan><tspan x="473.02" textLength="6.35" lengthAdjust="spacingAndGlyphs">d</tspan><tspan x="479.41" textLength="5.92" lengthAdjust="spacingAndGlyphs">y</tspan><tspan x="485.35" textLength="6.34" lengthAdjust="spacingAndGlyphs">n</tspan><tspan x="491.65" textLength="3.9" lengthAdjust="spacingAndGlyphs">(</tspan><tspan x="495.61" textLength="6.36" lengthAdjust="spacingAndGlyphs">2</tspan><tspan x="501.91" textLength="6.95" lengthAdjust="spacingAndGlyphs">R</tspan><tspan x="508.39" textLength="6.15" lengthAdjust="spacingAndGlyphs">e</tspan><tspan x="514.51" textLength="3.9" lengthAdjust="spacingAndGlyphs">)</tspan><tspan x="521.53" textLength="8.38" lengthAdjust="spacingAndGlyphs">=</tspan><tspan x="533.05" textLength="6.36" lengthAdjust="spacingAndGlyphs">1</tspan><tspan x="539.44" textLength="6.36" lengthAdjust="spacingAndGlyphs">0</tspan><tspan x="545.74" textLength="3.18" lengthAdjust="spacingAndGlyphs">.</tspan><tspan x="548.89" textLength="6.36" lengthAdjust="spacingAndGlyphs">6</tspan><tspan x="555.28" textLength="6.36" lengthAdjust="spacingAndGlyphs">4</tspan></text>
</g>
<g id="legend_2">
<g id="patch_14">
<path d="M 376.92 379.8 L 576.36 379.8 Q 578.52 379.8 578.52 377.64 L 578.52 227.88 Q 578.52 225.72 576.36 225.72 L 376.92 225.72 Q 375.48 225.72 375.48 227.88 L 375.48 377.64 Q 375.48 379.8 376.92 379.8 z" style="fill: #ffffff; opacity: 0.8; stroke: #cccccc; stroke-linejoin: miter"/>
</g>
<g id="patch_15">
<path d="M 379.08 237.24 L 399.24 237.24 L 399.24 230.76 L 379.08 230.76 z" style="fill: #808080; fill-opacity: 0.5; stroke: #808080; stroke-opacity: 0.5; stroke-linejoin: miter"/>
</g>
<g id="text_35">
<text style="font-size: 10.30px; font-family: 'Liberation Sans', sans-serif; text-anchor: start; fill: #222222" y="237.2" transform="rotate(-0 406.79 237.2)"><tspan x="406.79" textLength="6.98" lengthAdjust="spacingAndGlyphs">C</tspan><tspan x="413.81" textLength="5.57" lengthAdjust="spacingAndGlyphs">L</tspan><tspan x="422.54" textLength="6.36" lengthAdjust="spacingAndGlyphs">9</tspan><tspan x="428.93" textLength="6.36" lengthAdjust="spacingAndGlyphs">5</tspan><tspan x="435.23" textLength="9.5" lengthAdjust="spacingAndGlyphs">%</tspan></text>
</g>
<g id="line2d_79">
<path d="M 378.72 250.56 L 388.8 250.56 L 398.88 250.56" style="fill: none; stroke: #008000; stroke-width: 1.5; stroke-linecap: square"/>
</g>
<g id="text_36">
<g transform="translate(406.79 253.72)">
<text>
<tspan x="0" y="-0.41" style="font-style: italic; font-size: 10.30px; font-family: 'Liberation Sans', sans-serif; fill: #222222" textLength="5.92" lengthAdjust="spacingAndGlyphs">v</tspan>
<tspan x="21.52" y="-0.41" style="font-style: italic; font-size: 10.30px; font-family: 'Liberation Sans', sans-serif; fill: #222222" textLength="4.11" lengthAdjust="spacingAndGlyphs">r</tspan>
<tspan x="5.92" y="1.23" style="font-style: italic; font-size: 7.21px; font-family: 'Liberation Sans', sans-serif; fill: #222222" textLength="5.39" lengthAdjust="spacingAndGlyphs">D</tspan>
<tspan x="11.31" y="1.23" style="font-style: italic; font-size: 7.21px; font-family: 'Liberation Sans', sans-serif; fill: #222222" textLength="6.04" lengthAdjust="spacingAndGlyphs">M</tspan>
<tspan x="17.62" y="-0.41" style="font-size: 10.30px; font-family: 'Liberation Sans', sans-serif; fill: #222222" textLength="3.90" lengthAdjust="spacingAndGlyphs">(</tspan>
<tspan x="25.63" y="-0.41" style="font-size: 10.30px; font-family: 'Liberation Sans', sans-serif; fill: #222222" textLength="3.90" lengthAdjust="spacingAndGlyphs">)</tspan>
<tspan x="29.54" y="-0.41" style="font-size: 10.30px; font-family: 'Liberation Sans', sans-serif; fill: #222222"> </tspan>
<tspan x="32.71" y="-0.41" style="font-size: 10.30px; font-family: 'Liberation Sans', sans-serif; fill: #222222" textLength="7.70" lengthAdjust="spacingAndGlyphs">D</tspan>
<tspan x="40.41" y="-0.41" style="font-size: 10.30px; font-family: 'Liberation Sans', sans-serif; fill: #222222" textLength="6.98" lengthAdjust="spacingAndGlyphs">C</tspan>
<tspan x="47.4" y="-0.41" style="font-size: 10.30px; font-family: 'Liberation Sans', sans-serif; fill: #222222" textLength="6.36" lengthAdjust="spacingAndGlyphs">1</tspan>
<tspan x="53.76" y="-0.41" style="font-size: 10.30px; font-family: 'Liberation Sans', sans-serif; fill: #222222" textLength="6.36" lengthAdjust="spacingAndGlyphs">4</tspan>
</text>
</g>
</g>
<g id="line2d_80">
<path d="M 378.72 267.84 L 388.8 267.84 L 398.88 267.84" style="fill: none; stroke: #ffa500; stroke-width: 1.5; stroke-linecap: square"/>
</g>
<g id="text_37">
<g transform="translate(406.79 271.25)">
<text>
<tspan x="0" y="-0.41" style="font-style: italic; font-size: 10.30px; font-family: 'Liberation Sans', sans-serif; fill: #222222" textLength="5.92" lengthAdjust="spacingAndGlyphs">v</tspan>
<tspan x="14.54" y="-0.41" style="font-style: italic; font-size: 10.30px; font-family: 'Liberation Sans', sans-serif; fill: #222222" textLength="4.11" lengthAdjust="spacingAndGlyphs">r</tspan>
<tspan x="5.92" y="1.23" style="font-style: italic; font-size: 7.21px; font-family: 'Liberation Sans', sans-serif; fill: #222222" textLength="4.44" lengthAdjust="spacingAndGlyphs">d</tspan>
<tspan x="10.63" y="-0.41" style="font-size: 10.30px; font-family: 'Liberation Sans', sans-serif; fill: #222222" textLength="3.90" lengthAdjust="spacingAndGlyphs">(</tspan>
<tspan x="18.65" y="-0.41" style="font-size: 10.30px; font-family: 'Liberation Sans', sans-serif; fill: #222222" textLength="3.90" lengthAdjust="spacingAndGlyphs">)</tspan>
<tspan x="22.55" y="-0.41" style="font-size: 10.30px; font-family: 'Liberation Sans', sans-serif; fill: #222222"> </tspan>
<tspan x="25.73" y="-0.41" style="font-size: 10.30px; font-family: 'Liberation Sans', sans-serif; fill: #222222" textLength="8.63" lengthAdjust="spacingAndGlyphs">M</tspan>
<tspan x="34.36" y="-0.41" style="font-size: 10.30px; font-family: 'Liberation Sans', sans-serif; fill: #222222" textLength="7.75" lengthAdjust="spacingAndGlyphs">G</tspan>
<tspan x="42.1" y="-0.41" style="font-size: 10.30px; font-family: 'Liberation Sans', sans-serif; fill: #222222" textLength="6.32" lengthAdjust="spacingAndGlyphs">E</tspan>
</text>
</g>
</g>
<g id="line2d_81">
<path d="M 378.72 285.12 L 388.8 285.12 L 398.88 285.12" style="fill: none; stroke: #0000ff; stroke-width: 1.5; stroke-linecap: square"/>
</g>
<g id="text_38">
<g transform="translate(406.79 288.7)">
<text>
<tspan x="0" y="-0.41" style="font-style: italic; font-size: 10.30px; font-family: 'Liberation Sans', sans-serif; fill: #222222" textLength="5.92" lengthAdjust="spacingAndGlyphs">v</tspan>
<tspan x="14.54" y="-0.41" style="font-style: italic; font-size: 10.30px; font-family: 'Liberation Sans', sans-serif; fill: #222222" textLength="4.11" lengthAdjust="spacingAndGlyphs">r</tspan>
<tspan x="5.92" y="1.23" style="font-style: italic; font-size: 7.21px; font-family: 'Liberation Sans', sans-serif; fill: #222222" textLength="4.44" lengthAdjust="spacingAndGlyphs">g</tspan>
<tspan x="10.63" y="-0.41" style="font-size: 10.30px; font-family: 'Liberation Sans', sans-serif; fill: #222222" textLength="3.90" lengthAdjust="spacingAndGlyphs">(</tspan>
<tspan x="18.65" y="-0.41" style="font-size: 10.30px; font-family: 'Liberation Sans', sans-serif; fill: #222222" textLength="3.90" lengthAdjust="spacingAndGlyphs">)</tspan>
<tspan x="22.55" y="-0.41" style="font-size: 10.30px; font-family: 'Liberation Sans', sans-serif; fill: #222222"> </tspan>
<tspan x="25.73" y="-0.41" style="font-size: 10.30px; font-family: 'Liberation Sans', sans-serif; fill: #222222" textLength="5.21" lengthAdjust="spacingAndGlyphs">s</tspan>
<tspan x="30.94" y="-0.41" style="font-size: 10.30px; font-family: 'Liberation Sans', sans-serif; fill: #222222" textLength="6.35" lengthAdjust="spacingAndGlyphs">g</tspan>
<tspan x="37.29" y="-0.41" style="font-size: 10.30px; font-family: 'Liberation Sans', sans-serif; fill: #222222" textLength="6.13" lengthAdjust="spacingAndGlyphs">a</tspan>
<tspan x="43.41" y="-0.41" style="font-size: 10.30px; font-family: 'Liberation Sans', sans-serif; fill: #222222" textLength="5.21" lengthAdjust="spacingAndGlyphs">s</tspan>
</text>
</g>
</g>
<g id="line2d_82">
<path d="M 378.72 303.84 L 388.8 303.84 L 398.88 303.84" style="fill: none; stroke-dasharray: 1.5,2.48; stroke-dashoffset: 0; stroke: #000000; stroke-width: 1.5"/>
</g>
<g id="text_39">
<g transform="translate(406.79 307.67)">
<text>
<tspan x="0" y="-0.41" style="font-style: italic; font-size: 10.30px; font-family: 'Liberation Sans', sans-serif; fill: #222222" textLength="5.92" lengthAdjust="spacingAndGlyphs">v</tspan>
<tspan x="13.94" y="-0.41" style="font-style: italic; font-size: 10.30px; font-family: 'Liberation Sans', sans-serif; fill: #222222" textLength="4.11" lengthAdjust="spacingAndGlyphs">r</tspan>
<tspan x="5.92" y="1.23" style="font-style: italic; font-size: 7.21px; font-family: 'Liberation Sans', sans-serif; fill: #222222" textLength="3.85" lengthAdjust="spacingAndGlyphs">c</tspan>
<tspan x="10.04" y="-0.41" style="font-size: 10.30px; font-family: 'Liberation Sans', sans-serif; fill: #222222" textLength="3.90" lengthAdjust="spacingAndGlyphs">(</tspan>
<tspan x="18.05" y="-0.41" style="font-size: 10.30px; font-family: 'Liberation Sans', sans-serif; fill: #222222" textLength="3.90" lengthAdjust="spacingAndGlyphs">)</tspan>
<tspan x="21.95" y="-0.41" style="font-size: 10.30px; font-family: 'Liberation Sans', sans-serif; fill: #222222"> </tspan>
<tspan x="25.13" y="-0.41" style="font-size: 10.30px; font-family: 'Liberation Sans', sans-serif; fill: #222222" textLength="8.18" lengthAdjust="spacingAndGlyphs">w</tspan>
<tspan x="33.31" y="-0.41" style="font-size: 10.30px; font-family: 'Liberation Sans', sans-serif; fill: #222222" textLength="2.78" lengthAdjust="spacingAndGlyphs">i</tspan>
<tspan x="36.09" y="-0.41" style="font-size: 10.30px; font-family: 'Liberation Sans', sans-serif; fill: #222222" textLength="3.92" lengthAdjust="spacingAndGlyphs">t</tspan>
<tspan x="40.01" y="-0.41" style="font-size: 10.30px; font-family: 'Liberation Sans', sans-serif; fill: #222222" textLength="6.34" lengthAdjust="spacingAndGlyphs">h</tspan>
<tspan x="46.35" y="-0.41" style="font-size: 10.30px; font-family: 'Liberation Sans', sans-serif; fill: #222222" textLength="6.12" lengthAdjust="spacingAndGlyphs">o</tspan>
<tspan x="52.47" y="-0.41" style="font-size: 10.30px; font-family: 'Liberation Sans', sans-serif; fill: #222222" textLength="6.34" lengthAdjust="spacingAndGlyphs">u</tspan>
<tspan x="58.8" y="-0.41" style="font-size: 10.30px; font-family: 'Liberation Sans', sans-serif; fill: #222222" textLength="3.92" lengthAdjust="spacingAndGlyphs">t</tspan>
<tspan x="62.73" y="-0.41" style="font-size: 10.30px; font-family: 'Liberation Sans', sans-serif; fill: #222222"> </tspan>
<tspan x="65.9" y="-0.41" style="font-size: 10.30px; font-family: 'Liberation Sans', sans-serif; fill: #222222" textLength="6.84" lengthAdjust="spacingAndGlyphs">A</tspan>
<tspan x="72.75" y="-0.41" style="font-size: 10.30px; font-family: 'Liberation Sans', sans-serif; fill: #222222" textLength="7.70" lengthAdjust="spacingAndGlyphs">D</tspan>
<tspan x="80.45" y="-0.41" style="font-size: 10.30px; font-family: 'Liberation Sans', sans-serif; fill: #222222" textLength="6.98" lengthAdjust="spacingAndGlyphs">C</tspan>
<tspan x="87.43" y="-0.41" style="font-size: 10.30px; font-family: 'Liberation Sans', sans-serif; fill: #222222"> </tspan>
<tspan x="90.61" y="-0.41" style="font-size: 10.30px; font-family: 'Liberation Sans', sans-serif; fill: #222222" textLength="3.90" lengthAdjust="spacingAndGlyphs">(</tspan>
<tspan x="94.51" y="-0.41" style="font-size: 10.30px; font-family: 'Liberation Sans', sans-serif; fill: #222222" textLength="7.70" lengthAdjust="spacingAndGlyphs">D</tspan>
<tspan x="102.21" y="-0.41" style="font-size: 10.30px; font-family: 'Liberation Sans', sans-serif; fill: #222222" textLength="6.13" lengthAdjust="spacingAndGlyphs">a</tspan>
<tspan x="108.34" y="-0.41" style="font-size: 10.30px; font-family: 'Liberation Sans', sans-serif; fill: #222222" textLength="2.78" lengthAdjust="spacingAndGlyphs">l</tspan>
<tspan x="111.11" y="-0.41" style="font-size: 10.30px; font-family: 'Liberation Sans', sans-serif; fill: #222222" textLength="5.50" lengthAdjust="spacingAndGlyphs">c</tspan>
<tspan x="116.61" y="-0.41" style="font-size: 10.30px; font-family: 'Liberation Sans', sans-serif; fill: #222222" textLength="6.13" lengthAdjust="spacingAndGlyphs">a</tspan>
<tspan x="122.74" y="-0.41" style="font-size: 10.30px; font-family: 'Liberation Sans', sans-serif; fill: #222222" textLength="6.34" lengthAdjust="spacingAndGlyphs">n</tspan>
<tspan x="129.08" y="-0.41" style="font-size: 10.30px; font-family: 'Liberation Sans', sans-serif; fill: #222222" textLength="3.92" lengthAdjust="spacingAndGlyphs">t</tspan>
<tspan x="133" y="-0.41" style="font-size: 10.30px; font-family: 'Liberation Sans', sans-serif; fill: #222222" textLength="6.12" lengthAdjust="spacingAndGlyphs">o</tspan>
<tspan x="139.12" y="-0.41" style="font-size: 10.30px; font-family: 'Liberation Sans', sans-serif; fill: #222222" textLength="6.34" lengthAdjust="spacingAndGlyphs">n</tspan>
<tspan x="145.46" y="-0.41" style="font-size: 10.30px; font-family: 'Liberation Sans', sans-serif; fill: #222222" textLength="5.75" lengthAdjust="spacingAndGlyphs">F</tspan>
<tspan x="151.21" y="-0.41" style="font-size: 10.30px; font-family: 'Liberation Sans', sans-serif; fill: #222222" textLength="6.34" lengthAdjust="spacingAndGlyphs">u</tspan>
<tspan x="157.54" y="-0.41" style="font-size: 10.30px; font-family: 'Liberation Sans', sans-serif; fill: #222222" textLength="2.78" lengthAdjust="spacingAndGlyphs">l</tspan>
<tspan x="160.32" y="-0.41" style="font-size: 10.30px; font-family: 'Liberation Sans', sans-serif; fill: #222222" textLength="2.78" lengthAdjust="spacingAndGlyphs">l</tspan>
<tspan x="163.1" y="-0.41" style="font-size: 10.30px; font-family: 'Liberation Sans', sans-serif; fill: #222222" textLength="3.90" lengthAdjust="spacingAndGlyphs">)</tspan>
</text>
</g>
</g>
<g id="line2d_83">
<path d="M 378.72 321.84 L 388.8 321.84 L 398.88 321.84" style="fill: none; stroke: #000000; stroke-width: 1.5; stroke-linecap: square"/>
</g>
<g id="text_40">
<g transform="translate(406.79 325.2)">
<text>
<tspan x="0" y="-0.41" style="font-style: italic; font-size: 10.30px; font-family: 'Liberation Sans', sans-serif; fill: #222222" textLength="5.92" lengthAdjust="spacingAndGlyphs">v</tspan>
<tspan x="9.82" y="-0.41" style="font-style: italic; font-size: 10.30px; font-family: 'Liberation Sans', sans-serif; fill: #222222" textLength="4.11" lengthAdjust="spacingAndGlyphs">r</tspan>
<tspan x="5.92" y="-0.41" style="font-size: 10.30px; font-family: 'Liberation Sans', sans-serif; fill: #222222" textLength="3.90" lengthAdjust="spacingAndGlyphs">(</tspan>
<tspan x="13.93" y="-0.41" style="font-size: 10.30px; font-family: 'Liberation Sans', sans-serif; fill: #222222" textLength="3.90" lengthAdjust="spacingAndGlyphs">)</tspan>
<tspan x="17.83" y="-0.41" style="font-size: 10.30px; font-family: 'Liberation Sans', sans-serif; fill: #222222"> </tspan>
<tspan x="21.01" y="-0.41" style="font-size: 10.30px; font-family: 'Liberation Sans', sans-serif; fill: #222222" textLength="7.70" lengthAdjust="spacingAndGlyphs">D</tspan>
<tspan x="28.71" y="-0.41" style="font-size: 10.30px; font-family: 'Liberation Sans', sans-serif; fill: #222222" textLength="6.98" lengthAdjust="spacingAndGlyphs">C</tspan>
<tspan x="35.69" y="-0.41" style="font-size: 10.30px; font-family: 'Liberation Sans', sans-serif; fill: #222222" textLength="6.36" lengthAdjust="spacingAndGlyphs">1</tspan>
<tspan x="42.06" y="-0.41" style="font-size: 10.30px; font-family: 'Liberation Sans', sans-serif; fill: #222222" textLength="6.36" lengthAdjust="spacingAndGlyphs">4</tspan>
<tspan x="48.42" y="-0.41" style="font-size: 10.30px; font-family: 'Liberation Sans', sans-serif; fill: #222222" textLength="8.63" lengthAdjust="spacingAndGlyphs">M</tspan>
<tspan x="57.05" y="-0.41" style="font-size: 10.30px; font-family: 'Liberation Sans', sans-serif; fill: #222222" textLength="7.75" lengthAdjust="spacingAndGlyphs">G</tspan>
<tspan x="64.79" y="-0.41" style="font-size: 10.30px; font-family: 'Liberation Sans', sans-serif; fill: #222222" textLength="6.32" lengthAdjust="spacingAndGlyphs">E</tspan>
<tspan x="71.11" y="-0.41" style="font-size: 10.30px; font-family: 'Liberation Sans', sans-serif; fill: #222222" textLength="5.21" lengthAdjust="spacingAndGlyphs">s</tspan>
<tspan x="76.32" y="-0.41" style="font-size: 10.30px; font-family: 'Liberation Sans', sans-serif; fill: #222222" textLength="6.35" lengthAdjust="spacingAndGlyphs">g</tspan>
<tspan x="82.67" y="-0.41" style="font-size: 10.30px; font-family: 'Liberation Sans', sans-serif; fill: #222222" textLength="6.13" lengthAdjust="spacingAndGlyphs">a</tspan>
<tspan x="88.8" y="-0.41" style="font-size: 10.30px; font-family: 'Liberation Sans', sans-serif; fill: #222222" textLength="5.21" lengthAdjust="spacingAndGlyphs">s</tspan>
<tspan x="94.01" y="-0.41" style="font-size: 10.30px; font-family: 'Liberation Sans', sans-serif; fill: #222222" textLength="6.34" lengthAdjust="spacingAndGlyphs">n</tspan>
<tspan x="100.35" y="-0.41" style="font-size: 10.30px; font-family: 'Liberation Sans', sans-serif; fill: #222222" textLength="6.12" lengthAdjust="spacingAndGlyphs">o</tspan>
<tspan x="106.46" y="-0.41" style="font-size: 10.30px; font-family: 'Liberation Sans', sans-serif; fill: #222222" textLength="6.34" lengthAdjust="spacingAndGlyphs">n</tspan>
<tspan x="112.8" y="-0.41" style="font-size: 10.30px; font-family: 'Liberation Sans', sans-serif; fill: #222222" textLength="6.15" lengthAdjust="spacingAndGlyphs">e</tspan>
</text>
</g>
</g>
<g id="line2d_84">
<path d="M 378.72 339.12 L 388.8 339.12 L 398.88 339.12" style="fill: none; stroke: #ff0000; stroke-opacity: 0.25; stroke-width: 1.5; stroke-linecap: square"/>
</g>
<g id="text_41">
<g transform="translate(406.79 342.8)">
<text>
<tspan x="0" y="-0.41" style="font-style: italic; font-size: 10.30px; font-family: 'Liberation Sans', sans-serif; fill: #222222" textLength="5.92" lengthAdjust="spacingAndGlyphs">v</tspan>
<tspan x="9.82" y="-0.41" style="font-style: italic; font-size: 10.30px; font-family: 'Liberation Sans', sans-serif; fill: #222222" textLength="4.11" lengthAdjust="spacingAndGlyphs">r</tspan>
<tspan x="5.92" y="-0.41" style="font-size: 10.30px; font-family: 'Liberation Sans', sans-serif; fill: #222222" textLength="3.90" lengthAdjust="spacingAndGlyphs">(</tspan>
<tspan x="13.93" y="-0.41" style="font-size: 10.30px; font-family: 'Liberation Sans', sans-serif; fill: #222222" textLength="3.90" lengthAdjust="spacingAndGlyphs">)</tspan>
<tspan x="17.83" y="-0.41" style="font-size: 10.30px; font-family: 'Liberation Sans', sans-serif; fill: #222222"> </tspan>
<tspan x="21.01" y="-0.41" style="font-size: 10.30px; font-family: 'Liberation Sans', sans-serif; fill: #222222" textLength="6.36" lengthAdjust="spacingAndGlyphs">5</tspan>
<tspan x="27.37" y="-0.41" style="font-size: 10.30px; font-family: 'Liberation Sans', sans-serif; fill: #222222" textLength="6.36" lengthAdjust="spacingAndGlyphs">0</tspan>
<tspan x="33.74" y="-0.41" style="font-size: 10.30px; font-family: 'Liberation Sans', sans-serif; fill: #222222" textLength="3.37" lengthAdjust="spacingAndGlyphs">\</tspan>
<tspan x="37.1" y="-0.41" style="font-size: 10.30px; font-family: 'Liberation Sans', sans-serif; fill: #222222" textLength="9.50" lengthAdjust="spacingAndGlyphs">%</tspan>
</text>
</g>
</g>
<g id="line2d_85">
<path d="M 378.72 354.96 L 388.8 354.96 L 398.88 354.96" style="fill: none; stroke-dasharray: 1.5,2.48; stroke-dashoffset: 0; stroke: #1f77b4; stroke-width: 1.5"/>
</g>
<g id="text_42">
<text style="font-size: 10.30px; font-family: 'Liberation Sans', sans-serif; text-anchor: start; fill: #222222" y="358.24" transform="rotate(-0 406.79 358.24)"><tspan x="406.79" textLength="6.36" lengthAdjust="spacingAndGlyphs">2</tspan><tspan x="416.24" textLength="6.95" lengthAdjust="spacingAndGlyphs">R</tspan><tspan x="423.17" textLength="6.34" lengthAdjust="spacingAndGlyphs">h</tspan><tspan x="429.47" textLength="6.13" lengthAdjust="spacingAndGlyphs">a</tspan><tspan x="435.68" textLength="2.78" lengthAdjust="spacingAndGlyphs">l</tspan><tspan x="438.47" textLength="3.52" lengthAdjust="spacingAndGlyphs">f</tspan></text>
</g>
<g id="line2d_86">
<path d="M 378.72 370.08 L 388.8 370.08 L 398.88 370.08" style="fill: none; stroke: #1f77b4; stroke-width: 1.5; stroke-linecap: square"/>
</g>
<g id="text_43">
<text style="font-size: 10.30px; font-family: 'Liberation Sans', sans-serif; text-anchor: start; fill: #222222" y="373.32" transform="rotate(-0 406.79 373.32)"><tspan x="406.79" textLength="6.84" lengthAdjust="spacingAndGlyphs">V</tspan><tspan x="413.63" textLength="5.92" lengthAdjust="spacingAndGlyphs">v</tspan><tspan x="419.57" textLength="2.78" lengthAdjust="spacingAndGlyphs">i</tspan><tspan x="422.36" textLength="4.11" lengthAdjust="spacingAndGlyphs">r</tspan></text>
</g>
</g>
</g>
</g>
<defs>
<clipPath id="p0bbcbd8be4">
<rect x="81" y="51.84" width="228.27" height="332.64"/>
</clipPath>
<clipPath id="pd65109ea71">
<rect x="354.93" y="51.84" width="228.27" height="332.64"/>
</clipPath>
</defs>
</svg>

</body></html>
